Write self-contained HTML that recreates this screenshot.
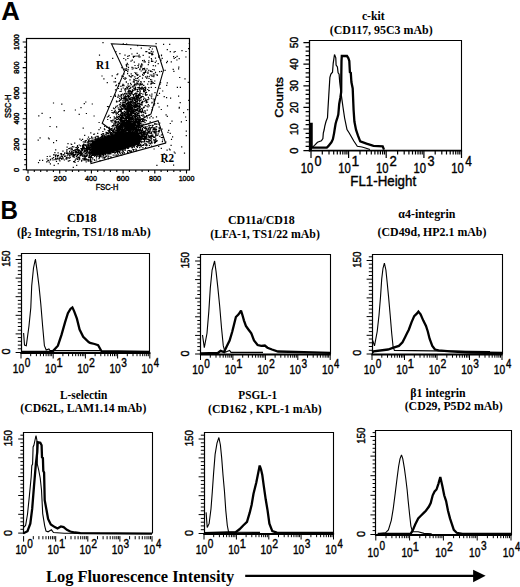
<!DOCTYPE html>
<html><head><meta charset="utf-8"><style>
html,body{margin:0;padding:0;background:#fff;}
body{width:520px;height:587px;overflow:hidden;}
svg{display:block;}
text{fill:#000;}
</style></head><body>
<svg width="520" height="587" viewBox="0 0 520 587">
<rect width="520" height="587" fill="#fff"/>
<text x="1.33" y="19.50" font-size="25.44" font-family="Liberation Sans" font-weight="bold" textLength="18.59" lengthAdjust="spacingAndGlyphs">A</text>
<text x="0.40" y="219.00" font-size="26.16" font-family="Liberation Sans" font-weight="bold" textLength="17.46" lengthAdjust="spacingAndGlyphs">B</text>
<rect x="26.5" y="38.5" width="163" height="131.5" fill="none" stroke="#000" stroke-width="1.2"/>
<path d="M28 170L28 173.5M26.2 169.8L22.7 169.8M34.3 170L34.3 172M26.2 164.7L24.2 164.7M40.7 170L40.7 172M26.2 159.6L24.2 159.6M47 170L47 172M26.2 154.5L24.2 154.5M53.4 170L53.4 172M26.2 149.4L24.2 149.4M59.7 170L59.7 173.5M26.2 144.2L22.7 144.2M66 170L66 172M26.2 139.1L24.2 139.1M72.4 170L72.4 172M26.2 134L24.2 134M78.7 170L78.7 172M26.2 128.9L24.2 128.9M85.1 170L85.1 172M26.2 123.8L24.2 123.8M91.4 170L91.4 173.5M26.2 118.7L22.7 118.7M97.7 170L97.7 172M26.2 113.6L24.2 113.6M104.1 170L104.1 172M26.2 108.5L24.2 108.5M110.4 170L110.4 172M26.2 103.3L24.2 103.3M116.8 170L116.8 172M26.2 98.2L24.2 98.2M123.1 170L123.1 173.5M26.2 93.1L22.7 93.1M129.4 170L129.4 172M26.2 88L24.2 88M135.8 170L135.8 172M26.2 82.9L24.2 82.9M142.1 170L142.1 172M26.2 77.8L24.2 77.8M148.5 170L148.5 172M26.2 72.7L24.2 72.7M154.8 170L154.8 173.5M26.2 67.6L22.7 67.6M161.1 170L161.1 172M26.2 62.4L24.2 62.4M167.5 170L167.5 172M26.2 57.3L24.2 57.3M173.8 170L173.8 172M26.2 52.2L24.2 52.2M180.2 170L180.2 172M26.2 47.1L24.2 47.1M186.5 170L186.5 173.5M26.2 42L22.7 42" stroke="#000" stroke-width="1.1" fill="none"/>
<text x="25.50" y="180.72" font-size="8.05" font-family="Liberation Sans" stroke="#000" stroke-width="0.4" textLength="4.19" lengthAdjust="spacingAndGlyphs">0</text>
<text transform="translate(18.53 171.90) rotate(-90)" x="0" y="0" font-size="6.92" font-family="Liberation Sans" stroke="#000" stroke-width="0.4" textLength="4.19" lengthAdjust="spacingAndGlyphs">0</text>
<text x="53.61" y="180.72" font-size="8.05" font-family="Liberation Sans" stroke="#000" stroke-width="0.4" textLength="12.88" lengthAdjust="spacingAndGlyphs">200</text>
<text transform="translate(18.53 150.73) rotate(-90)" x="0" y="0" font-size="6.92" font-family="Liberation Sans" stroke="#000" stroke-width="0.4" textLength="12.88" lengthAdjust="spacingAndGlyphs">200</text>
<text x="85.09" y="180.72" font-size="8.05" font-family="Liberation Sans" stroke="#000" stroke-width="0.4" textLength="11.93" lengthAdjust="spacingAndGlyphs">400</text>
<text transform="translate(18.53 124.59) rotate(-90)" x="0" y="0" font-size="6.92" font-family="Liberation Sans" stroke="#000" stroke-width="0.4" textLength="11.93" lengthAdjust="spacingAndGlyphs">400</text>
<text x="116.52" y="180.72" font-size="8.05" font-family="Liberation Sans" stroke="#000" stroke-width="0.4" textLength="12.67" lengthAdjust="spacingAndGlyphs">600</text>
<text transform="translate(18.53 99.50) rotate(-90)" x="0" y="0" font-size="6.92" font-family="Liberation Sans" stroke="#000" stroke-width="0.4" textLength="12.67" lengthAdjust="spacingAndGlyphs">600</text>
<text x="148.88" y="180.72" font-size="8.05" font-family="Liberation Sans" stroke="#000" stroke-width="0.4" textLength="12.20" lengthAdjust="spacingAndGlyphs">800</text>
<text transform="translate(18.53 73.68) rotate(-90)" x="0" y="0" font-size="6.92" font-family="Liberation Sans" stroke="#000" stroke-width="0.4" textLength="12.20" lengthAdjust="spacingAndGlyphs">800</text>
<text x="178.66" y="180.72" font-size="8.05" font-family="Liberation Sans" stroke="#000" stroke-width="0.4" textLength="15.81" lengthAdjust="spacingAndGlyphs">1000</text>
<text transform="translate(18.53 50.04) rotate(-90)" x="0" y="0" font-size="6.92" font-family="Liberation Sans" stroke="#000" stroke-width="0.4" textLength="15.81" lengthAdjust="spacingAndGlyphs">1000</text>
<text x="95.69" y="190.02" font-size="8.19" font-family="Liberation Sans" stroke="#000" stroke-width="0.4" textLength="22.71" lengthAdjust="spacingAndGlyphs">FSC-H</text>
<text transform="translate(10.72 117.95) rotate(-90)" x="0" y="0" font-size="8.19" font-family="Liberation Sans" stroke="#000" stroke-width="0.4" textLength="23.36" lengthAdjust="spacingAndGlyphs">SSC-H</text>
<polygon points="92.5,141 100,138.5 108,136.2 119.6,132.7 131,131.5 138,133 141,137 140.4,143.5 131,147.1 119.6,150.6 108,153.5 96.5,155.8 92,156 91,148" fill="#000"/>
<path d="M112.4 146h1.2v1.2h-1.2zM111.6 141.5h1.2v1.2h-1.2zM99.6 145.6h1.2v1.2h-1.2zM135.8 138.5h1.2v1.2h-1.2zM134.3 138h1.2v1.2h-1.2zM123.1 141h1.2v1.2h-1.2zM88.6 155.1h1.2v1.2h-1.2zM125.5 142h1.2v1.2h-1.2zM84.1 141.5h1.2v1.2h-1.2zM99.9 144.1h1.2v1.2h-1.2zM121.2 140.2h1.2v1.2h-1.2zM124 135.9h1.2v1.2h-1.2zM121.9 142.5h1.2v1.2h-1.2zM107.3 154.4h1.2v1.2h-1.2zM127.5 145.5h1.2v1.2h-1.2zM104.1 141.3h1.2v1.2h-1.2zM109.9 143.2h1.2v1.2h-1.2zM127.3 140.1h1.2v1.2h-1.2zM106.8 139.2h1.2v1.2h-1.2zM108.9 151.1h1.2v1.2h-1.2zM102.4 147.4h1.2v1.2h-1.2zM121 132h1.2v1.2h-1.2zM118.9 148.6h1.2v1.2h-1.2zM80.7 150.6h1.2v1.2h-1.2zM112.9 138.2h1.2v1.2h-1.2zM124.5 139.1h1.2v1.2h-1.2zM92 153.9h1.2v1.2h-1.2zM129 143.6h1.2v1.2h-1.2zM141.4 136.5h1.2v1.2h-1.2zM116 134.5h1.2v1.2h-1.2zM125.7 135.6h1.2v1.2h-1.2zM106.2 137.7h1.2v1.2h-1.2zM98.5 144.2h1.2v1.2h-1.2zM135.1 124.7h1.2v1.2h-1.2zM91.2 150.7h1.2v1.2h-1.2zM141.8 137.6h1.2v1.2h-1.2zM79.3 138.5h1.2v1.2h-1.2zM121 136.3h1.2v1.2h-1.2zM98.2 152.9h1.2v1.2h-1.2zM135.3 137.2h1.2v1.2h-1.2zM120.9 143h1.2v1.2h-1.2zM144.5 137.1h1.2v1.2h-1.2zM125.8 142.2h1.2v1.2h-1.2zM90.9 156.8h1.2v1.2h-1.2zM133.3 139.9h1.2v1.2h-1.2zM81 148.8h1.2v1.2h-1.2zM127.7 128.1h1.2v1.2h-1.2zM114.4 148.3h1.2v1.2h-1.2zM95.9 157.2h1.2v1.2h-1.2zM125.3 138.4h1.2v1.2h-1.2zM122.6 143.8h1.2v1.2h-1.2zM119.9 147.4h1.2v1.2h-1.2zM103.9 143.2h1.2v1.2h-1.2zM134 136.8h1.2v1.2h-1.2zM102.3 151.5h1.2v1.2h-1.2zM140.6 132.1h1.2v1.2h-1.2zM92 148.4h1.2v1.2h-1.2zM113 141.2h1.2v1.2h-1.2zM138.6 129.4h1.2v1.2h-1.2zM135.8 128.8h1.2v1.2h-1.2zM103.4 149.4h1.2v1.2h-1.2zM136.8 140.7h1.2v1.2h-1.2zM122.2 141h1.2v1.2h-1.2zM119.5 144.3h1.2v1.2h-1.2zM113.4 144.4h1.2v1.2h-1.2zM125.9 139.1h1.2v1.2h-1.2zM130.1 141.1h1.2v1.2h-1.2zM151.2 133.4h1.2v1.2h-1.2zM108 142.2h1.2v1.2h-1.2zM117.2 146.9h1.2v1.2h-1.2zM110.8 145.8h1.2v1.2h-1.2zM97 149.1h1.2v1.2h-1.2zM123.2 141.2h1.2v1.2h-1.2zM109.6 147.7h1.2v1.2h-1.2zM120 137.8h1.2v1.2h-1.2zM158.5 131.4h1.2v1.2h-1.2zM106.3 144.3h1.2v1.2h-1.2zM112 142.8h1.2v1.2h-1.2zM68.2 153.4h1.2v1.2h-1.2zM131.6 130.7h1.2v1.2h-1.2zM116.3 147.4h1.2v1.2h-1.2zM133.1 145.5h1.2v1.2h-1.2zM86.1 148.9h1.2v1.2h-1.2zM111.1 147h1.2v1.2h-1.2zM130.6 122.3h1.2v1.2h-1.2zM132.5 128.8h1.2v1.2h-1.2zM125.4 130.6h1.2v1.2h-1.2zM120.9 147.4h1.2v1.2h-1.2zM113.7 143.8h1.2v1.2h-1.2zM130 138.7h1.2v1.2h-1.2zM116.9 150.5h1.2v1.2h-1.2zM133.6 135.1h1.2v1.2h-1.2zM131.4 135.9h1.2v1.2h-1.2zM119.4 145h1.2v1.2h-1.2zM120.8 144.2h1.2v1.2h-1.2zM87.3 141.9h1.2v1.2h-1.2zM125.1 133.8h1.2v1.2h-1.2zM96 139.5h1.2v1.2h-1.2zM139 139.4h1.2v1.2h-1.2zM139.9 129.5h1.2v1.2h-1.2zM114.2 136h1.2v1.2h-1.2zM131.7 146.4h1.2v1.2h-1.2zM103.1 154.8h1.2v1.2h-1.2zM132.8 136h1.2v1.2h-1.2zM84.2 159.5h1.2v1.2h-1.2zM113.4 139.3h1.2v1.2h-1.2zM123.5 142.1h1.2v1.2h-1.2zM140.2 128.9h1.2v1.2h-1.2zM137.9 144h1.2v1.2h-1.2zM140.8 133.6h1.2v1.2h-1.2zM104.8 151.2h1.2v1.2h-1.2zM118.2 142.1h1.2v1.2h-1.2zM140.2 133.3h1.2v1.2h-1.2zM75.8 151.7h1.2v1.2h-1.2zM85.3 155.8h1.2v1.2h-1.2zM120.5 137.2h1.2v1.2h-1.2zM117.1 146.4h1.2v1.2h-1.2zM119.4 148.6h1.2v1.2h-1.2zM116.6 147.8h1.2v1.2h-1.2zM144.3 142.8h1.2v1.2h-1.2zM105.8 150.1h1.2v1.2h-1.2zM81.9 145.9h1.2v1.2h-1.2zM83.8 157.7h1.2v1.2h-1.2zM94.7 148.3h1.2v1.2h-1.2zM112.6 142.8h1.2v1.2h-1.2zM106.2 146.3h1.2v1.2h-1.2zM147 133h1.2v1.2h-1.2zM126.7 144.6h1.2v1.2h-1.2zM110.6 136.4h1.2v1.2h-1.2zM108.1 150.5h1.2v1.2h-1.2zM86.7 147.3h1.2v1.2h-1.2zM134.6 141h1.2v1.2h-1.2zM117.4 146.2h1.2v1.2h-1.2zM117 134.9h1.2v1.2h-1.2zM88 146.7h1.2v1.2h-1.2zM131 134.3h1.2v1.2h-1.2zM99.2 142.6h1.2v1.2h-1.2zM89.4 149.2h1.2v1.2h-1.2zM96.2 150h1.2v1.2h-1.2zM75.8 155.8h1.2v1.2h-1.2zM101.9 135.1h1.2v1.2h-1.2zM128.1 136.8h1.2v1.2h-1.2zM76.2 148.8h1.2v1.2h-1.2zM120.3 138.1h1.2v1.2h-1.2zM130.6 141.9h1.2v1.2h-1.2zM128 140.3h1.2v1.2h-1.2zM140 138.6h1.2v1.2h-1.2zM120.5 128.7h1.2v1.2h-1.2zM133.5 144.3h1.2v1.2h-1.2zM110.1 141h1.2v1.2h-1.2zM127.9 152.4h1.2v1.2h-1.2zM101.1 150.4h1.2v1.2h-1.2zM148.4 131.7h1.2v1.2h-1.2zM127.1 143.9h1.2v1.2h-1.2zM100.2 146.2h1.2v1.2h-1.2zM122.3 144.8h1.2v1.2h-1.2zM115.1 141.1h1.2v1.2h-1.2zM97.9 145.3h1.2v1.2h-1.2zM131.5 138h1.2v1.2h-1.2zM100 141.9h1.2v1.2h-1.2zM122.9 125.1h1.2v1.2h-1.2zM127.5 141.3h1.2v1.2h-1.2zM145.7 135.6h1.2v1.2h-1.2zM115.7 145.1h1.2v1.2h-1.2zM84.1 157.4h1.2v1.2h-1.2zM120.5 136.6h1.2v1.2h-1.2zM141.7 144.7h1.2v1.2h-1.2zM90.8 145.7h1.2v1.2h-1.2zM121.3 141.5h1.2v1.2h-1.2zM107.6 138.9h1.2v1.2h-1.2zM154.2 136.6h1.2v1.2h-1.2zM93.3 141h1.2v1.2h-1.2zM146.9 138.5h1.2v1.2h-1.2zM148.7 136.9h1.2v1.2h-1.2zM101.4 147.8h1.2v1.2h-1.2zM77.6 149.1h1.2v1.2h-1.2zM115.8 145.1h1.2v1.2h-1.2zM103.3 145.1h1.2v1.2h-1.2zM124.5 141.6h1.2v1.2h-1.2zM127.3 139.8h1.2v1.2h-1.2zM111.6 147.8h1.2v1.2h-1.2zM115.6 137.4h1.2v1.2h-1.2zM105.2 145.2h1.2v1.2h-1.2zM114.4 143.4h1.2v1.2h-1.2zM116.3 142.9h1.2v1.2h-1.2zM111.7 136.1h1.2v1.2h-1.2zM124.9 145.4h1.2v1.2h-1.2zM123.2 138.8h1.2v1.2h-1.2zM122.2 134.6h1.2v1.2h-1.2zM83.4 152h1.2v1.2h-1.2zM101.1 150.7h1.2v1.2h-1.2zM93.2 133.7h1.2v1.2h-1.2zM100.5 155.7h1.2v1.2h-1.2zM107.3 136.7h1.2v1.2h-1.2zM103.6 148.7h1.2v1.2h-1.2zM124.8 140.4h1.2v1.2h-1.2zM142.7 138.1h1.2v1.2h-1.2zM116.6 145.3h1.2v1.2h-1.2zM146.1 138.6h1.2v1.2h-1.2zM132 131h1.2v1.2h-1.2zM114.6 146.6h1.2v1.2h-1.2zM112.6 149.2h1.2v1.2h-1.2zM127.7 143.7h1.2v1.2h-1.2zM137.1 134.5h1.2v1.2h-1.2zM111.4 148.4h1.2v1.2h-1.2zM132.9 137h1.2v1.2h-1.2zM96.2 149h1.2v1.2h-1.2zM124 146.1h1.2v1.2h-1.2zM129.5 138.1h1.2v1.2h-1.2zM131.6 140.5h1.2v1.2h-1.2zM119.6 141.2h1.2v1.2h-1.2zM112.9 146.9h1.2v1.2h-1.2zM96.8 144.1h1.2v1.2h-1.2zM113.8 134.3h1.2v1.2h-1.2zM105.3 133.6h1.2v1.2h-1.2zM105.1 148.5h1.2v1.2h-1.2zM125.7 138.8h1.2v1.2h-1.2zM109.8 135.7h1.2v1.2h-1.2zM148.3 135.3h1.2v1.2h-1.2zM133.5 131.7h1.2v1.2h-1.2zM110 133.4h1.2v1.2h-1.2zM130.9 142.9h1.2v1.2h-1.2zM83.2 151.5h1.2v1.2h-1.2zM124.1 129.5h1.2v1.2h-1.2zM82.8 145.7h1.2v1.2h-1.2zM102.9 137.8h1.2v1.2h-1.2zM116.9 143.2h1.2v1.2h-1.2zM128 142.4h1.2v1.2h-1.2zM143.8 140.4h1.2v1.2h-1.2zM92.6 146.1h1.2v1.2h-1.2zM96 141.8h1.2v1.2h-1.2zM114.6 142.4h1.2v1.2h-1.2zM122 131.1h1.2v1.2h-1.2zM94.6 148.2h1.2v1.2h-1.2zM112.1 141.4h1.2v1.2h-1.2zM113.7 138.3h1.2v1.2h-1.2zM128.7 140.3h1.2v1.2h-1.2zM113.4 138.9h1.2v1.2h-1.2zM108.7 128.5h1.2v1.2h-1.2zM99.1 147.2h1.2v1.2h-1.2zM90.4 150.8h1.2v1.2h-1.2zM116.4 134h1.2v1.2h-1.2zM111.2 141.6h1.2v1.2h-1.2zM124.9 142.9h1.2v1.2h-1.2zM114 137.7h1.2v1.2h-1.2zM113.4 142.4h1.2v1.2h-1.2zM129.1 139.8h1.2v1.2h-1.2zM101.4 138.6h1.2v1.2h-1.2zM108.4 140h1.2v1.2h-1.2zM96.6 147.1h1.2v1.2h-1.2zM107.7 145.1h1.2v1.2h-1.2zM124.4 137.1h1.2v1.2h-1.2zM155.6 128.4h1.2v1.2h-1.2zM135.2 137h1.2v1.2h-1.2zM131.5 123.7h1.2v1.2h-1.2zM103.4 147.2h1.2v1.2h-1.2zM130.1 151.2h1.2v1.2h-1.2zM123.6 147.1h1.2v1.2h-1.2zM130.7 143.1h1.2v1.2h-1.2zM124.6 138.6h1.2v1.2h-1.2zM123.1 133.7h1.2v1.2h-1.2zM134.8 130.6h1.2v1.2h-1.2zM123.6 151.9h1.2v1.2h-1.2zM112.2 143.2h1.2v1.2h-1.2zM136.1 136.2h1.2v1.2h-1.2zM102.5 147.5h1.2v1.2h-1.2zM127.2 142.8h1.2v1.2h-1.2zM105.4 155.2h1.2v1.2h-1.2zM144.8 133.5h1.2v1.2h-1.2zM120 138.4h1.2v1.2h-1.2zM139.3 131h1.2v1.2h-1.2zM126.9 136h1.2v1.2h-1.2zM105.2 149.3h1.2v1.2h-1.2zM139 135.1h1.2v1.2h-1.2zM105.6 149.8h1.2v1.2h-1.2zM115.6 143.9h1.2v1.2h-1.2zM144 140.2h1.2v1.2h-1.2zM110.6 156.7h1.2v1.2h-1.2zM117.3 146.1h1.2v1.2h-1.2zM104.8 145.1h1.2v1.2h-1.2zM88.6 160.4h1.2v1.2h-1.2zM137.7 128.6h1.2v1.2h-1.2zM87.5 141.2h1.2v1.2h-1.2zM135.6 133.5h1.2v1.2h-1.2zM114.5 140.7h1.2v1.2h-1.2zM112.2 136.9h1.2v1.2h-1.2zM114.2 134.3h1.2v1.2h-1.2zM115.3 144h1.2v1.2h-1.2zM123.7 138.4h1.2v1.2h-1.2zM100.7 147.5h1.2v1.2h-1.2zM110.1 152.7h1.2v1.2h-1.2zM129.1 137.5h1.2v1.2h-1.2zM106.8 140.7h1.2v1.2h-1.2zM99.3 144.9h1.2v1.2h-1.2zM121.9 143.2h1.2v1.2h-1.2zM129.1 150.1h1.2v1.2h-1.2zM103.9 145.7h1.2v1.2h-1.2zM107.3 145.6h1.2v1.2h-1.2zM119.3 143.4h1.2v1.2h-1.2zM112.5 145.2h1.2v1.2h-1.2zM118.1 145.8h1.2v1.2h-1.2zM82 147h1.2v1.2h-1.2zM114.3 136.6h1.2v1.2h-1.2zM99 150.7h1.2v1.2h-1.2zM105.8 148.7h1.2v1.2h-1.2zM129.3 139.8h1.2v1.2h-1.2zM124.6 138.8h1.2v1.2h-1.2zM91.6 149.1h1.2v1.2h-1.2zM123 136.9h1.2v1.2h-1.2zM115.5 146.5h1.2v1.2h-1.2zM101.9 149.9h1.2v1.2h-1.2zM147.3 129.5h1.2v1.2h-1.2zM118.3 140.5h1.2v1.2h-1.2zM143.1 135.8h1.2v1.2h-1.2zM130.4 133.8h1.2v1.2h-1.2zM115.7 142h1.2v1.2h-1.2zM87.6 158.7h1.2v1.2h-1.2zM128.8 128.2h1.2v1.2h-1.2zM128.6 137.5h1.2v1.2h-1.2zM124.3 141.6h1.2v1.2h-1.2zM89.8 148.6h1.2v1.2h-1.2zM140.9 131.3h1.2v1.2h-1.2zM96.2 140.1h1.2v1.2h-1.2zM95.5 150h1.2v1.2h-1.2zM145.9 135.6h1.2v1.2h-1.2zM123.7 152.5h1.2v1.2h-1.2zM106 141.1h1.2v1.2h-1.2zM126 142.2h1.2v1.2h-1.2zM96.7 141h1.2v1.2h-1.2zM121.4 141.8h1.2v1.2h-1.2zM93.1 147.6h1.2v1.2h-1.2zM107.4 147.2h1.2v1.2h-1.2zM113.9 142.1h1.2v1.2h-1.2zM111.6 149.4h1.2v1.2h-1.2zM139.4 132.9h1.2v1.2h-1.2zM129.4 133.7h1.2v1.2h-1.2zM118.4 145.6h1.2v1.2h-1.2zM141.5 132.2h1.2v1.2h-1.2zM115 143.4h1.2v1.2h-1.2zM90.2 149.8h1.2v1.2h-1.2zM104.9 147.4h1.2v1.2h-1.2zM93.4 137.4h1.2v1.2h-1.2zM117.1 143.2h1.2v1.2h-1.2zM107.9 149.5h1.2v1.2h-1.2zM110.3 140.2h1.2v1.2h-1.2zM121.8 131.3h1.2v1.2h-1.2zM104.3 145.4h1.2v1.2h-1.2zM130.4 136.8h1.2v1.2h-1.2zM120.3 137h1.2v1.2h-1.2zM123.8 149.2h1.2v1.2h-1.2zM107.9 158h1.2v1.2h-1.2zM104.9 145.4h1.2v1.2h-1.2zM120.6 146.5h1.2v1.2h-1.2zM91.4 137.3h1.2v1.2h-1.2zM127.7 143.1h1.2v1.2h-1.2zM119.9 142.3h1.2v1.2h-1.2zM132.6 139.2h1.2v1.2h-1.2zM142.8 126.9h1.2v1.2h-1.2zM104.1 125.8h1.2v1.2h-1.2zM129.4 135.9h1.2v1.2h-1.2zM135.3 148.6h1.2v1.2h-1.2zM115.5 140.7h1.2v1.2h-1.2zM106.1 140.1h1.2v1.2h-1.2zM106.1 148.6h1.2v1.2h-1.2zM116.7 142.2h1.2v1.2h-1.2zM114.4 147.7h1.2v1.2h-1.2zM124.3 138.7h1.2v1.2h-1.2zM127.2 137.8h1.2v1.2h-1.2zM98.4 155.6h1.2v1.2h-1.2zM122.5 134.6h1.2v1.2h-1.2zM135.2 138.3h1.2v1.2h-1.2zM91.5 158.5h1.2v1.2h-1.2zM123.2 145h1.2v1.2h-1.2zM119.2 140.2h1.2v1.2h-1.2zM90.8 155.1h1.2v1.2h-1.2zM116.1 140.3h1.2v1.2h-1.2zM122.2 140.6h1.2v1.2h-1.2zM127.1 136.6h1.2v1.2h-1.2zM112 130.9h1.2v1.2h-1.2zM109.8 147.7h1.2v1.2h-1.2zM138.5 133.2h1.2v1.2h-1.2zM116.4 151h1.2v1.2h-1.2zM111.5 147.5h1.2v1.2h-1.2zM145 133.6h1.2v1.2h-1.2zM136.1 132h1.2v1.2h-1.2zM119.5 140.5h1.2v1.2h-1.2zM119.8 147.4h1.2v1.2h-1.2zM156.2 126.2h1.2v1.2h-1.2zM106.9 147.6h1.2v1.2h-1.2zM98.6 150h1.2v1.2h-1.2zM125.4 137.6h1.2v1.2h-1.2zM122.7 131.1h1.2v1.2h-1.2zM126.7 130h1.2v1.2h-1.2zM103.1 142.6h1.2v1.2h-1.2zM110.4 148.6h1.2v1.2h-1.2zM116.8 139.5h1.2v1.2h-1.2zM127.9 147.5h1.2v1.2h-1.2zM116.7 143.9h1.2v1.2h-1.2zM137.8 137.1h1.2v1.2h-1.2zM116 144.4h1.2v1.2h-1.2zM133.7 140.6h1.2v1.2h-1.2zM109.7 137.8h1.2v1.2h-1.2zM119.4 146.9h1.2v1.2h-1.2zM95.6 142.2h1.2v1.2h-1.2zM112.5 131.9h1.2v1.2h-1.2zM110.8 141h1.2v1.2h-1.2zM122.7 136h1.2v1.2h-1.2zM100.2 144.4h1.2v1.2h-1.2zM114.1 138.8h1.2v1.2h-1.2zM117.4 145.9h1.2v1.2h-1.2zM139.1 144.9h1.2v1.2h-1.2zM101.8 143.8h1.2v1.2h-1.2zM76.1 164.7h1.2v1.2h-1.2zM103.4 145.5h1.2v1.2h-1.2zM122.9 132.2h1.2v1.2h-1.2zM124 139.5h1.2v1.2h-1.2zM85 152.9h1.2v1.2h-1.2zM133.7 126h1.2v1.2h-1.2zM130.3 139h1.2v1.2h-1.2zM124.9 141.9h1.2v1.2h-1.2zM138.1 134.1h1.2v1.2h-1.2zM130.4 135.4h1.2v1.2h-1.2zM127.3 134h1.2v1.2h-1.2zM116.8 151.7h1.2v1.2h-1.2zM123.4 138.9h1.2v1.2h-1.2zM95 143.7h1.2v1.2h-1.2zM120.8 146h1.2v1.2h-1.2zM124.2 142.6h1.2v1.2h-1.2zM117.4 149.3h1.2v1.2h-1.2zM108.4 141.1h1.2v1.2h-1.2zM131.4 137.8h1.2v1.2h-1.2zM110.3 140.4h1.2v1.2h-1.2zM112.5 146.6h1.2v1.2h-1.2zM120.2 133.8h1.2v1.2h-1.2zM123.6 140.8h1.2v1.2h-1.2zM100 151.2h1.2v1.2h-1.2zM110.6 141.7h1.2v1.2h-1.2zM131.8 144.9h1.2v1.2h-1.2zM104.8 147.8h1.2v1.2h-1.2zM104.5 158.7h1.2v1.2h-1.2zM109.4 150.8h1.2v1.2h-1.2zM106.1 149.6h1.2v1.2h-1.2zM109.3 146.9h1.2v1.2h-1.2zM113.4 139h1.2v1.2h-1.2zM153.3 131.4h1.2v1.2h-1.2zM89 154.9h1.2v1.2h-1.2zM88.1 156.9h1.2v1.2h-1.2zM106.3 145.7h1.2v1.2h-1.2zM137.9 136.2h1.2v1.2h-1.2zM89.3 140.2h1.2v1.2h-1.2zM137.6 139.8h1.2v1.2h-1.2zM103.3 150.7h1.2v1.2h-1.2zM125.6 142.9h1.2v1.2h-1.2zM76.6 152h1.2v1.2h-1.2zM132.7 141.2h1.2v1.2h-1.2zM127.4 124.5h1.2v1.2h-1.2zM119.7 143.7h1.2v1.2h-1.2zM158.5 123.9h1.2v1.2h-1.2zM110.4 143.9h1.2v1.2h-1.2zM130.6 135.1h1.2v1.2h-1.2zM134.6 132h1.2v1.2h-1.2zM119.8 137.9h1.2v1.2h-1.2zM117.6 137.5h1.2v1.2h-1.2zM90.2 156h1.2v1.2h-1.2zM120.4 137.5h1.2v1.2h-1.2zM121 146.2h1.2v1.2h-1.2zM99 146.4h1.2v1.2h-1.2zM126.1 142h1.2v1.2h-1.2zM106.9 132.6h1.2v1.2h-1.2zM138 137.4h1.2v1.2h-1.2zM115.8 140.5h1.2v1.2h-1.2zM119.9 138.4h1.2v1.2h-1.2zM97.2 143.4h1.2v1.2h-1.2zM104.7 141.8h1.2v1.2h-1.2zM97 151.3h1.2v1.2h-1.2zM94.4 152.2h1.2v1.2h-1.2zM99 149.1h1.2v1.2h-1.2zM140 136h1.2v1.2h-1.2zM103.5 146h1.2v1.2h-1.2zM115.8 132.1h1.2v1.2h-1.2zM105.8 146h1.2v1.2h-1.2zM108 144.8h1.2v1.2h-1.2zM129.9 142.3h1.2v1.2h-1.2zM132.5 140.5h1.2v1.2h-1.2zM111 143.4h1.2v1.2h-1.2zM110.8 141.7h1.2v1.2h-1.2zM110.2 133.8h1.2v1.2h-1.2zM110.2 143.6h1.2v1.2h-1.2zM99.2 146.9h1.2v1.2h-1.2zM124.6 138.5h1.2v1.2h-1.2zM109.6 133.4h1.2v1.2h-1.2zM73 155.5h1.2v1.2h-1.2zM124.5 137.7h1.2v1.2h-1.2zM122 127.3h1.2v1.2h-1.2zM131.3 139.6h1.2v1.2h-1.2zM115.5 138.8h1.2v1.2h-1.2zM126.3 136.2h1.2v1.2h-1.2zM119.1 138.2h1.2v1.2h-1.2zM77.2 153.4h1.2v1.2h-1.2zM120.7 144.9h1.2v1.2h-1.2zM100.8 146.3h1.2v1.2h-1.2zM126.9 139.6h1.2v1.2h-1.2zM140.6 146.1h1.2v1.2h-1.2zM97.3 136.5h1.2v1.2h-1.2zM133.2 145.7h1.2v1.2h-1.2zM133.2 141.6h1.2v1.2h-1.2zM104.2 141.4h1.2v1.2h-1.2zM129.9 132.6h1.2v1.2h-1.2zM83.2 146h1.2v1.2h-1.2zM162 139.4h1.2v1.2h-1.2zM103 141.7h1.2v1.2h-1.2zM118.8 136.9h1.2v1.2h-1.2zM138.5 134.9h1.2v1.2h-1.2zM99.3 154.5h1.2v1.2h-1.2zM106.3 146.2h1.2v1.2h-1.2zM115.3 140.4h1.2v1.2h-1.2zM120.5 136.7h1.2v1.2h-1.2zM80.7 139.8h1.2v1.2h-1.2zM93 144.5h1.2v1.2h-1.2zM115.7 142.4h1.2v1.2h-1.2zM125.8 139.8h1.2v1.2h-1.2zM101.2 142.3h1.2v1.2h-1.2zM79.2 152h1.2v1.2h-1.2zM125.2 142.3h1.2v1.2h-1.2zM113.6 141.7h1.2v1.2h-1.2zM132.2 137.3h1.2v1.2h-1.2zM129.6 141.3h1.2v1.2h-1.2zM121.7 147.8h1.2v1.2h-1.2zM105.6 143h1.2v1.2h-1.2zM100.8 141.9h1.2v1.2h-1.2zM145.6 143.3h1.2v1.2h-1.2zM117.3 144.9h1.2v1.2h-1.2zM137.5 140.2h1.2v1.2h-1.2zM134.8 129.2h1.2v1.2h-1.2zM105.7 147.7h1.2v1.2h-1.2zM140.9 135.2h1.2v1.2h-1.2zM100.6 144.5h1.2v1.2h-1.2zM103.3 140.9h1.2v1.2h-1.2zM140.9 131h1.2v1.2h-1.2zM119.7 153.3h1.2v1.2h-1.2zM137 137.7h1.2v1.2h-1.2zM106.1 147.3h1.2v1.2h-1.2zM145 137h1.2v1.2h-1.2zM137.9 136h1.2v1.2h-1.2zM124.6 138.3h1.2v1.2h-1.2zM125.4 146.7h1.2v1.2h-1.2zM91.2 149h1.2v1.2h-1.2zM119.3 137.8h1.2v1.2h-1.2zM111.9 147.7h1.2v1.2h-1.2zM151.5 135.1h1.2v1.2h-1.2zM119.2 132.1h1.2v1.2h-1.2zM149.4 132.5h1.2v1.2h-1.2zM113.7 136.3h1.2v1.2h-1.2zM113.3 136.5h1.2v1.2h-1.2zM118 144.1h1.2v1.2h-1.2zM117 143.3h1.2v1.2h-1.2zM103.5 153.9h1.2v1.2h-1.2zM101.9 135.8h1.2v1.2h-1.2zM111.6 138.9h1.2v1.2h-1.2zM98 145.3h1.2v1.2h-1.2zM119.2 134.3h1.2v1.2h-1.2zM115.9 150.2h1.2v1.2h-1.2zM127.5 137.7h1.2v1.2h-1.2zM118 140.7h1.2v1.2h-1.2zM116.3 146.1h1.2v1.2h-1.2zM110.6 129.8h1.2v1.2h-1.2zM114.2 137.4h1.2v1.2h-1.2zM126.3 135.4h1.2v1.2h-1.2zM122 152.7h1.2v1.2h-1.2zM96.2 141.4h1.2v1.2h-1.2zM87.9 136.6h1.2v1.2h-1.2zM84.2 153.6h1.2v1.2h-1.2zM102.1 135.4h1.2v1.2h-1.2zM91.4 152.9h1.2v1.2h-1.2zM102 144h1.2v1.2h-1.2zM123.8 147.5h1.2v1.2h-1.2zM151.1 137.5h1.2v1.2h-1.2zM118.8 142.2h1.2v1.2h-1.2zM149.3 140.3h1.2v1.2h-1.2zM111.4 146h1.2v1.2h-1.2zM121 140.8h1.2v1.2h-1.2zM105.3 137.6h1.2v1.2h-1.2zM104.4 136.6h1.2v1.2h-1.2zM138 138.6h1.2v1.2h-1.2zM97.4 155.5h1.2v1.2h-1.2zM128.4 127.4h1.2v1.2h-1.2zM149 136.8h1.2v1.2h-1.2zM149.7 124.9h1.2v1.2h-1.2zM125.8 141.5h1.2v1.2h-1.2zM119.8 141.9h1.2v1.2h-1.2zM131.8 128.7h1.2v1.2h-1.2zM92.4 141h1.2v1.2h-1.2zM105.4 141.7h1.2v1.2h-1.2zM122.8 141.5h1.2v1.2h-1.2zM115.5 138.3h1.2v1.2h-1.2zM109.9 149.3h1.2v1.2h-1.2zM129.3 138.6h1.2v1.2h-1.2zM112.9 151.8h1.2v1.2h-1.2zM106.8 148.5h1.2v1.2h-1.2zM135.5 134.7h1.2v1.2h-1.2zM128.5 131.9h1.2v1.2h-1.2zM133.8 137.9h1.2v1.2h-1.2zM89.7 153.7h1.2v1.2h-1.2zM102.6 153.3h1.2v1.2h-1.2zM104 144.6h1.2v1.2h-1.2zM120.4 138.8h1.2v1.2h-1.2zM119.6 137.8h1.2v1.2h-1.2zM127.6 138.6h1.2v1.2h-1.2zM115.3 126.4h1.2v1.2h-1.2zM136.1 136.2h1.2v1.2h-1.2zM85.4 151.6h1.2v1.2h-1.2zM125.7 145.2h1.2v1.2h-1.2zM99.7 155.7h1.2v1.2h-1.2zM117 155.4h1.2v1.2h-1.2zM114.5 146.3h1.2v1.2h-1.2zM107.9 138h1.2v1.2h-1.2zM136.3 141.2h1.2v1.2h-1.2zM143.9 138.6h1.2v1.2h-1.2zM103.5 136.2h1.2v1.2h-1.2zM103.7 141.8h1.2v1.2h-1.2zM102.8 149.3h1.2v1.2h-1.2zM121.2 138.9h1.2v1.2h-1.2zM118.7 140.3h1.2v1.2h-1.2zM120.8 144.9h1.2v1.2h-1.2zM131.5 133.5h1.2v1.2h-1.2zM92.2 157.3h1.2v1.2h-1.2zM119.7 147.2h1.2v1.2h-1.2zM87.1 148.7h1.2v1.2h-1.2zM114.2 134.3h1.2v1.2h-1.2zM108.2 148.5h1.2v1.2h-1.2zM137.1 144.9h1.2v1.2h-1.2zM98.9 139h1.2v1.2h-1.2zM126.5 144.3h1.2v1.2h-1.2zM117.3 134.1h1.2v1.2h-1.2zM130.7 142.2h1.2v1.2h-1.2zM124.8 136.6h1.2v1.2h-1.2zM122.5 144.6h1.2v1.2h-1.2zM103.5 135.1h1.2v1.2h-1.2zM122.4 142.8h1.2v1.2h-1.2zM117.6 146.6h1.2v1.2h-1.2zM105.7 144.6h1.2v1.2h-1.2zM111.6 146.6h1.2v1.2h-1.2zM143.1 132.5h1.2v1.2h-1.2zM153.9 139.5h1.2v1.2h-1.2zM130.6 141h1.2v1.2h-1.2zM146.3 132h1.2v1.2h-1.2zM112.4 137h1.2v1.2h-1.2zM126.3 146.7h1.2v1.2h-1.2zM125.8 141.5h1.2v1.2h-1.2zM112.8 143.9h1.2v1.2h-1.2zM93.1 154.8h1.2v1.2h-1.2zM107.2 138.3h1.2v1.2h-1.2zM101.7 141.5h1.2v1.2h-1.2zM132.4 143.2h1.2v1.2h-1.2zM94 153.8h1.2v1.2h-1.2zM130.4 134.4h1.2v1.2h-1.2zM89.2 145.7h1.2v1.2h-1.2zM105.6 147.1h1.2v1.2h-1.2zM106.6 133.1h1.2v1.2h-1.2zM117.6 132.7h1.2v1.2h-1.2zM129.7 131h1.2v1.2h-1.2zM102.7 141.1h1.2v1.2h-1.2zM108.7 151.6h1.2v1.2h-1.2zM131.6 140.8h1.2v1.2h-1.2zM119.1 132.2h1.2v1.2h-1.2zM106.2 141.8h1.2v1.2h-1.2zM99.9 149.7h1.2v1.2h-1.2zM102.1 142.1h1.2v1.2h-1.2zM94.8 136.5h1.2v1.2h-1.2zM128.4 146h1.2v1.2h-1.2zM117.5 136h1.2v1.2h-1.2zM69.6 156.8h1.2v1.2h-1.2zM137.5 137.3h1.2v1.2h-1.2zM134.3 145h1.2v1.2h-1.2zM134.8 133.9h1.2v1.2h-1.2zM135.4 140.7h1.2v1.2h-1.2zM88.8 147.7h1.2v1.2h-1.2zM91.3 148.7h1.2v1.2h-1.2zM124.3 133.4h1.2v1.2h-1.2zM82.6 159.4h1.2v1.2h-1.2zM124.8 147.8h1.2v1.2h-1.2zM94.8 154.4h1.2v1.2h-1.2zM154.9 141.9h1.2v1.2h-1.2zM112.8 144.5h1.2v1.2h-1.2zM114.9 148.1h1.2v1.2h-1.2zM134 137.1h1.2v1.2h-1.2zM93.7 152.9h1.2v1.2h-1.2zM108.9 147.7h1.2v1.2h-1.2zM123.1 149.2h1.2v1.2h-1.2zM134.9 133.8h1.2v1.2h-1.2zM124.8 149.5h1.2v1.2h-1.2zM107.4 147h1.2v1.2h-1.2zM138.5 142.5h1.2v1.2h-1.2zM122.9 132.4h1.2v1.2h-1.2zM94.6 149.8h1.2v1.2h-1.2zM102.9 152.4h1.2v1.2h-1.2zM126.7 129.2h1.2v1.2h-1.2zM102.1 147.1h1.2v1.2h-1.2zM107.2 143.7h1.2v1.2h-1.2zM122.8 135.3h1.2v1.2h-1.2zM123 136.3h1.2v1.2h-1.2zM107.4 147.6h1.2v1.2h-1.2zM106.6 146.5h1.2v1.2h-1.2zM143.6 133.9h1.2v1.2h-1.2zM114.6 146.6h1.2v1.2h-1.2zM111.4 149.6h1.2v1.2h-1.2zM94.8 151.8h1.2v1.2h-1.2zM105.9 140.4h1.2v1.2h-1.2zM145.2 128.4h1.2v1.2h-1.2zM147.3 136.5h1.2v1.2h-1.2zM139.5 129.4h1.2v1.2h-1.2zM139 143.5h1.2v1.2h-1.2zM113.8 141.9h1.2v1.2h-1.2zM158.7 130.3h1.2v1.2h-1.2zM107.7 140.8h1.2v1.2h-1.2zM124.2 141.5h1.2v1.2h-1.2zM121.8 150.2h1.2v1.2h-1.2zM111.1 146.2h1.2v1.2h-1.2zM139.6 129.2h1.2v1.2h-1.2zM136.8 146.3h1.2v1.2h-1.2zM90.9 143.2h1.2v1.2h-1.2zM95.2 137.6h1.2v1.2h-1.2zM120.9 129.9h1.2v1.2h-1.2zM126.9 147.1h1.2v1.2h-1.2zM87.6 148.6h1.2v1.2h-1.2zM84.1 155.9h1.2v1.2h-1.2zM102.9 144.4h1.2v1.2h-1.2zM117.8 144.6h1.2v1.2h-1.2zM110 143.9h1.2v1.2h-1.2zM106.7 145.4h1.2v1.2h-1.2zM95.9 148.4h1.2v1.2h-1.2zM81.9 149.3h1.2v1.2h-1.2zM149.2 132.6h1.2v1.2h-1.2zM94.7 149.8h1.2v1.2h-1.2zM96.6 138.3h1.2v1.2h-1.2zM104.4 149.7h1.2v1.2h-1.2zM122.5 139.5h1.2v1.2h-1.2zM98.3 141.1h1.2v1.2h-1.2zM139.7 136.4h1.2v1.2h-1.2zM96.3 135.8h1.2v1.2h-1.2zM96.1 147.5h1.2v1.2h-1.2zM119.4 140.1h1.2v1.2h-1.2zM109 136.2h1.2v1.2h-1.2zM100.5 156.3h1.2v1.2h-1.2zM104.3 150.3h1.2v1.2h-1.2zM86.3 149.2h1.2v1.2h-1.2zM122.1 146.1h1.2v1.2h-1.2zM97.6 150.9h1.2v1.2h-1.2zM121.5 136.1h1.2v1.2h-1.2zM122.8 134.8h1.2v1.2h-1.2zM102.2 146h1.2v1.2h-1.2zM69 155.3h1.2v1.2h-1.2zM96.5 139.4h1.2v1.2h-1.2zM109.9 148.2h1.2v1.2h-1.2zM111 150.7h1.2v1.2h-1.2zM93.9 141h1.2v1.2h-1.2zM143.4 136.1h1.2v1.2h-1.2zM131 132.8h1.2v1.2h-1.2zM130.3 139.2h1.2v1.2h-1.2zM127.2 138.8h1.2v1.2h-1.2zM135.8 132.4h1.2v1.2h-1.2zM97.1 139.2h1.2v1.2h-1.2zM134.9 132.2h1.2v1.2h-1.2zM96.5 142.4h1.2v1.2h-1.2zM106.3 137.6h1.2v1.2h-1.2zM110 140.2h1.2v1.2h-1.2zM105 139.8h1.2v1.2h-1.2zM115.9 139.4h1.2v1.2h-1.2zM118.4 142.7h1.2v1.2h-1.2zM118.4 128.7h1.2v1.2h-1.2zM105.5 140.6h1.2v1.2h-1.2zM126.9 129.7h1.2v1.2h-1.2zM103.2 144.1h1.2v1.2h-1.2zM111.8 149h1.2v1.2h-1.2zM109.9 149.4h1.2v1.2h-1.2zM87.9 140h1.2v1.2h-1.2zM137.7 138h1.2v1.2h-1.2zM124.6 140.1h1.2v1.2h-1.2zM122.5 133.1h1.2v1.2h-1.2zM131.5 134.3h1.2v1.2h-1.2zM133.1 137.4h1.2v1.2h-1.2zM79.9 145.3h1.2v1.2h-1.2zM135.2 135.5h1.2v1.2h-1.2zM109.6 145.3h1.2v1.2h-1.2zM107.8 141.3h1.2v1.2h-1.2zM118 142.2h1.2v1.2h-1.2zM142.2 134.5h1.2v1.2h-1.2zM151.3 141.9h1.2v1.2h-1.2zM147.3 138.8h1.2v1.2h-1.2zM118.5 142.1h1.2v1.2h-1.2zM112.4 138.9h1.2v1.2h-1.2zM113.8 139h1.2v1.2h-1.2zM145.1 136.4h1.2v1.2h-1.2zM105.3 134.2h1.2v1.2h-1.2zM114.4 140.1h1.2v1.2h-1.2zM95.5 141.6h1.2v1.2h-1.2zM78.1 156.5h1.2v1.2h-1.2zM115.2 141.4h1.2v1.2h-1.2zM141.1 135.3h1.2v1.2h-1.2zM118.3 139.2h1.2v1.2h-1.2zM107.9 153h1.2v1.2h-1.2zM136 145.9h1.2v1.2h-1.2zM110 144h1.2v1.2h-1.2zM102.3 151.6h1.2v1.2h-1.2zM92.8 152.1h1.2v1.2h-1.2zM137.1 143.8h1.2v1.2h-1.2zM101.5 152.6h1.2v1.2h-1.2zM102.5 141.7h1.2v1.2h-1.2zM95 154.9h1.2v1.2h-1.2zM143.5 130.4h1.2v1.2h-1.2zM102.4 144.1h1.2v1.2h-1.2zM160.8 134.4h1.2v1.2h-1.2zM103.8 135.3h1.2v1.2h-1.2zM106.3 151.7h1.2v1.2h-1.2zM147.8 131h1.2v1.2h-1.2zM103.3 142.9h1.2v1.2h-1.2zM84.9 156.5h1.2v1.2h-1.2zM98.9 153.2h1.2v1.2h-1.2zM84.5 144.1h1.2v1.2h-1.2zM119.8 136.5h1.2v1.2h-1.2zM129.5 138h1.2v1.2h-1.2zM96.7 151.3h1.2v1.2h-1.2zM127.5 127.6h1.2v1.2h-1.2zM148.3 135.3h1.2v1.2h-1.2zM126.2 128.3h1.2v1.2h-1.2zM103 143.9h1.2v1.2h-1.2zM132.3 128.8h1.2v1.2h-1.2zM97.6 135.8h1.2v1.2h-1.2zM112.4 145.1h1.2v1.2h-1.2zM86 147.5h1.2v1.2h-1.2zM127.3 147.7h1.2v1.2h-1.2zM127 137h1.2v1.2h-1.2zM94.2 143.1h1.2v1.2h-1.2zM104.8 146.2h1.2v1.2h-1.2zM117.8 151h1.2v1.2h-1.2zM119.3 134.9h1.2v1.2h-1.2zM144.1 139.1h1.2v1.2h-1.2zM116.6 137.7h1.2v1.2h-1.2zM82.1 146.2h1.2v1.2h-1.2zM130.5 133.1h1.2v1.2h-1.2zM93.5 149.8h1.2v1.2h-1.2zM121.2 143.9h1.2v1.2h-1.2zM129.5 146.1h1.2v1.2h-1.2zM103.1 151.5h1.2v1.2h-1.2zM100.1 150.7h1.2v1.2h-1.2zM119.5 142.4h1.2v1.2h-1.2zM132.7 136.9h1.2v1.2h-1.2zM136.6 140.9h1.2v1.2h-1.2zM117.4 138.3h1.2v1.2h-1.2zM102.2 143.1h1.2v1.2h-1.2zM112.5 142.9h1.2v1.2h-1.2zM127.9 133.5h1.2v1.2h-1.2zM103.2 144h1.2v1.2h-1.2zM117.7 135.6h1.2v1.2h-1.2zM142.9 130.8h1.2v1.2h-1.2zM130.9 124.2h1.2v1.2h-1.2zM116.3 143.5h1.2v1.2h-1.2zM120.2 144.2h1.2v1.2h-1.2zM121.1 141.4h1.2v1.2h-1.2zM82.2 147.9h1.2v1.2h-1.2zM76.6 157.3h1.2v1.2h-1.2zM121 139.4h1.2v1.2h-1.2zM100.9 143.1h1.2v1.2h-1.2zM150.6 141.7h1.2v1.2h-1.2zM117 149.1h1.2v1.2h-1.2zM85.6 139.9h1.2v1.2h-1.2zM106.3 139.9h1.2v1.2h-1.2zM106.6 145.9h1.2v1.2h-1.2zM117.3 143.2h1.2v1.2h-1.2zM116.9 147.1h1.2v1.2h-1.2zM144.7 126.3h1.2v1.2h-1.2zM118.4 139.8h1.2v1.2h-1.2zM119.7 132.1h1.2v1.2h-1.2zM82 138.8h1.2v1.2h-1.2zM125.4 140.3h1.2v1.2h-1.2zM113.6 129.1h1.2v1.2h-1.2zM108.4 139.9h1.2v1.2h-1.2zM90.2 144.4h1.2v1.2h-1.2zM128.9 141.3h1.2v1.2h-1.2zM116.4 144.8h1.2v1.2h-1.2zM105.7 145.5h1.2v1.2h-1.2zM117.6 144.7h1.2v1.2h-1.2zM114.6 141.6h1.2v1.2h-1.2zM112.7 139.3h1.2v1.2h-1.2zM155.3 133.3h1.2v1.2h-1.2zM127 151.9h1.2v1.2h-1.2zM137.8 126.6h1.2v1.2h-1.2zM129.3 142.9h1.2v1.2h-1.2zM150.6 139.3h1.2v1.2h-1.2zM127.5 131.8h1.2v1.2h-1.2zM101.4 147.9h1.2v1.2h-1.2zM123.1 134h1.2v1.2h-1.2zM108.7 141.9h1.2v1.2h-1.2zM117.6 143.5h1.2v1.2h-1.2zM109.1 137h1.2v1.2h-1.2zM139.9 144h1.2v1.2h-1.2zM115.8 147.9h1.2v1.2h-1.2zM124.7 143.2h1.2v1.2h-1.2zM123.1 135.5h1.2v1.2h-1.2zM127.5 144.4h1.2v1.2h-1.2zM103.6 157h1.2v1.2h-1.2zM154.9 140.9h1.2v1.2h-1.2zM151.5 135.7h1.2v1.2h-1.2zM109.2 140.6h1.2v1.2h-1.2zM102.2 146.8h1.2v1.2h-1.2zM116.5 145.7h1.2v1.2h-1.2zM155.2 130.2h1.2v1.2h-1.2zM128.4 141h1.2v1.2h-1.2zM120.4 139.5h1.2v1.2h-1.2zM112.6 138.3h1.2v1.2h-1.2zM119 141h1.2v1.2h-1.2zM120.2 135.8h1.2v1.2h-1.2zM116.8 142h1.2v1.2h-1.2zM124.8 133.3h1.2v1.2h-1.2zM124.8 145h1.2v1.2h-1.2zM125.7 137h1.2v1.2h-1.2zM107.2 143.3h1.2v1.2h-1.2zM131 146.4h1.2v1.2h-1.2zM112.3 139.4h1.2v1.2h-1.2zM122.8 141.1h1.2v1.2h-1.2zM99.2 142.8h1.2v1.2h-1.2zM115.3 146.1h1.2v1.2h-1.2zM93.8 142.8h1.2v1.2h-1.2zM122.7 133h1.2v1.2h-1.2zM118.4 143.3h1.2v1.2h-1.2zM112.5 137.2h1.2v1.2h-1.2zM114.4 140.6h1.2v1.2h-1.2zM120.5 135.9h1.2v1.2h-1.2zM132.2 127.6h1.2v1.2h-1.2zM113 142.9h1.2v1.2h-1.2zM131.6 133.9h1.2v1.2h-1.2zM124.5 136.2h1.2v1.2h-1.2zM131.5 147.4h1.2v1.2h-1.2zM109.8 146.4h1.2v1.2h-1.2zM101.5 151.9h1.2v1.2h-1.2zM136.9 136h1.2v1.2h-1.2zM97.1 149.9h1.2v1.2h-1.2zM137.5 141.9h1.2v1.2h-1.2zM127.2 128.2h1.2v1.2h-1.2zM106.5 153h1.2v1.2h-1.2zM96.6 154.3h1.2v1.2h-1.2zM149.7 136.4h1.2v1.2h-1.2zM134.8 134.5h1.2v1.2h-1.2zM94.7 147.7h1.2v1.2h-1.2zM112.5 142.8h1.2v1.2h-1.2zM127.8 137.7h1.2v1.2h-1.2zM120 143.3h1.2v1.2h-1.2zM118.8 151.7h1.2v1.2h-1.2zM123.8 140.2h1.2v1.2h-1.2zM111.4 139.8h1.2v1.2h-1.2zM139.4 135.9h1.2v1.2h-1.2zM96.5 144.6h1.2v1.2h-1.2zM112.9 140.4h1.2v1.2h-1.2zM132.9 130.3h1.2v1.2h-1.2zM124.7 140.2h1.2v1.2h-1.2zM95.8 148.3h1.2v1.2h-1.2zM115.2 145.1h1.2v1.2h-1.2zM108.7 145.9h1.2v1.2h-1.2zM85.6 144.8h1.2v1.2h-1.2zM131.2 143.5h1.2v1.2h-1.2zM114.8 138.9h1.2v1.2h-1.2zM131.4 125.4h1.2v1.2h-1.2zM103.3 149.6h1.2v1.2h-1.2zM125.6 133.2h1.2v1.2h-1.2zM85.7 159.3h1.2v1.2h-1.2zM117.2 136.5h1.2v1.2h-1.2zM118.4 146.5h1.2v1.2h-1.2zM73 161.1h1.2v1.2h-1.2zM125.5 127.2h1.2v1.2h-1.2zM126.5 128.7h1.2v1.2h-1.2zM136.3 138.3h1.2v1.2h-1.2zM153.9 127.2h1.2v1.2h-1.2zM117.7 147.5h1.2v1.2h-1.2zM103.9 141.6h1.2v1.2h-1.2zM109.5 143.5h1.2v1.2h-1.2zM98.1 150.1h1.2v1.2h-1.2zM125.5 139.6h1.2v1.2h-1.2zM144.8 131.6h1.2v1.2h-1.2zM137.7 132.4h1.2v1.2h-1.2zM126 127.9h1.2v1.2h-1.2zM119.1 140.1h1.2v1.2h-1.2zM106.5 141.3h1.2v1.2h-1.2zM108.9 140h1.2v1.2h-1.2zM77.2 150.1h1.2v1.2h-1.2zM105.7 142.1h1.2v1.2h-1.2zM97.5 146.7h1.2v1.2h-1.2zM129.1 136.7h1.2v1.2h-1.2zM109.6 151.7h1.2v1.2h-1.2zM134.3 141.8h1.2v1.2h-1.2zM135.4 134.3h1.2v1.2h-1.2zM115.5 148.5h1.2v1.2h-1.2zM106.3 144.2h1.2v1.2h-1.2zM123.1 142h1.2v1.2h-1.2zM112.8 148.6h1.2v1.2h-1.2zM114.1 146.7h1.2v1.2h-1.2zM135.5 140h1.2v1.2h-1.2zM126.8 132.1h1.2v1.2h-1.2zM92.4 145.5h1.2v1.2h-1.2zM126.6 147.5h1.2v1.2h-1.2zM95.4 149.9h1.2v1.2h-1.2zM100.1 142.5h1.2v1.2h-1.2zM112.3 147.1h1.2v1.2h-1.2zM121.5 147.1h1.2v1.2h-1.2zM100.4 151.7h1.2v1.2h-1.2zM132.2 137.6h1.2v1.2h-1.2zM123.4 136.6h1.2v1.2h-1.2zM96.6 145.5h1.2v1.2h-1.2zM110.2 153.2h1.2v1.2h-1.2zM120 142.6h1.2v1.2h-1.2zM127.6 134.1h1.2v1.2h-1.2zM132.4 139.3h1.2v1.2h-1.2zM90.8 152.9h1.2v1.2h-1.2zM126.2 141.6h1.2v1.2h-1.2zM142.7 131.7h1.2v1.2h-1.2zM126 143.3h1.2v1.2h-1.2zM102.3 152.9h1.2v1.2h-1.2zM88.9 142.6h1.2v1.2h-1.2zM123.3 133.6h1.2v1.2h-1.2zM111.4 133.9h1.2v1.2h-1.2zM115.4 135.7h1.2v1.2h-1.2zM119.5 132.2h1.2v1.2h-1.2zM123.3 138.3h1.2v1.2h-1.2zM117 141.3h1.2v1.2h-1.2zM116.2 134.4h1.2v1.2h-1.2zM71.8 155.3h1.2v1.2h-1.2zM99.1 144.4h1.2v1.2h-1.2zM120.2 129.3h1.2v1.2h-1.2zM101.9 142.7h1.2v1.2h-1.2zM98.3 149.1h1.2v1.2h-1.2zM112.3 138.4h1.2v1.2h-1.2zM100.3 151.3h1.2v1.2h-1.2zM105.5 148.5h1.2v1.2h-1.2zM120.8 129.7h1.2v1.2h-1.2zM97.3 147.6h1.2v1.2h-1.2zM123.1 144.4h1.2v1.2h-1.2zM131.5 143.3h1.2v1.2h-1.2zM109.2 142.8h1.2v1.2h-1.2zM128.7 135.8h1.2v1.2h-1.2zM131.7 128.2h1.2v1.2h-1.2zM127 137.7h1.2v1.2h-1.2zM83.6 157.3h1.2v1.2h-1.2zM121.4 140.5h1.2v1.2h-1.2zM96.7 145.1h1.2v1.2h-1.2zM140.8 129.9h1.2v1.2h-1.2zM54.8 155.3h1.2v1.2h-1.2zM95.1 147.5h1.2v1.2h-1.2zM107.8 139.2h1.2v1.2h-1.2zM103.1 151.8h1.2v1.2h-1.2zM94.2 159.7h1.2v1.2h-1.2zM104.9 139h1.2v1.2h-1.2zM130.5 140.9h1.2v1.2h-1.2zM99.2 151.3h1.2v1.2h-1.2zM82.8 146.6h1.2v1.2h-1.2zM135 134.9h1.2v1.2h-1.2zM94.3 151.4h1.2v1.2h-1.2zM131.8 137.2h1.2v1.2h-1.2zM84.3 149.4h1.2v1.2h-1.2zM124.4 143.9h1.2v1.2h-1.2zM147.6 131.2h1.2v1.2h-1.2zM107.6 144.3h1.2v1.2h-1.2zM135.3 130.8h1.2v1.2h-1.2zM134.2 120.8h1.2v1.2h-1.2zM128.7 134.3h1.2v1.2h-1.2zM125 143.3h1.2v1.2h-1.2zM95.5 147.6h1.2v1.2h-1.2zM121.1 143.9h1.2v1.2h-1.2zM98.4 141.5h1.2v1.2h-1.2zM112.3 141.8h1.2v1.2h-1.2zM91.7 154.6h1.2v1.2h-1.2zM109 152.3h1.2v1.2h-1.2zM130.7 137.7h1.2v1.2h-1.2zM126.8 132.4h1.2v1.2h-1.2zM109.5 140.6h1.2v1.2h-1.2zM94.1 148.6h1.2v1.2h-1.2zM115.7 150.3h1.2v1.2h-1.2zM57.1 155.7h1.2v1.2h-1.2zM99.4 144.3h1.2v1.2h-1.2zM123.9 142h1.2v1.2h-1.2zM115.7 139.4h1.2v1.2h-1.2zM125.1 141.4h1.2v1.2h-1.2zM83.8 150.1h1.2v1.2h-1.2zM90.4 142.8h1.2v1.2h-1.2zM118.6 141.6h1.2v1.2h-1.2zM116.6 136.8h1.2v1.2h-1.2zM111.1 138.2h1.2v1.2h-1.2zM123.7 143.7h1.2v1.2h-1.2zM148.3 139.7h1.2v1.2h-1.2zM101.4 143.7h1.2v1.2h-1.2zM100.3 148.4h1.2v1.2h-1.2zM151.3 135.6h1.2v1.2h-1.2zM76.1 146.7h1.2v1.2h-1.2zM94.5 151.3h1.2v1.2h-1.2zM116.5 143.6h1.2v1.2h-1.2zM145.4 128.5h1.2v1.2h-1.2zM104.5 156.7h1.2v1.2h-1.2zM120.7 136.1h1.2v1.2h-1.2zM78.6 144.4h1.2v1.2h-1.2zM73.9 154.9h1.2v1.2h-1.2zM118.3 147h1.2v1.2h-1.2zM112.5 139.1h1.2v1.2h-1.2zM106.2 155.8h1.2v1.2h-1.2zM85.8 152h1.2v1.2h-1.2zM117.4 145.1h1.2v1.2h-1.2zM109.8 146.7h1.2v1.2h-1.2zM129.8 137h1.2v1.2h-1.2zM107.8 143.4h1.2v1.2h-1.2zM99 145.9h1.2v1.2h-1.2zM111.1 144.7h1.2v1.2h-1.2zM141.1 142h1.2v1.2h-1.2zM109.3 147.5h1.2v1.2h-1.2zM122.3 144.5h1.2v1.2h-1.2zM116.8 143.3h1.2v1.2h-1.2zM106.7 140.3h1.2v1.2h-1.2zM133.1 144.4h1.2v1.2h-1.2zM128.1 140.9h1.2v1.2h-1.2zM119.9 138.3h1.2v1.2h-1.2zM86.3 154.6h1.2v1.2h-1.2zM118.6 138.1h1.2v1.2h-1.2zM101.4 153.7h1.2v1.2h-1.2zM87.6 160.5h1.2v1.2h-1.2zM130.8 151.2h1.2v1.2h-1.2zM103.6 145.6h1.2v1.2h-1.2zM107.5 145.4h1.2v1.2h-1.2zM111.2 139.1h1.2v1.2h-1.2zM133.3 132.3h1.2v1.2h-1.2zM108.1 147.5h1.2v1.2h-1.2zM106 142.5h1.2v1.2h-1.2zM121.6 138.2h1.2v1.2h-1.2zM94.3 147.9h1.2v1.2h-1.2zM114.9 152.1h1.2v1.2h-1.2zM98.6 152.7h1.2v1.2h-1.2zM101.9 144.2h1.2v1.2h-1.2zM110.8 145.1h1.2v1.2h-1.2zM133.6 146.8h1.2v1.2h-1.2zM107.1 152.3h1.2v1.2h-1.2zM134.4 141.2h1.2v1.2h-1.2zM104.3 150.6h1.2v1.2h-1.2zM114.7 144.4h1.2v1.2h-1.2zM112.4 146.9h1.2v1.2h-1.2zM137 142.2h1.2v1.2h-1.2zM114 148.3h1.2v1.2h-1.2zM139.6 129.6h1.2v1.2h-1.2zM139.3 127.4h1.2v1.2h-1.2zM126.3 142.3h1.2v1.2h-1.2zM142 135.9h1.2v1.2h-1.2zM106.5 140.3h1.2v1.2h-1.2zM95.6 152.5h1.2v1.2h-1.2zM110.8 139.4h1.2v1.2h-1.2zM124 135.2h1.2v1.2h-1.2zM107.7 141.8h1.2v1.2h-1.2zM146.8 141.2h1.2v1.2h-1.2zM110.8 134.5h1.2v1.2h-1.2zM120.9 141h1.2v1.2h-1.2zM122.9 143.2h1.2v1.2h-1.2zM111.9 148.5h1.2v1.2h-1.2zM130.8 138.8h1.2v1.2h-1.2zM108.2 141.6h1.2v1.2h-1.2zM126.2 132.7h1.2v1.2h-1.2zM112.1 138.9h1.2v1.2h-1.2zM92.9 152.3h1.2v1.2h-1.2zM115.6 142.3h1.2v1.2h-1.2zM128.7 129.6h1.2v1.2h-1.2zM115.3 143.9h1.2v1.2h-1.2zM128.7 132h1.2v1.2h-1.2zM128.7 139.5h1.2v1.2h-1.2zM141.2 141h1.2v1.2h-1.2zM128.9 150.5h1.2v1.2h-1.2zM115.3 139.8h1.2v1.2h-1.2zM108.6 138.8h1.2v1.2h-1.2zM112.6 132.2h1.2v1.2h-1.2zM115.2 144.7h1.2v1.2h-1.2zM132.6 135.1h1.2v1.2h-1.2zM138.9 131.4h1.2v1.2h-1.2zM110.7 132.8h1.2v1.2h-1.2zM101.6 141.7h1.2v1.2h-1.2zM142 137.2h1.2v1.2h-1.2zM98.2 150.3h1.2v1.2h-1.2zM123.8 138.4h1.2v1.2h-1.2zM115.9 140.3h1.2v1.2h-1.2zM104.1 135.6h1.2v1.2h-1.2zM116.4 149.1h1.2v1.2h-1.2zM139.7 133.4h1.2v1.2h-1.2zM103.1 144.7h1.2v1.2h-1.2zM131.7 139.3h1.2v1.2h-1.2zM106.7 146.8h1.2v1.2h-1.2zM113.3 145.7h1.2v1.2h-1.2zM106.9 136.5h1.2v1.2h-1.2zM118.1 145.6h1.2v1.2h-1.2zM97.2 147h1.2v1.2h-1.2zM130.2 135.7h1.2v1.2h-1.2zM108.2 155.7h1.2v1.2h-1.2zM131.5 143.1h1.2v1.2h-1.2zM102.6 155.1h1.2v1.2h-1.2zM87.4 147.6h1.2v1.2h-1.2zM130.5 145.1h1.2v1.2h-1.2zM99.4 143.2h1.2v1.2h-1.2zM116.4 131.1h1.2v1.2h-1.2zM127.6 141.7h1.2v1.2h-1.2zM109.3 147h1.2v1.2h-1.2zM129.5 139.7h1.2v1.2h-1.2zM127.1 147.1h1.2v1.2h-1.2zM108.2 145.2h1.2v1.2h-1.2zM108.8 149.9h1.2v1.2h-1.2zM109.9 146.5h1.2v1.2h-1.2zM118.4 141.7h1.2v1.2h-1.2zM144.6 133h1.2v1.2h-1.2zM140.9 139.2h1.2v1.2h-1.2zM137.8 134.6h1.2v1.2h-1.2zM132.6 141.3h1.2v1.2h-1.2zM106.2 146.4h1.2v1.2h-1.2zM113.8 142.5h1.2v1.2h-1.2zM136.6 131.9h1.2v1.2h-1.2zM85.3 141.5h1.2v1.2h-1.2zM107.5 141h1.2v1.2h-1.2zM117.1 144.8h1.2v1.2h-1.2zM145.8 134.9h1.2v1.2h-1.2zM122.6 136h1.2v1.2h-1.2zM127.7 146h1.2v1.2h-1.2zM135.4 125.4h1.2v1.2h-1.2zM133.2 145.6h1.2v1.2h-1.2zM127.5 130.3h1.2v1.2h-1.2zM111.8 146.5h1.2v1.2h-1.2zM121.7 135.8h1.2v1.2h-1.2zM102.7 151.3h1.2v1.2h-1.2zM96 155.9h1.2v1.2h-1.2zM116.8 143.4h1.2v1.2h-1.2zM92.9 145.6h1.2v1.2h-1.2zM125.2 131.1h1.2v1.2h-1.2zM148.3 124.7h1.2v1.2h-1.2zM95.8 148.3h1.2v1.2h-1.2zM125.1 143.3h1.2v1.2h-1.2zM109.5 142.8h1.2v1.2h-1.2zM111.2 140.2h1.2v1.2h-1.2zM74.7 159.6h1.2v1.2h-1.2zM120.4 141.6h1.2v1.2h-1.2zM106 146.4h1.2v1.2h-1.2zM115.7 141.7h1.2v1.2h-1.2zM131.7 127.8h1.2v1.2h-1.2zM118.6 135.4h1.2v1.2h-1.2zM113 151.2h1.2v1.2h-1.2zM97.9 146.8h1.2v1.2h-1.2zM107.6 149.7h1.2v1.2h-1.2zM97.2 138.3h1.2v1.2h-1.2zM124 137.7h1.2v1.2h-1.2zM112.3 149h1.2v1.2h-1.2zM100.7 144.5h1.2v1.2h-1.2zM119.1 143.4h1.2v1.2h-1.2zM109 149.8h1.2v1.2h-1.2zM152.5 128.9h1.2v1.2h-1.2zM138.8 133.3h1.2v1.2h-1.2zM117.8 139.6h1.2v1.2h-1.2zM103.5 138.7h1.2v1.2h-1.2zM111.4 150.5h1.2v1.2h-1.2zM134.4 134.6h1.2v1.2h-1.2zM106.2 141h1.2v1.2h-1.2zM98.8 157h1.2v1.2h-1.2zM127.2 139.3h1.2v1.2h-1.2zM106.3 139.2h1.2v1.2h-1.2zM139 139.5h1.2v1.2h-1.2zM101.7 151.7h1.2v1.2h-1.2zM98.6 150.7h1.2v1.2h-1.2zM99.5 144.6h1.2v1.2h-1.2zM124.9 141.8h1.2v1.2h-1.2zM131.5 132.8h1.2v1.2h-1.2zM144.2 141h1.2v1.2h-1.2zM116.5 144.4h1.2v1.2h-1.2zM102.9 145.1h1.2v1.2h-1.2zM94.3 149h1.2v1.2h-1.2zM121.3 147.8h1.2v1.2h-1.2zM132.9 141.5h1.2v1.2h-1.2zM109.7 142.6h1.2v1.2h-1.2zM110.7 144.8h1.2v1.2h-1.2zM85.2 155.4h1.2v1.2h-1.2zM89.3 147.1h1.2v1.2h-1.2zM115.6 139.3h1.2v1.2h-1.2zM143.4 133.3h1.2v1.2h-1.2zM143.8 140.2h1.2v1.2h-1.2zM108.4 146.5h1.2v1.2h-1.2zM137 133.9h1.2v1.2h-1.2zM116.6 138.7h1.2v1.2h-1.2zM116.4 139.9h1.2v1.2h-1.2zM118.9 146.7h1.2v1.2h-1.2zM139.3 135.8h1.2v1.2h-1.2zM120.6 145.3h1.2v1.2h-1.2zM109.6 138.1h1.2v1.2h-1.2zM133 131.8h1.2v1.2h-1.2zM130 132.5h1.2v1.2h-1.2zM144.7 127.7h1.2v1.2h-1.2zM132.3 145.4h1.2v1.2h-1.2zM102.3 154.3h1.2v1.2h-1.2zM99.7 137.1h1.2v1.2h-1.2zM129 142h1.2v1.2h-1.2zM108.8 130.2h1.2v1.2h-1.2zM114.6 140.7h1.2v1.2h-1.2zM109.3 142.4h1.2v1.2h-1.2zM85.5 147.9h1.2v1.2h-1.2zM148.1 141h1.2v1.2h-1.2zM108.9 140.2h1.2v1.2h-1.2zM124.2 145.4h1.2v1.2h-1.2zM126.2 132.5h1.2v1.2h-1.2zM118.9 141.9h1.2v1.2h-1.2zM141.6 141h1.2v1.2h-1.2zM126.5 145.6h1.2v1.2h-1.2zM111.8 151.7h1.2v1.2h-1.2zM109.5 146.1h1.2v1.2h-1.2zM129.8 132.9h1.2v1.2h-1.2zM101.7 136.6h1.2v1.2h-1.2zM118.6 140.9h1.2v1.2h-1.2zM111.3 146.1h1.2v1.2h-1.2zM80.9 152.3h1.2v1.2h-1.2zM117 140.2h1.2v1.2h-1.2zM131.8 147h1.2v1.2h-1.2zM107.2 139.4h1.2v1.2h-1.2zM106.1 145.4h1.2v1.2h-1.2zM124.4 134.8h1.2v1.2h-1.2zM131 131.9h1.2v1.2h-1.2zM130.3 140.1h1.2v1.2h-1.2zM126.9 150.6h1.2v1.2h-1.2zM111.4 142.5h1.2v1.2h-1.2zM125.2 144h1.2v1.2h-1.2zM94.2 150h1.2v1.2h-1.2zM104.7 148.8h1.2v1.2h-1.2zM138.8 135.5h1.2v1.2h-1.2zM114.5 143.5h1.2v1.2h-1.2zM68.2 160.5h1.2v1.2h-1.2zM125.5 140.1h1.2v1.2h-1.2zM108.3 140.3h1.2v1.2h-1.2zM114.9 149h1.2v1.2h-1.2zM116.3 149.3h1.2v1.2h-1.2zM72.7 152.3h1.2v1.2h-1.2zM120.5 140.6h1.2v1.2h-1.2zM87.5 146.8h1.2v1.2h-1.2zM134.8 129.3h1.2v1.2h-1.2zM97.9 141.3h1.2v1.2h-1.2zM107.8 148h1.2v1.2h-1.2zM122.8 128.8h1.2v1.2h-1.2zM139.3 131.8h1.2v1.2h-1.2zM108.8 153.3h1.2v1.2h-1.2zM112.8 136.1h1.2v1.2h-1.2zM104.3 141.5h1.2v1.2h-1.2zM98.8 145.3h1.2v1.2h-1.2zM131.1 139.5h1.2v1.2h-1.2zM99.8 147.5h1.2v1.2h-1.2zM117.7 145.7h1.2v1.2h-1.2zM111.2 145.9h1.2v1.2h-1.2zM151 132.1h1.2v1.2h-1.2zM98.6 149h1.2v1.2h-1.2zM102.1 144.1h1.2v1.2h-1.2zM119.6 142.8h1.2v1.2h-1.2zM112.6 147.7h1.2v1.2h-1.2zM110.8 136.3h1.2v1.2h-1.2zM130 135.8h1.2v1.2h-1.2zM135.1 132.7h1.2v1.2h-1.2zM126 140.8h1.2v1.2h-1.2zM69.1 147.7h1.2v1.2h-1.2zM99.6 154.6h1.2v1.2h-1.2zM86.1 155.9h1.2v1.2h-1.2zM134.8 139.1h1.2v1.2h-1.2zM126.4 136.2h1.2v1.2h-1.2zM116.2 143.2h1.2v1.2h-1.2zM124 143.5h1.2v1.2h-1.2zM111.5 139.5h1.2v1.2h-1.2zM107.3 146.8h1.2v1.2h-1.2zM86.6 143.8h1.2v1.2h-1.2zM108.3 141.2h1.2v1.2h-1.2zM107.5 129.9h1.2v1.2h-1.2zM110 142.4h1.2v1.2h-1.2zM125.9 128.2h1.2v1.2h-1.2zM111.6 145.9h1.2v1.2h-1.2zM125.9 145.6h1.2v1.2h-1.2zM131.9 131.5h1.2v1.2h-1.2zM126 137.2h1.2v1.2h-1.2zM105 153.7h1.2v1.2h-1.2zM104.3 140.8h1.2v1.2h-1.2zM108 139.7h1.2v1.2h-1.2zM133.3 139h1.2v1.2h-1.2zM139.8 137.2h1.2v1.2h-1.2zM107.4 150.3h1.2v1.2h-1.2zM104.4 142.9h1.2v1.2h-1.2zM113.3 143h1.2v1.2h-1.2zM134.9 133h1.2v1.2h-1.2zM121.8 140.1h1.2v1.2h-1.2zM93.5 142.7h1.2v1.2h-1.2zM113 145.1h1.2v1.2h-1.2zM122 142.8h1.2v1.2h-1.2zM116.1 139.5h1.2v1.2h-1.2zM121.6 134.8h1.2v1.2h-1.2zM93.2 146.9h1.2v1.2h-1.2zM91.5 146.5h1.2v1.2h-1.2zM102.7 142.9h1.2v1.2h-1.2zM114 138.2h1.2v1.2h-1.2zM106.4 135.4h1.2v1.2h-1.2zM117.1 136.8h1.2v1.2h-1.2zM118.5 125.6h1.2v1.2h-1.2zM103 147.2h1.2v1.2h-1.2zM74.9 152.2h1.2v1.2h-1.2zM117.7 142.1h1.2v1.2h-1.2zM91.5 150.6h1.2v1.2h-1.2zM117 136.3h1.2v1.2h-1.2zM128.3 138.1h1.2v1.2h-1.2zM115.6 139.6h1.2v1.2h-1.2zM125.3 139.8h1.2v1.2h-1.2zM135.6 138.7h1.2v1.2h-1.2zM105.4 143.9h1.2v1.2h-1.2zM130.7 135.6h1.2v1.2h-1.2zM123.2 142.8h1.2v1.2h-1.2zM109.5 131h1.2v1.2h-1.2zM118.5 142.4h1.2v1.2h-1.2zM117.1 137.5h1.2v1.2h-1.2zM136 135.3h1.2v1.2h-1.2zM104.5 141.4h1.2v1.2h-1.2zM120.3 134.7h1.2v1.2h-1.2zM102.3 157.2h1.2v1.2h-1.2zM139.5 140.9h1.2v1.2h-1.2zM139.7 138.3h1.2v1.2h-1.2zM89.7 156.5h1.2v1.2h-1.2zM137.4 138.4h1.2v1.2h-1.2zM85.2 158.1h1.2v1.2h-1.2zM138.1 132.7h1.2v1.2h-1.2zM119.3 145.3h1.2v1.2h-1.2zM116.2 148h1.2v1.2h-1.2zM118.4 145.1h1.2v1.2h-1.2zM115.2 134h1.2v1.2h-1.2zM122.7 147.3h1.2v1.2h-1.2zM137.6 145.1h1.2v1.2h-1.2zM124.4 136.2h1.2v1.2h-1.2zM113.4 132.1h1.2v1.2h-1.2zM114.2 147.6h1.2v1.2h-1.2zM80.1 153.8h1.2v1.2h-1.2zM131.8 144.7h1.2v1.2h-1.2zM99.5 143.3h1.2v1.2h-1.2zM83.1 146.1h1.2v1.2h-1.2zM128.1 149.9h1.2v1.2h-1.2zM98.9 154.8h1.2v1.2h-1.2zM122.4 137.3h1.2v1.2h-1.2zM115.2 143.5h1.2v1.2h-1.2zM154.4 140.6h1.2v1.2h-1.2zM154.1 131.4h1.2v1.2h-1.2zM134.5 144.1h1.2v1.2h-1.2zM125.1 141.3h1.2v1.2h-1.2zM112.3 140.8h1.2v1.2h-1.2zM98.4 158.1h1.2v1.2h-1.2zM105.3 133.6h1.2v1.2h-1.2zM120.4 140.5h1.2v1.2h-1.2zM121.7 150.4h1.2v1.2h-1.2zM113.8 141.2h1.2v1.2h-1.2zM103.4 145.6h1.2v1.2h-1.2zM109 145.2h1.2v1.2h-1.2zM104.6 156.2h1.2v1.2h-1.2zM131.7 141.9h1.2v1.2h-1.2zM129.2 142.6h1.2v1.2h-1.2zM129.5 145.9h1.2v1.2h-1.2zM135 143.9h1.2v1.2h-1.2zM107.6 144.5h1.2v1.2h-1.2zM105.2 150.6h1.2v1.2h-1.2zM129.2 135.5h1.2v1.2h-1.2zM135.1 130.1h1.2v1.2h-1.2zM115.4 145.7h1.2v1.2h-1.2zM116 144.2h1.2v1.2h-1.2zM136.3 137.8h1.2v1.2h-1.2zM98.7 151.2h1.2v1.2h-1.2zM114.5 143.1h1.2v1.2h-1.2zM104.4 137.7h1.2v1.2h-1.2zM94.5 146.4h1.2v1.2h-1.2zM93.9 133.4h1.2v1.2h-1.2zM133.5 130.3h1.2v1.2h-1.2zM104.6 148.3h1.2v1.2h-1.2zM77.5 160.9h1.2v1.2h-1.2zM104.1 149.2h1.2v1.2h-1.2zM108.4 146h1.2v1.2h-1.2zM117.8 141.5h1.2v1.2h-1.2zM83.1 143.6h1.2v1.2h-1.2zM117.5 149.4h1.2v1.2h-1.2zM107.6 147.5h1.2v1.2h-1.2zM119.5 143.7h1.2v1.2h-1.2zM130.4 129.3h1.2v1.2h-1.2zM120.3 139.7h1.2v1.2h-1.2zM109.4 139.2h1.2v1.2h-1.2zM101.2 140.6h1.2v1.2h-1.2zM144.6 133.6h1.2v1.2h-1.2zM127 133.3h1.2v1.2h-1.2zM66.5 146.5h1.2v1.2h-1.2zM120.6 148.7h1.2v1.2h-1.2zM113.8 137.1h1.2v1.2h-1.2zM110.4 138.1h1.2v1.2h-1.2zM92.2 147.8h1.2v1.2h-1.2zM108 139.8h1.2v1.2h-1.2zM99.7 141.6h1.2v1.2h-1.2zM122.1 148h1.2v1.2h-1.2zM115.9 154.5h1.2v1.2h-1.2zM89.2 151.5h1.2v1.2h-1.2zM96.3 147h1.2v1.2h-1.2zM118.6 144.4h1.2v1.2h-1.2zM134.1 133.5h1.2v1.2h-1.2zM94.8 147.2h1.2v1.2h-1.2zM119.9 136.9h1.2v1.2h-1.2zM133.6 146.2h1.2v1.2h-1.2zM92.6 151h1.2v1.2h-1.2zM130.2 127h1.2v1.2h-1.2zM119.1 139.8h1.2v1.2h-1.2zM94.1 155.9h1.2v1.2h-1.2zM118.9 138.5h1.2v1.2h-1.2zM124.4 143.1h1.2v1.2h-1.2zM129.8 141.1h1.2v1.2h-1.2zM121.1 133.9h1.2v1.2h-1.2zM109.1 144.8h1.2v1.2h-1.2zM72.7 166.8h1.2v1.2h-1.2zM108 138.5h1.2v1.2h-1.2zM85.8 152.4h1.2v1.2h-1.2zM115.7 138.8h1.2v1.2h-1.2zM107.6 139.5h1.2v1.2h-1.2zM103.2 145.2h1.2v1.2h-1.2zM106.2 148.7h1.2v1.2h-1.2zM113.8 143.4h1.2v1.2h-1.2zM124.8 146.5h1.2v1.2h-1.2zM126.5 140.2h1.2v1.2h-1.2zM112 138.7h1.2v1.2h-1.2zM111.3 147.2h1.2v1.2h-1.2zM119.2 138.9h1.2v1.2h-1.2zM91.3 140.8h1.2v1.2h-1.2zM123 145.7h1.2v1.2h-1.2zM120.2 133.1h1.2v1.2h-1.2zM112.8 144.2h1.2v1.2h-1.2zM101.1 148.4h1.2v1.2h-1.2zM111.4 138.7h1.2v1.2h-1.2zM96.4 152.4h1.2v1.2h-1.2zM120.6 135.7h1.2v1.2h-1.2zM100.3 151.6h1.2v1.2h-1.2zM125.6 137.5h1.2v1.2h-1.2zM142.3 132.6h1.2v1.2h-1.2zM99.9 152.9h1.2v1.2h-1.2zM113.4 144.7h1.2v1.2h-1.2zM115.1 136.7h1.2v1.2h-1.2zM95.8 146.9h1.2v1.2h-1.2zM138.1 129.8h1.2v1.2h-1.2zM139.2 136.3h1.2v1.2h-1.2zM97.7 148.9h1.2v1.2h-1.2zM124.2 134.5h1.2v1.2h-1.2zM80.8 154.5h1.2v1.2h-1.2zM98 149.8h1.2v1.2h-1.2zM83.7 150.8h1.2v1.2h-1.2zM100.1 138.4h1.2v1.2h-1.2zM112.2 144.1h1.2v1.2h-1.2zM104.8 138.7h1.2v1.2h-1.2zM116.9 132h1.2v1.2h-1.2zM125.7 141.8h1.2v1.2h-1.2zM145.5 138.2h1.2v1.2h-1.2zM122.4 141.6h1.2v1.2h-1.2zM114.4 135.1h1.2v1.2h-1.2zM141.3 137.4h1.2v1.2h-1.2zM109.5 137.6h1.2v1.2h-1.2zM141.7 137.3h1.2v1.2h-1.2zM97.1 151.4h1.2v1.2h-1.2zM147.8 132.4h1.2v1.2h-1.2zM122.1 137.9h1.2v1.2h-1.2zM107.1 150.6h1.2v1.2h-1.2zM115.1 146.7h1.2v1.2h-1.2zM112 147.3h1.2v1.2h-1.2zM128.3 132.7h1.2v1.2h-1.2zM97.9 147h1.2v1.2h-1.2zM130.4 139.3h1.2v1.2h-1.2zM134.7 128.8h1.2v1.2h-1.2zM123.3 136.4h1.2v1.2h-1.2zM118.2 143.1h1.2v1.2h-1.2zM99.4 145.7h1.2v1.2h-1.2zM96.9 149.2h1.2v1.2h-1.2zM101 143.7h1.2v1.2h-1.2zM118.7 137.6h1.2v1.2h-1.2zM134.3 133h1.2v1.2h-1.2zM130.6 139.2h1.2v1.2h-1.2zM98.4 146h1.2v1.2h-1.2zM101.4 144.3h1.2v1.2h-1.2zM114.2 152.6h1.2v1.2h-1.2zM111.4 152.1h1.2v1.2h-1.2zM121.5 133.1h1.2v1.2h-1.2zM78.3 157h1.2v1.2h-1.2zM83.8 155.6h1.2v1.2h-1.2zM133.8 138.9h1.2v1.2h-1.2zM112.1 141.8h1.2v1.2h-1.2zM119.9 139.2h1.2v1.2h-1.2zM106.5 142.8h1.2v1.2h-1.2zM134.6 133h1.2v1.2h-1.2zM120.6 134.2h1.2v1.2h-1.2zM102 138.5h1.2v1.2h-1.2zM113.7 146.5h1.2v1.2h-1.2zM120.4 138h1.2v1.2h-1.2zM125.7 137.2h1.2v1.2h-1.2zM122.6 141.5h1.2v1.2h-1.2zM121.3 126.7h1.2v1.2h-1.2zM95.4 152.4h1.2v1.2h-1.2zM117.6 154h1.2v1.2h-1.2zM111.2 140.4h1.2v1.2h-1.2zM141.8 137.4h1.2v1.2h-1.2zM148.5 135.2h1.2v1.2h-1.2zM113.7 146.7h1.2v1.2h-1.2zM102.2 143.6h1.2v1.2h-1.2zM106.4 143.6h1.2v1.2h-1.2zM128.3 135.7h1.2v1.2h-1.2zM120.6 137.9h1.2v1.2h-1.2zM126.6 123.6h1.2v1.2h-1.2zM112.8 143.9h1.2v1.2h-1.2zM99.5 152.5h1.2v1.2h-1.2zM121.6 147.5h1.2v1.2h-1.2zM133 140.5h1.2v1.2h-1.2zM111.9 137.2h1.2v1.2h-1.2zM111.6 140.7h1.2v1.2h-1.2zM119.5 138.4h1.2v1.2h-1.2zM134.9 133.8h1.2v1.2h-1.2zM113.4 147.9h1.2v1.2h-1.2zM114.2 135.8h1.2v1.2h-1.2zM122.6 139h1.2v1.2h-1.2zM82 153.2h1.2v1.2h-1.2zM97.3 143.4h1.2v1.2h-1.2zM124.5 141.1h1.2v1.2h-1.2zM114.4 154.5h1.2v1.2h-1.2zM122.1 136.8h1.2v1.2h-1.2zM119.8 140.2h1.2v1.2h-1.2zM76.9 144.9h1.2v1.2h-1.2zM96 159.4h1.2v1.2h-1.2zM112.5 141.5h1.2v1.2h-1.2zM108.1 149.8h1.2v1.2h-1.2zM119 150.5h1.2v1.2h-1.2zM131.6 146.5h1.2v1.2h-1.2zM114.6 144.5h1.2v1.2h-1.2zM108.5 143.3h1.2v1.2h-1.2zM86.3 147.6h1.2v1.2h-1.2zM99.2 143.4h1.2v1.2h-1.2zM136.6 137.3h1.2v1.2h-1.2zM137.7 140.3h1.2v1.2h-1.2zM132.8 142.6h1.2v1.2h-1.2zM107.1 149.1h1.2v1.2h-1.2zM109.8 140.9h1.2v1.2h-1.2zM139.1 147.1h1.2v1.2h-1.2zM102.4 155.7h1.2v1.2h-1.2zM128.5 133.6h1.2v1.2h-1.2zM121.1 142.5h1.2v1.2h-1.2zM121.7 138.3h1.2v1.2h-1.2zM94.7 148.5h1.2v1.2h-1.2zM131.5 141.7h1.2v1.2h-1.2zM128.7 144.3h1.2v1.2h-1.2zM99.5 146.7h1.2v1.2h-1.2zM123.2 145.4h1.2v1.2h-1.2zM119.4 143.9h1.2v1.2h-1.2zM121.4 152h1.2v1.2h-1.2zM79.7 152.7h1.2v1.2h-1.2zM157.5 131h1.2v1.2h-1.2zM85.8 151.7h1.2v1.2h-1.2zM91.1 145.6h1.2v1.2h-1.2zM122.3 149.6h1.2v1.2h-1.2zM124.7 143.1h1.2v1.2h-1.2zM133.2 138h1.2v1.2h-1.2zM101.6 145.7h1.2v1.2h-1.2zM121.2 138.9h1.2v1.2h-1.2zM104.4 143.5h1.2v1.2h-1.2zM89.5 144.2h1.2v1.2h-1.2zM113.9 140.6h1.2v1.2h-1.2zM118.7 148.9h1.2v1.2h-1.2zM120.9 140.4h1.2v1.2h-1.2zM94.9 142.3h1.2v1.2h-1.2zM120.9 135.7h1.2v1.2h-1.2zM121.5 134.4h1.2v1.2h-1.2zM118.1 141h1.2v1.2h-1.2zM132 135.1h1.2v1.2h-1.2zM110.2 145.1h1.2v1.2h-1.2zM119.5 150.3h1.2v1.2h-1.2zM110.9 140.5h1.2v1.2h-1.2zM111.4 146h1.2v1.2h-1.2zM120.9 144.4h1.2v1.2h-1.2zM146.5 132.8h1.2v1.2h-1.2zM110 145.1h1.2v1.2h-1.2zM135.4 120.8h1.2v1.2h-1.2zM129.4 127.9h1.2v1.2h-1.2zM143.1 143.9h1.2v1.2h-1.2zM159.2 135.8h1.2v1.2h-1.2zM126.3 142.7h1.2v1.2h-1.2zM159.4 127h1.2v1.2h-1.2zM130.6 134h1.2v1.2h-1.2zM149.2 117.3h1.2v1.2h-1.2zM156.3 123.5h1.2v1.2h-1.2zM113.6 138.8h1.2v1.2h-1.2zM141.9 130.1h1.2v1.2h-1.2zM154.3 128.7h1.2v1.2h-1.2zM140.6 133.7h1.2v1.2h-1.2zM135.3 150.4h1.2v1.2h-1.2zM134.7 141.5h1.2v1.2h-1.2zM118.8 142.8h1.2v1.2h-1.2zM90.4 150.6h1.2v1.2h-1.2zM117.2 131.3h1.2v1.2h-1.2zM108.1 152.6h1.2v1.2h-1.2zM137 125.4h1.2v1.2h-1.2zM125.7 141.1h1.2v1.2h-1.2zM107.9 133.3h1.2v1.2h-1.2zM120.5 149.2h1.2v1.2h-1.2zM154.3 131.1h1.2v1.2h-1.2zM141.3 135.1h1.2v1.2h-1.2zM137.7 128.8h1.2v1.2h-1.2zM113.9 137.9h1.2v1.2h-1.2zM126.4 143.5h1.2v1.2h-1.2zM112.6 154.5h1.2v1.2h-1.2zM119.2 137.2h1.2v1.2h-1.2zM145.8 136.4h1.2v1.2h-1.2zM123.7 132.4h1.2v1.2h-1.2zM110.5 132.7h1.2v1.2h-1.2zM155.2 138.2h1.2v1.2h-1.2zM139.6 140.6h1.2v1.2h-1.2zM149.1 130.6h1.2v1.2h-1.2zM98.1 137.7h1.2v1.2h-1.2zM115.7 147.6h1.2v1.2h-1.2zM153.3 128.8h1.2v1.2h-1.2zM144.3 133.5h1.2v1.2h-1.2zM136.5 132.4h1.2v1.2h-1.2zM131.5 137.6h1.2v1.2h-1.2zM99.5 150.9h1.2v1.2h-1.2zM133.8 143.8h1.2v1.2h-1.2zM153.1 136.7h1.2v1.2h-1.2zM145.1 126.9h1.2v1.2h-1.2zM103.7 157.6h1.2v1.2h-1.2zM152.5 124.7h1.2v1.2h-1.2zM157.1 134.7h1.2v1.2h-1.2zM88.4 156.8h1.2v1.2h-1.2zM116 150.5h1.2v1.2h-1.2zM118 136.4h1.2v1.2h-1.2zM103.1 144.6h1.2v1.2h-1.2zM149.5 127.6h1.2v1.2h-1.2zM167.4 131.8h1.2v1.2h-1.2zM119.7 132.6h1.2v1.2h-1.2zM102.8 150.1h1.2v1.2h-1.2zM154 123.5h1.2v1.2h-1.2zM131.5 135.7h1.2v1.2h-1.2zM128.2 142.2h1.2v1.2h-1.2zM149.8 139.9h1.2v1.2h-1.2zM126.5 138.1h1.2v1.2h-1.2zM109.3 151.8h1.2v1.2h-1.2zM120.9 136.2h1.2v1.2h-1.2zM131.6 131.6h1.2v1.2h-1.2zM112.2 141.3h1.2v1.2h-1.2zM159.1 128h1.2v1.2h-1.2zM138.9 125.1h1.2v1.2h-1.2zM99.5 160h1.2v1.2h-1.2zM121.7 129.7h1.2v1.2h-1.2zM131.2 142h1.2v1.2h-1.2zM98.4 141.3h1.2v1.2h-1.2zM135 130.1h1.2v1.2h-1.2zM148.6 139.3h1.2v1.2h-1.2zM139.4 132.3h1.2v1.2h-1.2zM129.9 133.7h1.2v1.2h-1.2zM130.2 140.3h1.2v1.2h-1.2zM128.3 145.5h1.2v1.2h-1.2zM139.9 140.9h1.2v1.2h-1.2zM143.5 132.4h1.2v1.2h-1.2zM125.1 146.6h1.2v1.2h-1.2zM144.5 137.3h1.2v1.2h-1.2zM118.3 146h1.2v1.2h-1.2zM146.4 131.9h1.2v1.2h-1.2zM98.4 151.8h1.2v1.2h-1.2zM107.7 135.1h1.2v1.2h-1.2zM128.7 142.3h1.2v1.2h-1.2zM130.7 129.7h1.2v1.2h-1.2zM104.3 141.8h1.2v1.2h-1.2zM130.7 132h1.2v1.2h-1.2zM107.5 157.2h1.2v1.2h-1.2zM116.2 141.1h1.2v1.2h-1.2zM120.7 136.7h1.2v1.2h-1.2zM132.2 135.3h1.2v1.2h-1.2zM141.2 126.4h1.2v1.2h-1.2zM132.1 142.9h1.2v1.2h-1.2zM155 134.6h1.2v1.2h-1.2zM129.7 127.2h1.2v1.2h-1.2zM104.2 152.7h1.2v1.2h-1.2zM145.7 137.5h1.2v1.2h-1.2zM97.1 132.8h1.2v1.2h-1.2zM110.1 135.7h1.2v1.2h-1.2zM133 130h1.2v1.2h-1.2zM123.2 146.2h1.2v1.2h-1.2zM136.4 129.8h1.2v1.2h-1.2zM151 145.5h1.2v1.2h-1.2zM108.7 142.7h1.2v1.2h-1.2zM108.2 130.8h1.2v1.2h-1.2zM145 138.6h1.2v1.2h-1.2zM150.9 134.9h1.2v1.2h-1.2zM94.5 148.5h1.2v1.2h-1.2zM117.3 133.5h1.2v1.2h-1.2zM112.9 148.6h1.2v1.2h-1.2zM130.3 151.9h1.2v1.2h-1.2zM137.1 122.5h1.2v1.2h-1.2zM151.1 140.7h1.2v1.2h-1.2zM130.2 129.4h1.2v1.2h-1.2zM126.7 125.5h1.2v1.2h-1.2zM105.3 133.4h1.2v1.2h-1.2zM154.6 139.2h1.2v1.2h-1.2zM121.8 130.9h1.2v1.2h-1.2zM131.6 140.3h1.2v1.2h-1.2zM101.3 138.4h1.2v1.2h-1.2zM131.5 142.7h1.2v1.2h-1.2zM134.3 140h1.2v1.2h-1.2zM103.8 128.2h1.2v1.2h-1.2zM136 129.8h1.2v1.2h-1.2zM128.9 135.7h1.2v1.2h-1.2zM139.5 129.8h1.2v1.2h-1.2zM159.1 129.7h1.2v1.2h-1.2zM143.1 138.7h1.2v1.2h-1.2zM152.2 134.4h1.2v1.2h-1.2zM98 143.1h1.2v1.2h-1.2zM143.4 137.4h1.2v1.2h-1.2zM118.7 136.6h1.2v1.2h-1.2zM122.1 148.7h1.2v1.2h-1.2zM142.3 147.1h1.2v1.2h-1.2zM145 147.1h1.2v1.2h-1.2zM138.3 127.2h1.2v1.2h-1.2zM154.8 132.3h1.2v1.2h-1.2zM126.2 140.4h1.2v1.2h-1.2zM108.6 135.9h1.2v1.2h-1.2zM114.3 139h1.2v1.2h-1.2zM106.3 144.4h1.2v1.2h-1.2zM148.2 131.1h1.2v1.2h-1.2zM139.3 135.1h1.2v1.2h-1.2zM122 141h1.2v1.2h-1.2zM105 148.7h1.2v1.2h-1.2zM124.4 132h1.2v1.2h-1.2zM126.3 143.2h1.2v1.2h-1.2zM120.1 144.4h1.2v1.2h-1.2zM145.8 144.6h1.2v1.2h-1.2zM111.3 142.9h1.2v1.2h-1.2zM144.6 144.5h1.2v1.2h-1.2zM138.4 141h1.2v1.2h-1.2zM103.2 141.9h1.2v1.2h-1.2zM171.4 120.5h1.2v1.2h-1.2zM123.6 128.5h1.2v1.2h-1.2zM144.5 135.7h1.2v1.2h-1.2zM124.5 129.6h1.2v1.2h-1.2zM132.3 144.2h1.2v1.2h-1.2zM148.4 141.5h1.2v1.2h-1.2zM148.3 132.3h1.2v1.2h-1.2zM143.8 135.2h1.2v1.2h-1.2zM110.2 156.3h1.2v1.2h-1.2zM137 128.4h1.2v1.2h-1.2zM139.9 137.2h1.2v1.2h-1.2zM153.7 141.5h1.2v1.2h-1.2zM75.5 158.3h1.2v1.2h-1.2zM159.1 122.6h1.2v1.2h-1.2zM97.3 149.8h1.2v1.2h-1.2zM139.1 137.9h1.2v1.2h-1.2zM110 140.7h1.2v1.2h-1.2zM137.2 141.3h1.2v1.2h-1.2zM115.9 125.2h1.2v1.2h-1.2zM152.1 130.6h1.2v1.2h-1.2zM128 131.6h1.2v1.2h-1.2zM134.3 137.7h1.2v1.2h-1.2zM140.3 144.5h1.2v1.2h-1.2zM130.3 138.7h1.2v1.2h-1.2zM126.6 139.6h1.2v1.2h-1.2zM148.6 126.8h1.2v1.2h-1.2zM148 135.5h1.2v1.2h-1.2zM100.8 136.1h1.2v1.2h-1.2zM105 146.5h1.2v1.2h-1.2zM137.4 141.1h1.2v1.2h-1.2zM146.5 129.2h1.2v1.2h-1.2zM154 136.9h1.2v1.2h-1.2zM141.9 138h1.2v1.2h-1.2zM108.2 147.2h1.2v1.2h-1.2zM110 135.4h1.2v1.2h-1.2zM125.6 140.4h1.2v1.2h-1.2zM130.3 135.6h1.2v1.2h-1.2zM113.3 144.4h1.2v1.2h-1.2zM115.1 132.3h1.2v1.2h-1.2zM136.7 146.7h1.2v1.2h-1.2zM122.2 132.7h1.2v1.2h-1.2zM161.8 141.1h1.2v1.2h-1.2zM126 137.8h1.2v1.2h-1.2zM136.5 143.4h1.2v1.2h-1.2zM136.8 122.8h1.2v1.2h-1.2zM108.5 135.5h1.2v1.2h-1.2zM140.5 135.8h1.2v1.2h-1.2zM138 136.3h1.2v1.2h-1.2zM140.4 145.7h1.2v1.2h-1.2zM155.6 126.1h1.2v1.2h-1.2zM144.3 131.1h1.2v1.2h-1.2zM134.4 137.9h1.2v1.2h-1.2zM131.5 134.2h1.2v1.2h-1.2zM148.8 144.7h1.2v1.2h-1.2zM146 140.8h1.2v1.2h-1.2zM160.7 136.9h1.2v1.2h-1.2zM97.3 143.1h1.2v1.2h-1.2zM105.3 145.3h1.2v1.2h-1.2zM101.5 139.2h1.2v1.2h-1.2zM138 136.9h1.2v1.2h-1.2zM116.3 140.5h1.2v1.2h-1.2zM130.3 138.6h1.2v1.2h-1.2zM131.4 136.1h1.2v1.2h-1.2zM122.8 141.2h1.2v1.2h-1.2zM123.2 136.1h1.2v1.2h-1.2zM124 141.4h1.2v1.2h-1.2zM155.5 129.2h1.2v1.2h-1.2zM127.6 141.4h1.2v1.2h-1.2zM123.5 125.9h1.2v1.2h-1.2zM136.4 133.4h1.2v1.2h-1.2zM122.3 145h1.2v1.2h-1.2zM131.7 133.5h1.2v1.2h-1.2zM86.9 138.4h1.2v1.2h-1.2zM132 136.6h1.2v1.2h-1.2zM140.8 136.5h1.2v1.2h-1.2zM120.3 131.7h1.2v1.2h-1.2zM110.7 142.8h1.2v1.2h-1.2zM111.5 149.1h1.2v1.2h-1.2zM103 133h1.2v1.2h-1.2zM124.7 126.7h1.2v1.2h-1.2zM130.5 136.2h1.2v1.2h-1.2zM112.8 130.3h1.2v1.2h-1.2zM98.1 153.9h1.2v1.2h-1.2zM105.1 149.6h1.2v1.2h-1.2zM133.4 143.3h1.2v1.2h-1.2zM123.6 145.3h1.2v1.2h-1.2zM150.4 136.5h1.2v1.2h-1.2zM159.4 128.1h1.2v1.2h-1.2zM130.7 132.1h1.2v1.2h-1.2zM134.1 144.4h1.2v1.2h-1.2zM146 134h1.2v1.2h-1.2zM119.4 152.3h1.2v1.2h-1.2zM134.2 121.7h1.2v1.2h-1.2zM136.2 127.6h1.2v1.2h-1.2zM162.6 136.8h1.2v1.2h-1.2zM124.1 149.3h1.2v1.2h-1.2zM117.9 148.4h1.2v1.2h-1.2zM142.8 133.3h1.2v1.2h-1.2zM104.2 143.7h1.2v1.2h-1.2zM87 146.8h1.2v1.2h-1.2zM98.9 156.2h1.2v1.2h-1.2zM108.6 126.7h1.2v1.2h-1.2zM143.9 136.6h1.2v1.2h-1.2zM147 133.5h1.2v1.2h-1.2zM113.7 121.3h1.2v1.2h-1.2zM143.1 141.2h1.2v1.2h-1.2zM117.8 131.4h1.2v1.2h-1.2zM127.9 126.5h1.2v1.2h-1.2zM133.7 142.6h1.2v1.2h-1.2zM137.3 141.4h1.2v1.2h-1.2zM158.2 127.4h1.2v1.2h-1.2zM106.9 139.2h1.2v1.2h-1.2zM106.1 138.7h1.2v1.2h-1.2zM130.4 140.5h1.2v1.2h-1.2zM135.1 137.1h1.2v1.2h-1.2zM126 142.4h1.2v1.2h-1.2zM150.5 137.6h1.2v1.2h-1.2zM130.6 150.3h1.2v1.2h-1.2zM136.7 139.1h1.2v1.2h-1.2zM127.5 145.9h1.2v1.2h-1.2zM122.3 133h1.2v1.2h-1.2zM130 134.9h1.2v1.2h-1.2zM147.2 130.2h1.2v1.2h-1.2zM133.9 135.3h1.2v1.2h-1.2zM137.3 131.3h1.2v1.2h-1.2zM123.2 134.9h1.2v1.2h-1.2zM144.5 134.1h1.2v1.2h-1.2zM140.6 132.5h1.2v1.2h-1.2zM116 134.1h1.2v1.2h-1.2zM124.5 135.8h1.2v1.2h-1.2zM138.1 138.3h1.2v1.2h-1.2zM150.5 131.2h1.2v1.2h-1.2zM115.5 134.6h1.2v1.2h-1.2zM133.9 139.6h1.2v1.2h-1.2zM114.3 151.6h1.2v1.2h-1.2zM156.5 140h1.2v1.2h-1.2zM133.7 144h1.2v1.2h-1.2zM122.6 139.8h1.2v1.2h-1.2zM135.9 149.4h1.2v1.2h-1.2zM129.8 145.1h1.2v1.2h-1.2zM131.9 132.4h1.2v1.2h-1.2zM138 140.5h1.2v1.2h-1.2zM119.6 145.8h1.2v1.2h-1.2zM116.6 135.7h1.2v1.2h-1.2zM135.7 134.7h1.2v1.2h-1.2zM109.9 132.2h1.2v1.2h-1.2zM132.9 139h1.2v1.2h-1.2zM123.6 141.4h1.2v1.2h-1.2zM103.5 148.8h1.2v1.2h-1.2zM140.5 137h1.2v1.2h-1.2zM120.4 141.5h1.2v1.2h-1.2zM136.6 143.9h1.2v1.2h-1.2zM137.8 137.6h1.2v1.2h-1.2zM119.8 147.4h1.2v1.2h-1.2zM153.5 127.5h1.2v1.2h-1.2zM144.9 135.9h1.2v1.2h-1.2zM128.5 129.1h1.2v1.2h-1.2zM137.1 133.3h1.2v1.2h-1.2zM153.1 128.1h1.2v1.2h-1.2zM134 141.4h1.2v1.2h-1.2zM139.7 131.4h1.2v1.2h-1.2zM145.8 136.2h1.2v1.2h-1.2zM149.9 128.4h1.2v1.2h-1.2zM130.3 135.1h1.2v1.2h-1.2zM116.5 144h1.2v1.2h-1.2zM142.7 144.7h1.2v1.2h-1.2zM126.5 141.9h1.2v1.2h-1.2zM153.6 130.2h1.2v1.2h-1.2zM133.5 138h1.2v1.2h-1.2zM116.8 134.8h1.2v1.2h-1.2zM153.7 132.3h1.2v1.2h-1.2zM128.1 129.6h1.2v1.2h-1.2zM136.6 144.7h1.2v1.2h-1.2zM108.2 138.1h1.2v1.2h-1.2zM156 140.8h1.2v1.2h-1.2zM142 129.1h1.2v1.2h-1.2zM141.2 132.1h1.2v1.2h-1.2zM138.4 145.3h1.2v1.2h-1.2zM138 134h1.2v1.2h-1.2zM133.6 139h1.2v1.2h-1.2zM122.6 141.8h1.2v1.2h-1.2zM146.5 144.5h1.2v1.2h-1.2zM90.3 141.2h1.2v1.2h-1.2zM110.1 150.4h1.2v1.2h-1.2zM136.6 144.4h1.2v1.2h-1.2zM85.1 150.1h1.2v1.2h-1.2zM72.9 156.2h1.2v1.2h-1.2zM121.4 137.1h1.2v1.2h-1.2zM137.3 131.7h1.2v1.2h-1.2zM153.2 131.2h1.2v1.2h-1.2zM125.3 146.2h1.2v1.2h-1.2zM118.7 150.5h1.2v1.2h-1.2zM150.6 133h1.2v1.2h-1.2zM154.1 142.6h1.2v1.2h-1.2zM158.2 129.7h1.2v1.2h-1.2zM133.2 145.2h1.2v1.2h-1.2zM102.8 141.8h1.2v1.2h-1.2zM142.3 138.5h1.2v1.2h-1.2zM170.9 138.7h1.2v1.2h-1.2zM139 138.6h1.2v1.2h-1.2zM106.6 143.7h1.2v1.2h-1.2zM136.5 134.5h1.2v1.2h-1.2zM134.3 141.2h1.2v1.2h-1.2zM112.8 139.1h1.2v1.2h-1.2zM100.5 155.1h1.2v1.2h-1.2zM108.6 132.1h1.2v1.2h-1.2zM146.2 131.7h1.2v1.2h-1.2zM149.6 129.6h1.2v1.2h-1.2zM135.1 137.4h1.2v1.2h-1.2zM129.7 144h1.2v1.2h-1.2zM112.5 147.6h1.2v1.2h-1.2zM116.9 134.8h1.2v1.2h-1.2zM143.7 137.7h1.2v1.2h-1.2zM115.9 134.2h1.2v1.2h-1.2zM143.9 132.8h1.2v1.2h-1.2zM120.5 138.9h1.2v1.2h-1.2zM125.3 134.2h1.2v1.2h-1.2zM135.4 143.4h1.2v1.2h-1.2zM103 144.5h1.2v1.2h-1.2zM161.7 134h1.2v1.2h-1.2zM115 136.7h1.2v1.2h-1.2zM112.7 131.7h1.2v1.2h-1.2zM153.9 131.5h1.2v1.2h-1.2zM116 131.9h1.2v1.2h-1.2zM123.7 136.3h1.2v1.2h-1.2zM136.3 143.9h1.2v1.2h-1.2zM144.3 132.6h1.2v1.2h-1.2zM93.6 159h1.2v1.2h-1.2zM142.4 131.3h1.2v1.2h-1.2zM128.5 131.7h1.2v1.2h-1.2zM112.1 132.7h1.2v1.2h-1.2zM142.5 138.1h1.2v1.2h-1.2zM136.8 141.7h1.2v1.2h-1.2zM142.3 135.3h1.2v1.2h-1.2zM116.5 146.3h1.2v1.2h-1.2zM155.6 135h1.2v1.2h-1.2zM154.6 127.4h1.2v1.2h-1.2zM116 151.2h1.2v1.2h-1.2zM121.5 142.4h1.2v1.2h-1.2zM128.5 138.7h1.2v1.2h-1.2zM125.8 135.5h1.2v1.2h-1.2zM132.1 123.7h1.2v1.2h-1.2zM112.7 135.2h1.2v1.2h-1.2zM113.1 124.9h1.2v1.2h-1.2zM146 145.1h1.2v1.2h-1.2zM128.8 143.8h1.2v1.2h-1.2zM140.9 125.9h1.2v1.2h-1.2zM120.5 138.4h1.2v1.2h-1.2zM155.8 131.3h1.2v1.2h-1.2zM128.1 132.9h1.2v1.2h-1.2zM133.8 137.3h1.2v1.2h-1.2zM148.4 142.6h1.2v1.2h-1.2zM145.9 133.5h1.2v1.2h-1.2zM132.3 148.9h1.2v1.2h-1.2zM135.7 136.3h1.2v1.2h-1.2zM142.5 133.6h1.2v1.2h-1.2zM122.2 148.1h1.2v1.2h-1.2zM125.4 146.3h1.2v1.2h-1.2zM117.5 142.6h1.2v1.2h-1.2zM139.8 136.2h1.2v1.2h-1.2zM137.1 138.7h1.2v1.2h-1.2zM108.8 136.5h1.2v1.2h-1.2zM132.8 150.2h1.2v1.2h-1.2zM127.9 132.1h1.2v1.2h-1.2zM119.7 141.4h1.2v1.2h-1.2zM153.1 127.2h1.2v1.2h-1.2zM142.9 135.6h1.2v1.2h-1.2zM123.5 133.3h1.2v1.2h-1.2zM127.7 133.6h1.2v1.2h-1.2zM138.6 123h1.2v1.2h-1.2zM154.6 136.2h1.2v1.2h-1.2zM145.8 144.1h1.2v1.2h-1.2zM140 122.9h1.2v1.2h-1.2zM133.9 140.2h1.2v1.2h-1.2zM117 133.9h1.2v1.2h-1.2zM141.1 138.4h1.2v1.2h-1.2zM123.6 138.3h1.2v1.2h-1.2zM121.4 136.6h1.2v1.2h-1.2zM133 144.9h1.2v1.2h-1.2zM101.2 144.2h1.2v1.2h-1.2zM136.5 142.1h1.2v1.2h-1.2zM110.9 135.2h1.2v1.2h-1.2zM98.1 137.2h1.2v1.2h-1.2zM138.3 141.7h1.2v1.2h-1.2zM122.9 135.4h1.2v1.2h-1.2zM140.7 139.3h1.2v1.2h-1.2zM133.1 123.6h1.2v1.2h-1.2zM116.9 124h1.2v1.2h-1.2zM134.9 130.6h1.2v1.2h-1.2zM122.7 151h1.2v1.2h-1.2zM157.6 133.3h1.2v1.2h-1.2zM137.5 137.1h1.2v1.2h-1.2zM121 140.4h1.2v1.2h-1.2zM120 142.2h1.2v1.2h-1.2zM150.3 138h1.2v1.2h-1.2zM113.7 142h1.2v1.2h-1.2zM124.7 130.9h1.2v1.2h-1.2zM132.5 133.9h1.2v1.2h-1.2zM150 135.2h1.2v1.2h-1.2zM117.6 142.4h1.2v1.2h-1.2zM124.1 135.3h1.2v1.2h-1.2zM125 147.1h1.2v1.2h-1.2zM121 128.6h1.2v1.2h-1.2zM119.1 147.1h1.2v1.2h-1.2zM124.7 137.3h1.2v1.2h-1.2zM106.5 147.9h1.2v1.2h-1.2zM131.6 139.6h1.2v1.2h-1.2zM148.4 138.5h1.2v1.2h-1.2zM119 137.2h1.2v1.2h-1.2zM132.6 129.6h1.2v1.2h-1.2zM149.5 136h1.2v1.2h-1.2zM147.5 134.8h1.2v1.2h-1.2zM132.1 133.6h1.2v1.2h-1.2zM138.2 137.4h1.2v1.2h-1.2zM146.3 141h1.2v1.2h-1.2zM136.8 132.2h1.2v1.2h-1.2zM150.1 143.2h1.2v1.2h-1.2zM117.3 144.9h1.2v1.2h-1.2zM143.3 138h1.2v1.2h-1.2zM141.2 134.1h1.2v1.2h-1.2zM133.4 149.1h1.2v1.2h-1.2zM85.6 154.4h1.2v1.2h-1.2zM118.4 137.9h1.2v1.2h-1.2zM103 148.6h1.2v1.2h-1.2zM129.9 134.3h1.2v1.2h-1.2zM153.5 148.4h1.2v1.2h-1.2zM161.8 137h1.2v1.2h-1.2zM125.6 144.1h1.2v1.2h-1.2zM133.5 145.3h1.2v1.2h-1.2zM142.8 134h1.2v1.2h-1.2zM140.9 129.8h1.2v1.2h-1.2zM149.7 142.9h1.2v1.2h-1.2zM126.4 143.1h1.2v1.2h-1.2zM102.8 152.8h1.2v1.2h-1.2zM146.4 126h1.2v1.2h-1.2zM97.1 138.2h1.2v1.2h-1.2zM147.8 130.9h1.2v1.2h-1.2zM149.6 121.3h1.2v1.2h-1.2zM132.1 144.4h1.2v1.2h-1.2zM120.7 145.7h1.2v1.2h-1.2zM126 141.7h1.2v1.2h-1.2zM110.5 149.4h1.2v1.2h-1.2zM154.3 122.9h1.2v1.2h-1.2zM124.3 127.7h1.2v1.2h-1.2zM136.2 131.1h1.2v1.2h-1.2zM119.9 135.2h1.2v1.2h-1.2zM136.6 132.8h1.2v1.2h-1.2zM114.7 141h1.2v1.2h-1.2zM137.9 129.7h1.2v1.2h-1.2zM138.8 132.7h1.2v1.2h-1.2zM117 132.4h1.2v1.2h-1.2zM111.2 141.3h1.2v1.2h-1.2zM117.1 152.7h1.2v1.2h-1.2zM135.8 121.9h1.2v1.2h-1.2zM137.7 142.3h1.2v1.2h-1.2zM133 140.6h1.2v1.2h-1.2zM130.4 139.5h1.2v1.2h-1.2zM134.6 131.7h1.2v1.2h-1.2zM138.8 136.7h1.2v1.2h-1.2zM130 133.3h1.2v1.2h-1.2zM113.6 144.7h1.2v1.2h-1.2zM124.7 149.3h1.2v1.2h-1.2zM147.7 127.8h1.2v1.2h-1.2zM155.3 123.6h1.2v1.2h-1.2zM121.1 154.5h1.2v1.2h-1.2zM123.5 138.5h1.2v1.2h-1.2zM99.3 140h1.2v1.2h-1.2zM109.8 143.1h1.2v1.2h-1.2zM99.9 154.6h1.2v1.2h-1.2zM124.2 135.5h1.2v1.2h-1.2zM121.6 145.9h1.2v1.2h-1.2zM148.3 129.1h1.2v1.2h-1.2zM112.3 135.1h1.2v1.2h-1.2zM123.7 129.3h1.2v1.2h-1.2zM106.5 132h1.2v1.2h-1.2zM129.3 121.9h1.2v1.2h-1.2zM133.6 133.8h1.2v1.2h-1.2zM129.6 123h1.2v1.2h-1.2zM151.7 109h1.2v1.2h-1.2zM118.3 132h1.2v1.2h-1.2zM118.2 118.3h1.2v1.2h-1.2zM132.1 130h1.2v1.2h-1.2zM121.1 136.5h1.2v1.2h-1.2zM135.2 130.9h1.2v1.2h-1.2zM110.9 132.1h1.2v1.2h-1.2zM148.7 131.1h1.2v1.2h-1.2zM129.2 123.5h1.2v1.2h-1.2zM139.3 120.1h1.2v1.2h-1.2zM126.5 117h1.2v1.2h-1.2zM113.6 140.3h1.2v1.2h-1.2zM129 127.8h1.2v1.2h-1.2zM103.3 134.2h1.2v1.2h-1.2zM101.1 134.2h1.2v1.2h-1.2zM121.8 127.8h1.2v1.2h-1.2zM112 124.9h1.2v1.2h-1.2zM115 134.1h1.2v1.2h-1.2zM128.6 131h1.2v1.2h-1.2zM116.7 133.4h1.2v1.2h-1.2zM123.2 128.9h1.2v1.2h-1.2zM138.5 124h1.2v1.2h-1.2zM121.7 120.4h1.2v1.2h-1.2zM129.8 130.5h1.2v1.2h-1.2zM120.8 128.8h1.2v1.2h-1.2zM106.3 126.7h1.2v1.2h-1.2zM134.3 131.7h1.2v1.2h-1.2zM122.2 120.2h1.2v1.2h-1.2zM121.5 120.9h1.2v1.2h-1.2zM127.6 137h1.2v1.2h-1.2zM131.2 125.3h1.2v1.2h-1.2zM139.1 121.7h1.2v1.2h-1.2zM132 126.8h1.2v1.2h-1.2zM131 118.6h1.2v1.2h-1.2zM137.2 128.8h1.2v1.2h-1.2zM98.5 121.9h1.2v1.2h-1.2zM120 137h1.2v1.2h-1.2zM129.2 130.1h1.2v1.2h-1.2zM135.5 129.3h1.2v1.2h-1.2zM120 126.4h1.2v1.2h-1.2zM133.1 128.6h1.2v1.2h-1.2zM135 126.7h1.2v1.2h-1.2zM124.1 133.8h1.2v1.2h-1.2zM134.8 130.4h1.2v1.2h-1.2zM100.7 140.3h1.2v1.2h-1.2zM100.7 136.2h1.2v1.2h-1.2zM120.7 129.8h1.2v1.2h-1.2zM122.2 127.1h1.2v1.2h-1.2zM130.7 128h1.2v1.2h-1.2zM115.4 117.8h1.2v1.2h-1.2zM119.9 132.2h1.2v1.2h-1.2zM119 131.9h1.2v1.2h-1.2zM122.5 123.8h1.2v1.2h-1.2zM143.6 130.9h1.2v1.2h-1.2zM126.8 127.1h1.2v1.2h-1.2zM137 117.5h1.2v1.2h-1.2zM119.7 135.3h1.2v1.2h-1.2zM137.5 121.6h1.2v1.2h-1.2zM119.7 131.3h1.2v1.2h-1.2zM111.3 129.4h1.2v1.2h-1.2zM121.9 116.1h1.2v1.2h-1.2zM135.8 128.6h1.2v1.2h-1.2zM138.1 116.6h1.2v1.2h-1.2zM112.2 127.5h1.2v1.2h-1.2zM116.1 141.2h1.2v1.2h-1.2zM116.4 128.8h1.2v1.2h-1.2zM131 128.5h1.2v1.2h-1.2zM138.2 124.7h1.2v1.2h-1.2zM114.9 131.7h1.2v1.2h-1.2zM114.3 139.4h1.2v1.2h-1.2zM121.1 134.3h1.2v1.2h-1.2zM142 119.7h1.2v1.2h-1.2zM117.9 130.7h1.2v1.2h-1.2zM117.3 134.8h1.2v1.2h-1.2zM128.9 122.8h1.2v1.2h-1.2zM121.2 132.8h1.2v1.2h-1.2zM113.8 140h1.2v1.2h-1.2zM118.8 128.7h1.2v1.2h-1.2zM119.7 137.9h1.2v1.2h-1.2zM139.3 130.4h1.2v1.2h-1.2zM135.6 125.2h1.2v1.2h-1.2zM148.3 124.4h1.2v1.2h-1.2zM133.8 128.3h1.2v1.2h-1.2zM136.8 125.8h1.2v1.2h-1.2zM123.8 120h1.2v1.2h-1.2zM102.3 130.9h1.2v1.2h-1.2zM151.9 126.2h1.2v1.2h-1.2zM121.5 130.3h1.2v1.2h-1.2zM124.9 117.6h1.2v1.2h-1.2zM124.6 129.5h1.2v1.2h-1.2zM139.7 117.3h1.2v1.2h-1.2zM99.9 127.2h1.2v1.2h-1.2zM131.9 126.3h1.2v1.2h-1.2zM129.9 127.2h1.2v1.2h-1.2zM121.9 121.7h1.2v1.2h-1.2zM133.8 127.3h1.2v1.2h-1.2zM136.4 131h1.2v1.2h-1.2zM110.4 120h1.2v1.2h-1.2zM110.6 143.3h1.2v1.2h-1.2zM118.1 132h1.2v1.2h-1.2zM128.9 130.5h1.2v1.2h-1.2zM125.2 124.7h1.2v1.2h-1.2zM131.6 128.7h1.2v1.2h-1.2zM118.7 136.6h1.2v1.2h-1.2zM141.8 125.2h1.2v1.2h-1.2zM126.4 126.2h1.2v1.2h-1.2zM110 135.8h1.2v1.2h-1.2zM116.1 127.9h1.2v1.2h-1.2zM138.1 119.2h1.2v1.2h-1.2zM123.2 132.9h1.2v1.2h-1.2zM139.8 120.1h1.2v1.2h-1.2zM133.2 128h1.2v1.2h-1.2zM116.4 135.8h1.2v1.2h-1.2zM129.4 120.5h1.2v1.2h-1.2zM114.4 135h1.2v1.2h-1.2zM110.2 128.7h1.2v1.2h-1.2zM105.4 140.9h1.2v1.2h-1.2zM119.7 126.5h1.2v1.2h-1.2zM122.3 131.6h1.2v1.2h-1.2zM130.5 116.9h1.2v1.2h-1.2zM122.1 136.7h1.2v1.2h-1.2zM128.7 133.9h1.2v1.2h-1.2zM142.7 131.3h1.2v1.2h-1.2zM118.9 130h1.2v1.2h-1.2zM132 124.8h1.2v1.2h-1.2zM141.5 130.1h1.2v1.2h-1.2zM104.2 129h1.2v1.2h-1.2zM116.8 127.5h1.2v1.2h-1.2zM132.2 124.8h1.2v1.2h-1.2zM128.3 124.5h1.2v1.2h-1.2zM127.7 129.6h1.2v1.2h-1.2zM135.5 120.7h1.2v1.2h-1.2zM125.6 123.7h1.2v1.2h-1.2zM123.9 120.7h1.2v1.2h-1.2zM139.9 127h1.2v1.2h-1.2zM125.6 124.1h1.2v1.2h-1.2zM121.8 125.4h1.2v1.2h-1.2zM112.6 140.1h1.2v1.2h-1.2zM115.4 133.8h1.2v1.2h-1.2zM132.7 117.4h1.2v1.2h-1.2zM106.7 136.2h1.2v1.2h-1.2zM107.1 140.6h1.2v1.2h-1.2zM122.4 129.1h1.2v1.2h-1.2zM127.2 124.3h1.2v1.2h-1.2zM125.9 126h1.2v1.2h-1.2zM126.9 124.6h1.2v1.2h-1.2zM119.7 125.6h1.2v1.2h-1.2zM130.7 135.8h1.2v1.2h-1.2zM148.6 126.2h1.2v1.2h-1.2zM130.1 125.5h1.2v1.2h-1.2zM115.7 131.9h1.2v1.2h-1.2zM122.1 120.5h1.2v1.2h-1.2zM116 140.7h1.2v1.2h-1.2zM131.2 128.7h1.2v1.2h-1.2zM129.6 124.1h1.2v1.2h-1.2zM134.9 130.6h1.2v1.2h-1.2zM125.2 130.5h1.2v1.2h-1.2zM139.1 121.2h1.2v1.2h-1.2zM128.9 122.9h1.2v1.2h-1.2zM134.4 123.2h1.2v1.2h-1.2zM117 125.5h1.2v1.2h-1.2zM134.4 120.6h1.2v1.2h-1.2zM150.6 127h1.2v1.2h-1.2zM131.9 118.4h1.2v1.2h-1.2zM126.7 123.6h1.2v1.2h-1.2zM107.8 135.2h1.2v1.2h-1.2zM139.1 130.4h1.2v1.2h-1.2zM116.5 128.7h1.2v1.2h-1.2zM131.8 128.3h1.2v1.2h-1.2zM115.1 132h1.2v1.2h-1.2zM128.1 131.9h1.2v1.2h-1.2zM108.8 129.8h1.2v1.2h-1.2zM121.8 127.2h1.2v1.2h-1.2zM135.4 121.5h1.2v1.2h-1.2zM139.1 129h1.2v1.2h-1.2zM138.8 122.7h1.2v1.2h-1.2zM118.1 128.6h1.2v1.2h-1.2zM135.8 125.3h1.2v1.2h-1.2zM135.5 127.8h1.2v1.2h-1.2zM116.5 125.5h1.2v1.2h-1.2zM112.4 141.3h1.2v1.2h-1.2zM117.1 125.4h1.2v1.2h-1.2zM137.5 118.3h1.2v1.2h-1.2zM119.5 135h1.2v1.2h-1.2zM122.1 141.8h1.2v1.2h-1.2zM132.9 139.5h1.2v1.2h-1.2zM129.6 126.8h1.2v1.2h-1.2zM120.3 128.1h1.2v1.2h-1.2zM122.2 128.6h1.2v1.2h-1.2zM135.1 118.3h1.2v1.2h-1.2zM114.5 120.1h1.2v1.2h-1.2zM127.8 126.8h1.2v1.2h-1.2zM137.5 123.3h1.2v1.2h-1.2zM126.5 127.1h1.2v1.2h-1.2zM108.1 138.6h1.2v1.2h-1.2zM108.4 127.6h1.2v1.2h-1.2zM135.8 125h1.2v1.2h-1.2zM139.8 132.4h1.2v1.2h-1.2zM151.4 127.3h1.2v1.2h-1.2zM128.3 137.6h1.2v1.2h-1.2zM117.8 129.6h1.2v1.2h-1.2zM139.2 122.6h1.2v1.2h-1.2zM126.1 125.7h1.2v1.2h-1.2zM144.1 127.7h1.2v1.2h-1.2zM128 129.9h1.2v1.2h-1.2zM118.4 135.6h1.2v1.2h-1.2zM123.4 125.8h1.2v1.2h-1.2zM124 121.6h1.2v1.2h-1.2zM114.8 139.6h1.2v1.2h-1.2zM128.6 129.7h1.2v1.2h-1.2zM132.2 128.2h1.2v1.2h-1.2zM109.1 127.7h1.2v1.2h-1.2zM136.7 129.6h1.2v1.2h-1.2zM114 128.1h1.2v1.2h-1.2zM116.6 133.8h1.2v1.2h-1.2zM132 126h1.2v1.2h-1.2zM121 130.9h1.2v1.2h-1.2zM127.3 123.3h1.2v1.2h-1.2zM130.9 122.7h1.2v1.2h-1.2zM139.8 126.7h1.2v1.2h-1.2zM120.9 132.2h1.2v1.2h-1.2zM127.8 123.4h1.2v1.2h-1.2zM115.1 122.2h1.2v1.2h-1.2zM115.5 132.5h1.2v1.2h-1.2zM130.3 128.1h1.2v1.2h-1.2zM137.6 126.5h1.2v1.2h-1.2zM143.2 126.5h1.2v1.2h-1.2zM119.8 131.5h1.2v1.2h-1.2zM100.8 134.1h1.2v1.2h-1.2zM129.1 129.7h1.2v1.2h-1.2zM125.7 132h1.2v1.2h-1.2zM122.1 130.1h1.2v1.2h-1.2zM133.8 126h1.2v1.2h-1.2zM135.9 118.5h1.2v1.2h-1.2zM138.6 129.9h1.2v1.2h-1.2zM141.4 125.2h1.2v1.2h-1.2zM125.8 129.7h1.2v1.2h-1.2zM124.9 119.7h1.2v1.2h-1.2zM121 128.9h1.2v1.2h-1.2zM120.7 124.3h1.2v1.2h-1.2zM124.8 126h1.2v1.2h-1.2zM128.7 126.5h1.2v1.2h-1.2zM131.4 131.2h1.2v1.2h-1.2zM130.2 128.5h1.2v1.2h-1.2zM109.7 117.1h1.2v1.2h-1.2zM124.4 131.6h1.2v1.2h-1.2zM123.2 125.2h1.2v1.2h-1.2zM115 135.5h1.2v1.2h-1.2zM122.3 130h1.2v1.2h-1.2zM141.8 125.7h1.2v1.2h-1.2zM140 127.1h1.2v1.2h-1.2zM120.5 129.5h1.2v1.2h-1.2zM120 124h1.2v1.2h-1.2zM130.3 122.3h1.2v1.2h-1.2zM121.9 129.3h1.2v1.2h-1.2zM122.1 129h1.2v1.2h-1.2zM119 122.3h1.2v1.2h-1.2zM98.4 129.1h1.2v1.2h-1.2zM146.1 123.9h1.2v1.2h-1.2zM129.1 124.2h1.2v1.2h-1.2zM126.8 128.9h1.2v1.2h-1.2zM110.9 127.9h1.2v1.2h-1.2zM119.6 136.1h1.2v1.2h-1.2zM117.5 136.2h1.2v1.2h-1.2zM126.5 141.7h1.2v1.2h-1.2zM127.1 127.4h1.2v1.2h-1.2zM144.8 126.6h1.2v1.2h-1.2zM137.3 118.7h1.2v1.2h-1.2zM143.5 131.2h1.2v1.2h-1.2zM126.1 125h1.2v1.2h-1.2zM116.9 135.6h1.2v1.2h-1.2zM131.4 126h1.2v1.2h-1.2zM116.1 139h1.2v1.2h-1.2zM138 123.9h1.2v1.2h-1.2zM136.7 119.2h1.2v1.2h-1.2zM134.2 131.1h1.2v1.2h-1.2zM117.8 130.5h1.2v1.2h-1.2zM119.6 134h1.2v1.2h-1.2zM120.5 127.3h1.2v1.2h-1.2zM127.3 133.3h1.2v1.2h-1.2zM116 130.4h1.2v1.2h-1.2zM123.4 125.5h1.2v1.2h-1.2zM118.7 128.9h1.2v1.2h-1.2zM128 118.9h1.2v1.2h-1.2zM129 120.5h1.2v1.2h-1.2zM131.4 137.9h1.2v1.2h-1.2zM116.8 130h1.2v1.2h-1.2zM126.5 132.6h1.2v1.2h-1.2zM120 120.1h1.2v1.2h-1.2zM109.7 133.4h1.2v1.2h-1.2zM132.4 131.2h1.2v1.2h-1.2zM122.8 132h1.2v1.2h-1.2zM117.6 136.8h1.2v1.2h-1.2zM126.2 124h1.2v1.2h-1.2zM132.5 134.7h1.2v1.2h-1.2zM116.5 124h1.2v1.2h-1.2zM114.7 124.9h1.2v1.2h-1.2zM127.9 128.9h1.2v1.2h-1.2zM126.4 128.5h1.2v1.2h-1.2zM110.3 120.3h1.2v1.2h-1.2zM129.8 122.9h1.2v1.2h-1.2zM125.7 129.8h1.2v1.2h-1.2zM131.1 117.9h1.2v1.2h-1.2zM117.1 130.6h1.2v1.2h-1.2zM128 133h1.2v1.2h-1.2zM119.3 118.8h1.2v1.2h-1.2zM139.1 115.2h1.2v1.2h-1.2zM117.4 132.2h1.2v1.2h-1.2zM119.4 142.5h1.2v1.2h-1.2zM131.5 128.8h1.2v1.2h-1.2zM126.1 139.1h1.2v1.2h-1.2zM133.2 121.7h1.2v1.2h-1.2zM121.7 130.4h1.2v1.2h-1.2zM128.2 121.9h1.2v1.2h-1.2zM148.3 128.6h1.2v1.2h-1.2zM117.8 132h1.2v1.2h-1.2zM120.1 127.1h1.2v1.2h-1.2zM139.5 124.2h1.2v1.2h-1.2zM126.9 127.9h1.2v1.2h-1.2zM116.3 136.9h1.2v1.2h-1.2zM121.2 135.8h1.2v1.2h-1.2zM122.1 126.4h1.2v1.2h-1.2zM119.9 126.6h1.2v1.2h-1.2zM137.6 133.9h1.2v1.2h-1.2zM134.5 123h1.2v1.2h-1.2zM114.1 127.6h1.2v1.2h-1.2zM127 128.6h1.2v1.2h-1.2zM122.3 135.4h1.2v1.2h-1.2zM116 126.9h1.2v1.2h-1.2zM134.4 127.6h1.2v1.2h-1.2zM124.9 132.9h1.2v1.2h-1.2zM114.1 139.6h1.2v1.2h-1.2zM155.9 128.9h1.2v1.2h-1.2zM132.2 136h1.2v1.2h-1.2zM130.5 133.2h1.2v1.2h-1.2zM126 128.6h1.2v1.2h-1.2zM131.5 116.8h1.2v1.2h-1.2zM128.1 135.9h1.2v1.2h-1.2zM94.9 138.8h1.2v1.2h-1.2zM139.1 125.4h1.2v1.2h-1.2zM132.2 133h1.2v1.2h-1.2zM129.2 116.8h1.2v1.2h-1.2zM116.7 128.8h1.2v1.2h-1.2zM129 124.4h1.2v1.2h-1.2zM129.2 135.4h1.2v1.2h-1.2zM95.9 142.5h1.2v1.2h-1.2zM139.6 126.7h1.2v1.2h-1.2zM128.3 127.3h1.2v1.2h-1.2zM132.5 126.9h1.2v1.2h-1.2zM120.8 133.2h1.2v1.2h-1.2zM118.4 129.6h1.2v1.2h-1.2zM122.2 122.7h1.2v1.2h-1.2zM134.9 124.6h1.2v1.2h-1.2zM114.5 130.6h1.2v1.2h-1.2zM114.2 138.6h1.2v1.2h-1.2zM136.8 134.7h1.2v1.2h-1.2zM122.5 132.3h1.2v1.2h-1.2zM115.7 126.2h1.2v1.2h-1.2zM127.6 129.3h1.2v1.2h-1.2zM138.2 122.6h1.2v1.2h-1.2zM142 127.9h1.2v1.2h-1.2zM117.7 129.1h1.2v1.2h-1.2zM119.9 138.3h1.2v1.2h-1.2zM122.9 133.1h1.2v1.2h-1.2zM138.1 122.7h1.2v1.2h-1.2zM122.9 130.3h1.2v1.2h-1.2zM117.3 123.6h1.2v1.2h-1.2zM117.4 131.9h1.2v1.2h-1.2zM132.7 134.8h1.2v1.2h-1.2zM107.8 135.6h1.2v1.2h-1.2zM116.4 136.4h1.2v1.2h-1.2zM136.2 125.2h1.2v1.2h-1.2zM120.4 123.8h1.2v1.2h-1.2zM120.6 129.8h1.2v1.2h-1.2zM137.5 130.8h1.2v1.2h-1.2zM123.9 124.4h1.2v1.2h-1.2zM123.6 126.1h1.2v1.2h-1.2zM122.1 126.7h1.2v1.2h-1.2zM118 129.7h1.2v1.2h-1.2zM121.9 127.9h1.2v1.2h-1.2zM112.4 132.4h1.2v1.2h-1.2zM135.5 128.1h1.2v1.2h-1.2zM120.1 123.4h1.2v1.2h-1.2zM111.5 125.8h1.2v1.2h-1.2zM120.2 127.7h1.2v1.2h-1.2zM108.7 136.2h1.2v1.2h-1.2zM109.5 129h1.2v1.2h-1.2zM120.9 133.4h1.2v1.2h-1.2zM124.3 126.1h1.2v1.2h-1.2zM125.5 126.9h1.2v1.2h-1.2zM125.6 123.6h1.2v1.2h-1.2zM131.3 123.3h1.2v1.2h-1.2zM133 119.9h1.2v1.2h-1.2zM108.8 136.3h1.2v1.2h-1.2zM121 123.1h1.2v1.2h-1.2zM132.3 123h1.2v1.2h-1.2zM135.6 121.9h1.2v1.2h-1.2zM138.5 124.7h1.2v1.2h-1.2zM132.3 126.5h1.2v1.2h-1.2zM123.3 126.5h1.2v1.2h-1.2zM134.1 128.8h1.2v1.2h-1.2zM126.5 139h1.2v1.2h-1.2zM145.6 115.9h1.2v1.2h-1.2zM129.5 122.5h1.2v1.2h-1.2zM126.1 123.9h1.2v1.2h-1.2zM151.7 126.4h1.2v1.2h-1.2zM112.4 129.3h1.2v1.2h-1.2zM131.5 123.7h1.2v1.2h-1.2zM122.5 123.1h1.2v1.2h-1.2zM129.3 121h1.2v1.2h-1.2zM140.8 135.5h1.2v1.2h-1.2zM126.6 135.9h1.2v1.2h-1.2zM131.3 122.6h1.2v1.2h-1.2zM122.7 123.6h1.2v1.2h-1.2zM130.3 129.9h1.2v1.2h-1.2zM138.2 122.6h1.2v1.2h-1.2zM114.4 130.7h1.2v1.2h-1.2zM124.4 117.4h1.2v1.2h-1.2zM123.9 131h1.2v1.2h-1.2zM119.2 136.6h1.2v1.2h-1.2zM120.4 124.8h1.2v1.2h-1.2zM121.3 128.5h1.2v1.2h-1.2zM138.5 121h1.2v1.2h-1.2zM107.7 132.6h1.2v1.2h-1.2zM136.1 132.5h1.2v1.2h-1.2zM117.4 137.8h1.2v1.2h-1.2zM136.3 126.9h1.2v1.2h-1.2zM118.1 125.4h1.2v1.2h-1.2zM118.5 134.6h1.2v1.2h-1.2zM132 131.3h1.2v1.2h-1.2zM130.2 136.2h1.2v1.2h-1.2zM112.6 129.3h1.2v1.2h-1.2zM123.3 126.5h1.2v1.2h-1.2zM128.5 122.6h1.2v1.2h-1.2zM139.3 116.7h1.2v1.2h-1.2zM116.4 121.8h1.2v1.2h-1.2zM113 134.5h1.2v1.2h-1.2zM134.9 124h1.2v1.2h-1.2zM138.4 127.1h1.2v1.2h-1.2zM121.4 128.8h1.2v1.2h-1.2zM135 135.2h1.2v1.2h-1.2zM123.5 130.2h1.2v1.2h-1.2zM135.9 130.9h1.2v1.2h-1.2zM134.3 130.6h1.2v1.2h-1.2zM115.6 129.4h1.2v1.2h-1.2zM106 133.3h1.2v1.2h-1.2zM129.4 128h1.2v1.2h-1.2zM127.8 120.3h1.2v1.2h-1.2zM126.3 114.3h1.2v1.2h-1.2zM124.6 105.1h1.2v1.2h-1.2zM124.6 107.9h1.2v1.2h-1.2zM121.9 119.5h1.2v1.2h-1.2zM131.7 116.9h1.2v1.2h-1.2zM135.7 96.2h1.2v1.2h-1.2zM125.3 109.2h1.2v1.2h-1.2zM122.1 122.1h1.2v1.2h-1.2zM139.6 94.9h1.2v1.2h-1.2zM128.2 105.5h1.2v1.2h-1.2zM131.4 108.6h1.2v1.2h-1.2zM131.4 108.7h1.2v1.2h-1.2zM127.3 115.4h1.2v1.2h-1.2zM134.2 113h1.2v1.2h-1.2zM133.2 121.8h1.2v1.2h-1.2zM126 108.1h1.2v1.2h-1.2zM129.8 108h1.2v1.2h-1.2zM130.8 110.9h1.2v1.2h-1.2zM118 110.9h1.2v1.2h-1.2zM130.7 101.4h1.2v1.2h-1.2zM135.5 92.8h1.2v1.2h-1.2zM131 128.9h1.2v1.2h-1.2zM130.4 115.4h1.2v1.2h-1.2zM140.9 88.6h1.2v1.2h-1.2zM125.7 118.3h1.2v1.2h-1.2zM128.7 124.3h1.2v1.2h-1.2zM124.7 101.1h1.2v1.2h-1.2zM135.5 105.1h1.2v1.2h-1.2zM127.3 99.3h1.2v1.2h-1.2zM120.9 112.9h1.2v1.2h-1.2zM127.5 120.8h1.2v1.2h-1.2zM136.5 109.6h1.2v1.2h-1.2zM127.9 104.9h1.2v1.2h-1.2zM134.1 123.9h1.2v1.2h-1.2zM129.3 106.4h1.2v1.2h-1.2zM120.6 116h1.2v1.2h-1.2zM125.2 100.5h1.2v1.2h-1.2zM134.1 103.4h1.2v1.2h-1.2zM118.9 109.2h1.2v1.2h-1.2zM138 106.2h1.2v1.2h-1.2zM119.8 113.9h1.2v1.2h-1.2zM132.6 97.9h1.2v1.2h-1.2zM134.4 115.8h1.2v1.2h-1.2zM130.9 111.3h1.2v1.2h-1.2zM123.8 110.7h1.2v1.2h-1.2zM124.8 104.6h1.2v1.2h-1.2zM121.5 124h1.2v1.2h-1.2zM138.4 98h1.2v1.2h-1.2zM134.6 93.1h1.2v1.2h-1.2zM130.6 112.8h1.2v1.2h-1.2zM130.8 118.1h1.2v1.2h-1.2zM129.4 112.7h1.2v1.2h-1.2zM126.1 115.9h1.2v1.2h-1.2zM130.3 98.4h1.2v1.2h-1.2zM128.9 114.8h1.2v1.2h-1.2zM130.2 99.4h1.2v1.2h-1.2zM117.3 116.7h1.2v1.2h-1.2zM131.6 122.3h1.2v1.2h-1.2zM131.5 109.6h1.2v1.2h-1.2zM133.4 98.3h1.2v1.2h-1.2zM127.4 102.7h1.2v1.2h-1.2zM128.5 124.2h1.2v1.2h-1.2zM132 109.8h1.2v1.2h-1.2zM125.6 117.9h1.2v1.2h-1.2zM129.5 87.7h1.2v1.2h-1.2zM136.7 109.1h1.2v1.2h-1.2zM129.2 110.4h1.2v1.2h-1.2zM128 129.4h1.2v1.2h-1.2zM135.2 114.1h1.2v1.2h-1.2zM126.7 108.3h1.2v1.2h-1.2zM128.8 103.5h1.2v1.2h-1.2zM136.4 115.2h1.2v1.2h-1.2zM132.2 98.9h1.2v1.2h-1.2zM135.7 101.6h1.2v1.2h-1.2zM130.8 102.6h1.2v1.2h-1.2zM131.5 107.9h1.2v1.2h-1.2zM132.5 103.2h1.2v1.2h-1.2zM127.3 113.1h1.2v1.2h-1.2zM124.7 102.2h1.2v1.2h-1.2zM133.3 109.2h1.2v1.2h-1.2zM127.9 106h1.2v1.2h-1.2zM126.3 107.5h1.2v1.2h-1.2zM129.5 98.2h1.2v1.2h-1.2zM118.1 122h1.2v1.2h-1.2zM131 105.5h1.2v1.2h-1.2zM120.6 110.5h1.2v1.2h-1.2zM124 108.2h1.2v1.2h-1.2zM127.4 114.2h1.2v1.2h-1.2zM128.9 115.7h1.2v1.2h-1.2zM124.6 114.3h1.2v1.2h-1.2zM136.6 112.4h1.2v1.2h-1.2zM138.3 94.5h1.2v1.2h-1.2zM127.2 115h1.2v1.2h-1.2zM135.9 100.6h1.2v1.2h-1.2zM124.6 123.3h1.2v1.2h-1.2zM131.4 116.1h1.2v1.2h-1.2zM127.7 101.2h1.2v1.2h-1.2zM133 87.4h1.2v1.2h-1.2zM134.3 84.7h1.2v1.2h-1.2zM139.4 111.6h1.2v1.2h-1.2zM125.1 112.3h1.2v1.2h-1.2zM132.6 94h1.2v1.2h-1.2zM123.3 101.6h1.2v1.2h-1.2zM139.1 92.6h1.2v1.2h-1.2zM133.9 105.7h1.2v1.2h-1.2zM125.2 112h1.2v1.2h-1.2zM127.2 123.4h1.2v1.2h-1.2zM137 97.6h1.2v1.2h-1.2zM135.3 100.4h1.2v1.2h-1.2zM119.5 114.8h1.2v1.2h-1.2zM131.6 102.2h1.2v1.2h-1.2zM130.1 98.3h1.2v1.2h-1.2zM129.3 117h1.2v1.2h-1.2zM118.6 110.9h1.2v1.2h-1.2zM122.7 112.5h1.2v1.2h-1.2zM123.2 117.7h1.2v1.2h-1.2zM131.2 91.1h1.2v1.2h-1.2zM131.6 97.1h1.2v1.2h-1.2zM126.4 103.2h1.2v1.2h-1.2zM119.6 106.2h1.2v1.2h-1.2zM129.4 90h1.2v1.2h-1.2zM127.3 101.6h1.2v1.2h-1.2zM123.3 103.7h1.2v1.2h-1.2zM133.2 112.9h1.2v1.2h-1.2zM119.9 99.5h1.2v1.2h-1.2zM124 98h1.2v1.2h-1.2zM132.7 106.1h1.2v1.2h-1.2zM125.7 113.6h1.2v1.2h-1.2zM130.7 110.9h1.2v1.2h-1.2zM138.9 101.4h1.2v1.2h-1.2zM140.9 107.9h1.2v1.2h-1.2zM136.5 119.6h1.2v1.2h-1.2zM132.7 111.6h1.2v1.2h-1.2zM129.2 109.3h1.2v1.2h-1.2zM128.9 117.3h1.2v1.2h-1.2zM135 89.1h1.2v1.2h-1.2zM129.1 108.2h1.2v1.2h-1.2zM129.8 101h1.2v1.2h-1.2zM130.3 108.4h1.2v1.2h-1.2zM137.6 97.1h1.2v1.2h-1.2zM123 117h1.2v1.2h-1.2zM133.8 109.1h1.2v1.2h-1.2zM130.4 98.6h1.2v1.2h-1.2zM133.6 87.7h1.2v1.2h-1.2zM134.2 93.2h1.2v1.2h-1.2zM122.1 100.3h1.2v1.2h-1.2zM121.2 124h1.2v1.2h-1.2zM136.8 102.8h1.2v1.2h-1.2zM134.6 110.5h1.2v1.2h-1.2zM139 104.8h1.2v1.2h-1.2zM120.5 121.9h1.2v1.2h-1.2zM120.9 115.5h1.2v1.2h-1.2zM128.2 91.1h1.2v1.2h-1.2zM124.8 115.3h1.2v1.2h-1.2zM128.8 99h1.2v1.2h-1.2zM134 101.9h1.2v1.2h-1.2zM114.5 110.6h1.2v1.2h-1.2zM119.9 114.9h1.2v1.2h-1.2zM129.3 91.5h1.2v1.2h-1.2zM128.5 118.7h1.2v1.2h-1.2zM124.1 106.1h1.2v1.2h-1.2zM136.9 99h1.2v1.2h-1.2zM125.6 104.3h1.2v1.2h-1.2zM115.6 113.3h1.2v1.2h-1.2zM132.2 105h1.2v1.2h-1.2zM126.9 116.8h1.2v1.2h-1.2zM131.2 75.3h1.2v1.2h-1.2zM128.1 125.1h1.2v1.2h-1.2zM125.3 111.3h1.2v1.2h-1.2zM129.9 101.9h1.2v1.2h-1.2zM134.4 99.4h1.2v1.2h-1.2zM132.7 97.2h1.2v1.2h-1.2zM131.1 130.5h1.2v1.2h-1.2zM130.5 125.7h1.2v1.2h-1.2zM122.1 103.6h1.2v1.2h-1.2zM134.1 108.7h1.2v1.2h-1.2zM126.7 117.8h1.2v1.2h-1.2zM121.7 113.5h1.2v1.2h-1.2zM134.5 115.7h1.2v1.2h-1.2zM130.7 101.5h1.2v1.2h-1.2zM129.6 109h1.2v1.2h-1.2zM130.8 105.6h1.2v1.2h-1.2zM129.8 125.6h1.2v1.2h-1.2zM112.6 112.3h1.2v1.2h-1.2zM124.2 99.6h1.2v1.2h-1.2zM128.2 109.2h1.2v1.2h-1.2zM130.5 114.4h1.2v1.2h-1.2zM126.8 110.2h1.2v1.2h-1.2zM125.1 116.6h1.2v1.2h-1.2zM126.7 117.9h1.2v1.2h-1.2zM138 97h1.2v1.2h-1.2zM122.6 101.9h1.2v1.2h-1.2zM136.8 99.6h1.2v1.2h-1.2zM121.9 85.1h1.2v1.2h-1.2zM127.3 107.4h1.2v1.2h-1.2zM125.8 96.1h1.2v1.2h-1.2zM120.6 95.6h1.2v1.2h-1.2zM136.7 109.8h1.2v1.2h-1.2zM130.8 114.8h1.2v1.2h-1.2zM121.2 104.9h1.2v1.2h-1.2zM133.7 115.6h1.2v1.2h-1.2zM128.8 95.9h1.2v1.2h-1.2zM128 96.3h1.2v1.2h-1.2zM129.6 105.6h1.2v1.2h-1.2zM127.7 120.3h1.2v1.2h-1.2zM112.9 107.6h1.2v1.2h-1.2zM122.3 114.6h1.2v1.2h-1.2zM121.5 114.5h1.2v1.2h-1.2zM113.8 110.9h1.2v1.2h-1.2zM131.7 99.7h1.2v1.2h-1.2zM128.2 105.2h1.2v1.2h-1.2zM127.8 107h1.2v1.2h-1.2zM117.9 116.1h1.2v1.2h-1.2zM134.9 108.8h1.2v1.2h-1.2zM138.6 108.2h1.2v1.2h-1.2zM124.1 120.6h1.2v1.2h-1.2zM134.3 115.7h1.2v1.2h-1.2zM130.5 91.1h1.2v1.2h-1.2zM129.6 100.7h1.2v1.2h-1.2zM125.9 117.3h1.2v1.2h-1.2zM135 120.2h1.2v1.2h-1.2zM137.1 104.2h1.2v1.2h-1.2zM116.5 101h1.2v1.2h-1.2zM131.6 100.5h1.2v1.2h-1.2zM123.5 130.8h1.2v1.2h-1.2zM130.8 118.9h1.2v1.2h-1.2zM128.9 104.6h1.2v1.2h-1.2zM131.2 111.5h1.2v1.2h-1.2zM134.1 103.5h1.2v1.2h-1.2zM120.7 109.9h1.2v1.2h-1.2zM139.6 97.4h1.2v1.2h-1.2zM127.4 113.3h1.2v1.2h-1.2zM121.3 97.7h1.2v1.2h-1.2zM125.8 104.4h1.2v1.2h-1.2zM134.3 88.6h1.2v1.2h-1.2zM127.2 105.4h1.2v1.2h-1.2zM119.5 103.6h1.2v1.2h-1.2zM117.6 118h1.2v1.2h-1.2zM130.8 99.3h1.2v1.2h-1.2zM120.7 94h1.2v1.2h-1.2zM135.6 115.9h1.2v1.2h-1.2zM116.7 112.8h1.2v1.2h-1.2zM125.2 114.6h1.2v1.2h-1.2zM136.2 110.1h1.2v1.2h-1.2zM127.7 101.7h1.2v1.2h-1.2zM119.5 110.5h1.2v1.2h-1.2zM139.2 97.8h1.2v1.2h-1.2zM124.3 105.8h1.2v1.2h-1.2zM133.4 102.3h1.2v1.2h-1.2zM123 104.8h1.2v1.2h-1.2zM126.5 104.9h1.2v1.2h-1.2zM134.2 101.9h1.2v1.2h-1.2zM127.8 103.2h1.2v1.2h-1.2zM137.2 94.7h1.2v1.2h-1.2zM136.9 97.2h1.2v1.2h-1.2zM132.9 102.3h1.2v1.2h-1.2zM116.2 115.4h1.2v1.2h-1.2zM130 117.8h1.2v1.2h-1.2zM132.3 99.6h1.2v1.2h-1.2zM139.4 109.9h1.2v1.2h-1.2zM118.1 109.1h1.2v1.2h-1.2zM123.3 122.2h1.2v1.2h-1.2zM134.9 102.5h1.2v1.2h-1.2zM133 111.3h1.2v1.2h-1.2zM124.9 107.4h1.2v1.2h-1.2zM132.2 112.7h1.2v1.2h-1.2zM125.2 97.3h1.2v1.2h-1.2zM127.2 117.6h1.2v1.2h-1.2zM127.9 86.1h1.2v1.2h-1.2zM128.2 120.5h1.2v1.2h-1.2zM126.9 102.3h1.2v1.2h-1.2zM131.6 109h1.2v1.2h-1.2zM124.4 124.5h1.2v1.2h-1.2zM135.7 103.7h1.2v1.2h-1.2zM131.6 96.8h1.2v1.2h-1.2zM132.8 123.7h1.2v1.2h-1.2zM127.4 99.7h1.2v1.2h-1.2zM137.4 99.7h1.2v1.2h-1.2zM115.5 105.8h1.2v1.2h-1.2zM123.6 111.3h1.2v1.2h-1.2zM126.4 115.8h1.2v1.2h-1.2zM128.4 118.8h1.2v1.2h-1.2zM127.2 88.3h1.2v1.2h-1.2zM128.7 97.4h1.2v1.2h-1.2zM129.7 102.7h1.2v1.2h-1.2zM128.3 94.8h1.2v1.2h-1.2zM126.6 99.9h1.2v1.2h-1.2zM129.5 105.8h1.2v1.2h-1.2zM123 95.3h1.2v1.2h-1.2zM133.3 122.8h1.2v1.2h-1.2zM139.4 106.9h1.2v1.2h-1.2zM127.6 118.1h1.2v1.2h-1.2zM138.2 122.5h1.2v1.2h-1.2zM139.9 111h1.2v1.2h-1.2zM125.9 86.6h1.2v1.2h-1.2zM125.1 59.3h1.2v1.2h-1.2zM134.6 109.8h1.2v1.2h-1.2zM135.1 67.5h1.2v1.2h-1.2zM138.4 56.4h1.2v1.2h-1.2zM145.2 94.8h1.2v1.2h-1.2zM146.5 77.2h1.2v1.2h-1.2zM145 98.5h1.2v1.2h-1.2zM129.7 113.6h1.2v1.2h-1.2zM135.6 94.8h1.2v1.2h-1.2zM135.3 125.6h1.2v1.2h-1.2zM125.3 122.9h1.2v1.2h-1.2zM128.8 101.5h1.2v1.2h-1.2zM120.3 121.4h1.2v1.2h-1.2zM151.6 52.8h1.2v1.2h-1.2zM126.1 119.4h1.2v1.2h-1.2zM123.6 118.4h1.2v1.2h-1.2zM117.9 126.1h1.2v1.2h-1.2zM131.8 89.2h1.2v1.2h-1.2zM116.7 125.5h1.2v1.2h-1.2zM122.1 116.8h1.2v1.2h-1.2zM140.6 92.9h1.2v1.2h-1.2zM121.4 115.1h1.2v1.2h-1.2zM148.2 81.1h1.2v1.2h-1.2zM127.8 126.7h1.2v1.2h-1.2zM127 73.1h1.2v1.2h-1.2zM140.7 47.5h1.2v1.2h-1.2zM120.8 94h1.2v1.2h-1.2zM124.1 129h1.2v1.2h-1.2zM125.5 103.5h1.2v1.2h-1.2zM125.1 128.2h1.2v1.2h-1.2zM145.1 130h1.2v1.2h-1.2zM139.5 91h1.2v1.2h-1.2zM125.7 63.9h1.2v1.2h-1.2zM137.3 121h1.2v1.2h-1.2zM128.7 127.5h1.2v1.2h-1.2zM124.1 127.7h1.2v1.2h-1.2zM138 93.8h1.2v1.2h-1.2zM131.2 108.4h1.2v1.2h-1.2zM126.8 108.4h1.2v1.2h-1.2zM142.2 69.2h1.2v1.2h-1.2zM131.6 118.3h1.2v1.2h-1.2zM125.1 106h1.2v1.2h-1.2zM130.7 109.2h1.2v1.2h-1.2zM133 126.9h1.2v1.2h-1.2zM129.1 124h1.2v1.2h-1.2zM142.6 54.8h1.2v1.2h-1.2zM117.8 94.6h1.2v1.2h-1.2zM124.1 117.9h1.2v1.2h-1.2zM123.1 103.5h1.2v1.2h-1.2zM139.8 121.4h1.2v1.2h-1.2zM135 83.6h1.2v1.2h-1.2zM136.1 123.4h1.2v1.2h-1.2zM120.8 88.6h1.2v1.2h-1.2zM123.9 104.8h1.2v1.2h-1.2zM122.7 98h1.2v1.2h-1.2zM120 109.2h1.2v1.2h-1.2zM131.6 122.8h1.2v1.2h-1.2zM127.4 111h1.2v1.2h-1.2zM133.4 113h1.2v1.2h-1.2zM129.2 127.8h1.2v1.2h-1.2zM133.4 112.2h1.2v1.2h-1.2zM131.2 115.4h1.2v1.2h-1.2zM134.4 71.9h1.2v1.2h-1.2zM133.2 110.5h1.2v1.2h-1.2zM131.4 66.8h1.2v1.2h-1.2zM116.1 119h1.2v1.2h-1.2zM134.6 109.6h1.2v1.2h-1.2zM120.3 85.7h1.2v1.2h-1.2zM116.4 121h1.2v1.2h-1.2zM135.1 92.4h1.2v1.2h-1.2zM125.1 126.2h1.2v1.2h-1.2zM125.7 81.3h1.2v1.2h-1.2zM132.1 68.4h1.2v1.2h-1.2zM124 123.8h1.2v1.2h-1.2zM123.6 122.2h1.2v1.2h-1.2zM134.7 124.6h1.2v1.2h-1.2zM140.1 103.7h1.2v1.2h-1.2zM150.9 82.6h1.2v1.2h-1.2zM122.9 120.4h1.2v1.2h-1.2zM127.1 116.5h1.2v1.2h-1.2zM122.1 111.9h1.2v1.2h-1.2zM130.5 117.2h1.2v1.2h-1.2zM138.1 105.9h1.2v1.2h-1.2zM126 102.8h1.2v1.2h-1.2zM125.8 118.8h1.2v1.2h-1.2zM141.6 86.5h1.2v1.2h-1.2zM127.7 112.8h1.2v1.2h-1.2zM132.4 122.8h1.2v1.2h-1.2zM137.6 114.8h1.2v1.2h-1.2zM131.3 112.2h1.2v1.2h-1.2zM128.9 88.1h1.2v1.2h-1.2zM173.6 57.7h1.2v1.2h-1.2zM123.7 106.8h1.2v1.2h-1.2zM141 121.3h1.2v1.2h-1.2zM121.4 115.1h1.2v1.2h-1.2zM136.4 107.6h1.2v1.2h-1.2zM120.7 115.9h1.2v1.2h-1.2zM120.3 127.5h1.2v1.2h-1.2zM132.8 126h1.2v1.2h-1.2zM133.3 78.8h1.2v1.2h-1.2zM134.9 119.8h1.2v1.2h-1.2zM116.2 116.9h1.2v1.2h-1.2zM124.4 96.5h1.2v1.2h-1.2zM129.3 125.5h1.2v1.2h-1.2zM126.5 117h1.2v1.2h-1.2zM134.7 102.6h1.2v1.2h-1.2zM137 89h1.2v1.2h-1.2zM125.9 120.2h1.2v1.2h-1.2zM147.8 96.8h1.2v1.2h-1.2zM132.3 119.1h1.2v1.2h-1.2zM133.7 84.8h1.2v1.2h-1.2zM140.5 96.1h1.2v1.2h-1.2zM127.7 125.9h1.2v1.2h-1.2zM136.9 101.2h1.2v1.2h-1.2zM127.8 113.2h1.2v1.2h-1.2zM120.6 121.5h1.2v1.2h-1.2zM146.6 109.5h1.2v1.2h-1.2zM132.9 125.3h1.2v1.2h-1.2zM132.7 106.2h1.2v1.2h-1.2zM127.3 93.4h1.2v1.2h-1.2zM126.5 127h1.2v1.2h-1.2zM137.7 118.7h1.2v1.2h-1.2zM141.2 86.7h1.2v1.2h-1.2zM132.2 75h1.2v1.2h-1.2zM124.1 96.3h1.2v1.2h-1.2zM122.9 122.6h1.2v1.2h-1.2zM134.6 124.8h1.2v1.2h-1.2zM134.3 122.8h1.2v1.2h-1.2zM140.3 103.6h1.2v1.2h-1.2zM142.6 123.8h1.2v1.2h-1.2zM128.6 75h1.2v1.2h-1.2zM120.5 107.2h1.2v1.2h-1.2zM131.4 124.5h1.2v1.2h-1.2zM148.2 69.8h1.2v1.2h-1.2zM139.3 108.5h1.2v1.2h-1.2zM115.3 85h1.2v1.2h-1.2zM139.8 119h1.2v1.2h-1.2zM139.6 94.4h1.2v1.2h-1.2zM121.2 124.2h1.2v1.2h-1.2zM143.6 81h1.2v1.2h-1.2zM113.6 108h1.2v1.2h-1.2zM122.2 115.4h1.2v1.2h-1.2zM123.5 73.4h1.2v1.2h-1.2zM146 115.1h1.2v1.2h-1.2zM139.6 83.1h1.2v1.2h-1.2zM128.1 122.4h1.2v1.2h-1.2zM133.4 80.2h1.2v1.2h-1.2zM137.2 104.9h1.2v1.2h-1.2zM126.4 126h1.2v1.2h-1.2zM119 122.9h1.2v1.2h-1.2zM113.5 81.3h1.2v1.2h-1.2zM128.1 127.6h1.2v1.2h-1.2zM145.1 87.3h1.2v1.2h-1.2zM145 88.3h1.2v1.2h-1.2zM127.3 64.1h1.2v1.2h-1.2zM151.6 109.3h1.2v1.2h-1.2zM127.4 85.2h1.2v1.2h-1.2zM135.5 88.9h1.2v1.2h-1.2zM121.6 117.2h1.2v1.2h-1.2zM124.8 108.9h1.2v1.2h-1.2zM131 107.3h1.2v1.2h-1.2zM125.8 64.7h1.2v1.2h-1.2zM144.9 76.3h1.2v1.2h-1.2zM125.5 94h1.2v1.2h-1.2zM134 99.8h1.2v1.2h-1.2zM125.2 124.6h1.2v1.2h-1.2zM130 119.1h1.2v1.2h-1.2zM126.7 62.7h1.2v1.2h-1.2zM140.8 111h1.2v1.2h-1.2zM126.6 119.9h1.2v1.2h-1.2zM130.6 92.4h1.2v1.2h-1.2zM131.3 123.9h1.2v1.2h-1.2zM128.9 115.6h1.2v1.2h-1.2zM130.4 121.1h1.2v1.2h-1.2zM132.4 120.9h1.2v1.2h-1.2zM120.5 117.2h1.2v1.2h-1.2zM145.7 102.1h1.2v1.2h-1.2zM123.1 95.3h1.2v1.2h-1.2zM132.9 110.7h1.2v1.2h-1.2zM127.1 109.9h1.2v1.2h-1.2zM122.6 75.7h1.2v1.2h-1.2zM136.4 80.2h1.2v1.2h-1.2zM107.1 118.9h1.2v1.2h-1.2zM128.4 126.1h1.2v1.2h-1.2zM127.4 115.5h1.2v1.2h-1.2zM156.7 74.9h1.2v1.2h-1.2zM134.1 116.6h1.2v1.2h-1.2zM129.1 103.6h1.2v1.2h-1.2zM106.9 105.9h1.2v1.2h-1.2zM148.6 52.8h1.2v1.2h-1.2zM129.6 107.9h1.2v1.2h-1.2zM125.8 128.4h1.2v1.2h-1.2zM140.3 104h1.2v1.2h-1.2zM132.7 55.8h1.2v1.2h-1.2zM127.7 119.9h1.2v1.2h-1.2zM128.1 114.2h1.2v1.2h-1.2zM126.9 114.4h1.2v1.2h-1.2zM130.2 93.5h1.2v1.2h-1.2zM148.2 60.2h1.2v1.2h-1.2zM132.1 116.5h1.2v1.2h-1.2zM140.2 80.9h1.2v1.2h-1.2zM138.6 54.6h1.2v1.2h-1.2zM129.6 110.2h1.2v1.2h-1.2zM125.2 98.2h1.2v1.2h-1.2zM126.9 105.9h1.2v1.2h-1.2zM139.4 75.7h1.2v1.2h-1.2zM147.4 106.4h1.2v1.2h-1.2zM138.1 112.6h1.2v1.2h-1.2zM132.3 103.1h1.2v1.2h-1.2zM124.3 125.1h1.2v1.2h-1.2zM114.9 120.9h1.2v1.2h-1.2zM139.2 69h1.2v1.2h-1.2zM129.1 88h1.2v1.2h-1.2zM129.8 126.5h1.2v1.2h-1.2zM131.2 104.5h1.2v1.2h-1.2zM124.7 125.6h1.2v1.2h-1.2zM136.9 117h1.2v1.2h-1.2zM137.6 116.5h1.2v1.2h-1.2zM135 121.2h1.2v1.2h-1.2zM124.7 117.4h1.2v1.2h-1.2zM122.4 123.9h1.2v1.2h-1.2zM152.2 60.7h1.2v1.2h-1.2zM136.6 96.8h1.2v1.2h-1.2zM122.2 101.9h1.2v1.2h-1.2zM120.3 109.5h1.2v1.2h-1.2zM138.6 113.4h1.2v1.2h-1.2zM114.6 109.8h1.2v1.2h-1.2zM137 105h1.2v1.2h-1.2zM125.7 100.4h1.2v1.2h-1.2zM133.3 97.1h1.2v1.2h-1.2zM148.6 48.7h1.2v1.2h-1.2zM147.3 72.7h1.2v1.2h-1.2zM135.5 125.5h1.2v1.2h-1.2zM117.9 87.9h1.2v1.2h-1.2zM133.1 97.9h1.2v1.2h-1.2zM128.4 126.6h1.2v1.2h-1.2zM127 106.7h1.2v1.2h-1.2zM151.4 71.1h1.2v1.2h-1.2zM123 114.4h1.2v1.2h-1.2zM128.4 119.6h1.2v1.2h-1.2zM143.1 118.7h1.2v1.2h-1.2zM132.6 110h1.2v1.2h-1.2zM128.2 102.2h1.2v1.2h-1.2zM142.8 84.8h1.2v1.2h-1.2zM139.6 108.6h1.2v1.2h-1.2zM130.4 60.6h1.2v1.2h-1.2zM135.5 94.9h1.2v1.2h-1.2zM123.2 77.8h1.2v1.2h-1.2zM146.7 117.3h1.2v1.2h-1.2zM132.3 108.3h1.2v1.2h-1.2zM138.6 119.9h1.2v1.2h-1.2zM138.2 63.5h1.2v1.2h-1.2zM138.6 114.9h1.2v1.2h-1.2zM118.1 82.8h1.2v1.2h-1.2zM128.4 125.1h1.2v1.2h-1.2zM125.4 77.7h1.2v1.2h-1.2zM125.9 121.1h1.2v1.2h-1.2zM129.7 121.4h1.2v1.2h-1.2zM115.8 113.5h1.2v1.2h-1.2zM130.6 106.5h1.2v1.2h-1.2zM139.4 56.2h1.2v1.2h-1.2zM143 89.8h1.2v1.2h-1.2zM129.4 117h1.2v1.2h-1.2zM150.6 115.8h1.2v1.2h-1.2zM121.2 108.5h1.2v1.2h-1.2zM143.6 86.9h1.2v1.2h-1.2zM114.9 89.3h1.2v1.2h-1.2zM119 119.2h1.2v1.2h-1.2zM137.9 102.8h1.2v1.2h-1.2zM131.4 126.9h1.2v1.2h-1.2zM131.6 126.6h1.2v1.2h-1.2zM129.7 90.9h1.2v1.2h-1.2zM122.1 93.5h1.2v1.2h-1.2zM125.8 119.5h1.2v1.2h-1.2zM141.3 121.1h1.2v1.2h-1.2zM130.2 101.2h1.2v1.2h-1.2zM128.9 119h1.2v1.2h-1.2zM127.1 116.4h1.2v1.2h-1.2zM131.7 59.6h1.2v1.2h-1.2zM123.7 104h1.2v1.2h-1.2zM126 130.6h1.2v1.2h-1.2zM131.5 125.1h1.2v1.2h-1.2zM134.2 98.5h1.2v1.2h-1.2zM131.2 110.3h1.2v1.2h-1.2zM130.4 114.7h1.2v1.2h-1.2zM135.7 119.7h1.2v1.2h-1.2zM135.7 112.3h1.2v1.2h-1.2zM117.8 128.7h1.2v1.2h-1.2zM131 110.3h1.2v1.2h-1.2zM141.1 63.2h1.2v1.2h-1.2zM132.7 81.2h1.2v1.2h-1.2zM129.4 108.1h1.2v1.2h-1.2zM121.6 115.7h1.2v1.2h-1.2zM126.4 99.5h1.2v1.2h-1.2zM129.2 128.9h1.2v1.2h-1.2zM135 73.1h1.2v1.2h-1.2zM142.9 88.1h1.2v1.2h-1.2zM118 123.6h1.2v1.2h-1.2zM153.2 76h1.2v1.2h-1.2zM123.9 117.7h1.2v1.2h-1.2zM131.2 120.1h1.2v1.2h-1.2zM140.5 84.3h1.2v1.2h-1.2zM120.7 117.6h1.2v1.2h-1.2zM119.9 108.9h1.2v1.2h-1.2zM127.7 120.6h1.2v1.2h-1.2zM131.3 120.7h1.2v1.2h-1.2zM122.1 117.7h1.2v1.2h-1.2zM137.4 125.8h1.2v1.2h-1.2zM131.9 107.8h1.2v1.2h-1.2zM129.6 104.4h1.2v1.2h-1.2zM148.2 87.1h1.2v1.2h-1.2zM148.6 105.2h1.2v1.2h-1.2zM134.7 112.4h1.2v1.2h-1.2zM135.2 79.9h1.2v1.2h-1.2zM119.4 106.2h1.2v1.2h-1.2zM147.1 88.9h1.2v1.2h-1.2zM144.5 112.3h1.2v1.2h-1.2zM120.3 120.6h1.2v1.2h-1.2zM117.7 112h1.2v1.2h-1.2zM150.7 83.3h1.2v1.2h-1.2zM127.6 110.6h1.2v1.2h-1.2zM131.2 117.4h1.2v1.2h-1.2zM135.1 106.7h1.2v1.2h-1.2zM133 110.5h1.2v1.2h-1.2zM138.3 110.7h1.2v1.2h-1.2zM134.2 106.5h1.2v1.2h-1.2zM120.8 123.8h1.2v1.2h-1.2zM134.5 118.1h1.2v1.2h-1.2zM135 87.8h1.2v1.2h-1.2zM131.1 128.5h1.2v1.2h-1.2zM134.4 114.1h1.2v1.2h-1.2zM120.8 108.6h1.2v1.2h-1.2zM123.1 97.3h1.2v1.2h-1.2zM133.9 120.4h1.2v1.2h-1.2zM129.8 106.4h1.2v1.2h-1.2zM144.3 88.7h1.2v1.2h-1.2zM125.6 120h1.2v1.2h-1.2zM125.8 119.9h1.2v1.2h-1.2zM130.8 115.1h1.2v1.2h-1.2zM140.6 125.3h1.2v1.2h-1.2zM134.3 123.6h1.2v1.2h-1.2zM129.2 93.7h1.2v1.2h-1.2zM154.9 65.3h1.2v1.2h-1.2zM124.7 111.7h1.2v1.2h-1.2zM136.2 120.8h1.2v1.2h-1.2zM140.2 128.2h1.2v1.2h-1.2zM128 105h1.2v1.2h-1.2zM131.6 109.2h1.2v1.2h-1.2zM123.3 121.7h1.2v1.2h-1.2zM120.4 106h1.2v1.2h-1.2zM137.6 105.9h1.2v1.2h-1.2zM132.4 123.1h1.2v1.2h-1.2zM126.4 106.7h1.2v1.2h-1.2zM140.9 111.9h1.2v1.2h-1.2zM146.4 105.6h1.2v1.2h-1.2zM124.4 54.5h1.2v1.2h-1.2zM132.9 124.8h1.2v1.2h-1.2zM112.5 119.7h1.2v1.2h-1.2zM127.5 119.9h1.2v1.2h-1.2zM140.1 66.6h1.2v1.2h-1.2zM129 108.5h1.2v1.2h-1.2zM149.6 121.5h1.2v1.2h-1.2zM125.5 127.2h1.2v1.2h-1.2zM144.7 86.6h1.2v1.2h-1.2zM125 121.8h1.2v1.2h-1.2zM129.2 127.2h1.2v1.2h-1.2zM128.7 115.8h1.2v1.2h-1.2zM136.3 94.9h1.2v1.2h-1.2zM137.9 108.2h1.2v1.2h-1.2zM144.1 110.3h1.2v1.2h-1.2zM136.4 96h1.2v1.2h-1.2zM137.8 126.3h1.2v1.2h-1.2zM151.2 74.6h1.2v1.2h-1.2zM140.2 83.4h1.2v1.2h-1.2zM136.2 103.5h1.2v1.2h-1.2zM121.7 122.5h1.2v1.2h-1.2zM137.4 74.2h1.2v1.2h-1.2zM144.2 119.3h1.2v1.2h-1.2zM113.2 125.6h1.2v1.2h-1.2zM131 105h1.2v1.2h-1.2zM122.2 100.2h1.2v1.2h-1.2zM135.1 108.7h1.2v1.2h-1.2zM134.9 99.3h1.2v1.2h-1.2zM119.8 120.6h1.2v1.2h-1.2zM127.4 117.7h1.2v1.2h-1.2zM122.9 117.8h1.2v1.2h-1.2zM134 113.5h1.2v1.2h-1.2zM143.4 100.7h1.2v1.2h-1.2zM131.5 114.9h1.2v1.2h-1.2zM127.3 126.1h1.2v1.2h-1.2zM123.1 103.4h1.2v1.2h-1.2zM139.2 100.2h1.2v1.2h-1.2zM129.9 107.2h1.2v1.2h-1.2zM134.8 86.5h1.2v1.2h-1.2zM115 121.6h1.2v1.2h-1.2zM146.2 51h1.2v1.2h-1.2zM135.2 103.3h1.2v1.2h-1.2zM141.7 95.7h1.2v1.2h-1.2zM140.7 97h1.2v1.2h-1.2zM123.1 84.4h1.2v1.2h-1.2zM133.5 125.2h1.2v1.2h-1.2zM120.6 125.9h1.2v1.2h-1.2zM131.3 53.4h1.2v1.2h-1.2zM129.9 109.3h1.2v1.2h-1.2zM126.9 112.3h1.2v1.2h-1.2zM131.2 127.3h1.2v1.2h-1.2zM131.8 99.3h1.2v1.2h-1.2zM135.4 55.6h1.2v1.2h-1.2zM118.6 126.5h1.2v1.2h-1.2zM132.8 98.4h1.2v1.2h-1.2zM120.9 112.4h1.2v1.2h-1.2zM138.6 129.1h1.2v1.2h-1.2zM143 107.4h1.2v1.2h-1.2zM127.3 57.9h1.2v1.2h-1.2zM141.7 83.9h1.2v1.2h-1.2zM140.6 81.6h1.2v1.2h-1.2zM136.2 72.4h1.2v1.2h-1.2zM121.6 122.7h1.2v1.2h-1.2zM129.4 101.9h1.2v1.2h-1.2zM138.9 104.8h1.2v1.2h-1.2zM128.8 123.1h1.2v1.2h-1.2zM117.1 96.5h1.2v1.2h-1.2zM143.9 90.3h1.2v1.2h-1.2zM127.5 107.9h1.2v1.2h-1.2zM123.7 125.4h1.2v1.2h-1.2zM125.6 108h1.2v1.2h-1.2zM119 115.8h1.2v1.2h-1.2zM139.1 110.7h1.2v1.2h-1.2zM139.3 93.4h1.2v1.2h-1.2zM128.2 109.4h1.2v1.2h-1.2zM128 120.4h1.2v1.2h-1.2zM138.9 86.9h1.2v1.2h-1.2zM120.3 111.3h1.2v1.2h-1.2zM118.3 126h1.2v1.2h-1.2zM122.1 108.9h1.2v1.2h-1.2zM124.8 122.1h1.2v1.2h-1.2zM121.3 118.9h1.2v1.2h-1.2zM121.6 107.8h1.2v1.2h-1.2zM129.4 114.3h1.2v1.2h-1.2zM136 120.8h1.2v1.2h-1.2zM133.7 61.5h1.2v1.2h-1.2zM156.4 74h1.2v1.2h-1.2zM123.6 96.9h1.2v1.2h-1.2zM120.8 120.3h1.2v1.2h-1.2zM128.2 89.5h1.2v1.2h-1.2zM132.6 113h1.2v1.2h-1.2zM126 69.7h1.2v1.2h-1.2zM129.2 106.6h1.2v1.2h-1.2zM120.7 115h1.2v1.2h-1.2zM136.9 108.9h1.2v1.2h-1.2zM151.3 95.4h1.2v1.2h-1.2zM137.4 64.9h1.2v1.2h-1.2zM136 109.1h1.2v1.2h-1.2zM127.7 122.1h1.2v1.2h-1.2zM140.7 87.4h1.2v1.2h-1.2zM148.7 56.6h1.2v1.2h-1.2zM148.4 77.7h1.2v1.2h-1.2zM138.8 98h1.2v1.2h-1.2zM129.2 99.1h1.2v1.2h-1.2zM140.1 65.5h1.2v1.2h-1.2zM123.3 85h1.2v1.2h-1.2zM134.9 128.7h1.2v1.2h-1.2zM133.4 111.5h1.2v1.2h-1.2zM126.6 121.6h1.2v1.2h-1.2zM126.6 105.2h1.2v1.2h-1.2zM131 91.3h1.2v1.2h-1.2zM130.1 87h1.2v1.2h-1.2zM117.6 107.3h1.2v1.2h-1.2zM127.5 100.1h1.2v1.2h-1.2zM143.3 115.2h1.2v1.2h-1.2zM166.1 84.7h1.2v1.2h-1.2zM130.2 127.6h1.2v1.2h-1.2zM125.8 127.1h1.2v1.2h-1.2zM122.2 115.5h1.2v1.2h-1.2zM136.2 98.9h1.2v1.2h-1.2zM127.7 117.3h1.2v1.2h-1.2zM135.2 124.9h1.2v1.2h-1.2zM137 83.2h1.2v1.2h-1.2zM160.9 54.4h1.2v1.2h-1.2zM124.5 126.2h1.2v1.2h-1.2zM135 117.4h1.2v1.2h-1.2zM134.4 110.9h1.2v1.2h-1.2zM151.7 106.9h1.2v1.2h-1.2zM135.5 123.4h1.2v1.2h-1.2zM127.5 115.9h1.2v1.2h-1.2zM149.1 94.5h1.2v1.2h-1.2zM132 116.9h1.2v1.2h-1.2zM143.8 106.5h1.2v1.2h-1.2zM123.7 113h1.2v1.2h-1.2zM126 108.9h1.2v1.2h-1.2zM134.4 98.2h1.2v1.2h-1.2zM131.8 125.3h1.2v1.2h-1.2zM122.8 121.7h1.2v1.2h-1.2zM148.2 62.1h1.2v1.2h-1.2zM137.3 123.8h1.2v1.2h-1.2zM147.7 104.1h1.2v1.2h-1.2zM138.6 95h1.2v1.2h-1.2zM134.3 97.8h1.2v1.2h-1.2zM127.2 116.8h1.2v1.2h-1.2zM140.8 102h1.2v1.2h-1.2zM145.1 71.7h1.2v1.2h-1.2zM136.9 108.1h1.2v1.2h-1.2zM120.2 123.5h1.2v1.2h-1.2zM130.6 73.3h1.2v1.2h-1.2zM141.6 130.1h1.2v1.2h-1.2zM127.5 69.2h1.2v1.2h-1.2zM132.4 111.4h1.2v1.2h-1.2zM135.8 105.9h1.2v1.2h-1.2zM127.5 68.7h1.2v1.2h-1.2zM126.4 117.3h1.2v1.2h-1.2zM151.1 79.4h1.2v1.2h-1.2zM134.7 105.3h1.2v1.2h-1.2zM128.6 106.8h1.2v1.2h-1.2zM134.5 122.2h1.2v1.2h-1.2zM150 83.4h1.2v1.2h-1.2zM133.1 129.1h1.2v1.2h-1.2zM137.1 110.3h1.2v1.2h-1.2zM151.8 48.4h1.2v1.2h-1.2zM130.1 112.5h1.2v1.2h-1.2zM133.2 67.4h1.2v1.2h-1.2zM145.7 120.1h1.2v1.2h-1.2zM146.7 75.7h1.2v1.2h-1.2zM133.6 105.9h1.2v1.2h-1.2zM144.8 92.2h1.2v1.2h-1.2zM128.2 128.4h1.2v1.2h-1.2zM114.6 95.2h1.2v1.2h-1.2zM132.7 97.9h1.2v1.2h-1.2zM129 109.7h1.2v1.2h-1.2zM137.6 77.1h1.2v1.2h-1.2zM134.9 115.3h1.2v1.2h-1.2zM124.3 120.9h1.2v1.2h-1.2zM123.4 93.9h1.2v1.2h-1.2zM122.2 117.7h1.2v1.2h-1.2zM121.3 67.1h1.2v1.2h-1.2zM151.3 102.4h1.2v1.2h-1.2zM163 43.7h1.2v1.2h-1.2zM119.1 98h1.2v1.2h-1.2zM139.5 109.1h1.2v1.2h-1.2zM128.2 95.6h1.2v1.2h-1.2zM128.3 128.8h1.2v1.2h-1.2zM125.4 125.5h1.2v1.2h-1.2zM144.2 69h1.2v1.2h-1.2zM125.5 88.6h1.2v1.2h-1.2zM125 99.5h1.2v1.2h-1.2zM128.7 106.8h1.2v1.2h-1.2zM126.5 113h1.2v1.2h-1.2zM126.5 97.7h1.2v1.2h-1.2zM134.5 105.9h1.2v1.2h-1.2zM124.4 122.3h1.2v1.2h-1.2zM154.3 73.4h1.2v1.2h-1.2zM138.3 79.5h1.2v1.2h-1.2zM136.2 121.4h1.2v1.2h-1.2zM136.6 90.9h1.2v1.2h-1.2zM144.8 71h1.2v1.2h-1.2zM130 118.7h1.2v1.2h-1.2zM121.9 114.7h1.2v1.2h-1.2zM126.2 128.9h1.2v1.2h-1.2zM130 107.2h1.2v1.2h-1.2zM131.8 126.4h1.2v1.2h-1.2zM136.7 74.8h1.2v1.2h-1.2zM128.8 118.3h1.2v1.2h-1.2zM124.6 119.2h1.2v1.2h-1.2zM126.7 120.1h1.2v1.2h-1.2zM128.2 107.3h1.2v1.2h-1.2zM144.7 105.1h1.2v1.2h-1.2zM125.7 103.3h1.2v1.2h-1.2zM139.1 123.3h1.2v1.2h-1.2zM139.9 83.4h1.2v1.2h-1.2zM132.3 115.8h1.2v1.2h-1.2zM116.9 105.2h1.2v1.2h-1.2zM124.1 117.9h1.2v1.2h-1.2zM128.4 108h1.2v1.2h-1.2zM124.7 123.4h1.2v1.2h-1.2zM111.1 120.2h1.2v1.2h-1.2zM129.1 115.8h1.2v1.2h-1.2zM131.4 124.3h1.2v1.2h-1.2zM127.5 123.1h1.2v1.2h-1.2zM130.5 123.9h1.2v1.2h-1.2zM141.8 109h1.2v1.2h-1.2zM127.4 112h1.2v1.2h-1.2zM120.7 125.6h1.2v1.2h-1.2zM130.8 104.1h1.2v1.2h-1.2zM134.5 117.5h1.2v1.2h-1.2zM145.8 100.5h1.2v1.2h-1.2zM128.5 104.7h1.2v1.2h-1.2zM136.2 73.9h1.2v1.2h-1.2zM121.6 120h1.2v1.2h-1.2zM131.2 91.9h1.2v1.2h-1.2zM127.9 118.1h1.2v1.2h-1.2zM128.5 98.1h1.2v1.2h-1.2zM130.8 115.3h1.2v1.2h-1.2zM139.6 91.3h1.2v1.2h-1.2zM125.9 118.7h1.2v1.2h-1.2zM144.4 122h1.2v1.2h-1.2zM120.9 117.3h1.2v1.2h-1.2zM128.7 119.1h1.2v1.2h-1.2zM136.6 52.8h1.2v1.2h-1.2zM131.5 105.5h1.2v1.2h-1.2zM123.4 120.3h1.2v1.2h-1.2zM114.4 127.2h1.2v1.2h-1.2zM114.4 117.2h1.2v1.2h-1.2zM147.4 71.5h1.2v1.2h-1.2zM118 120.8h1.2v1.2h-1.2zM122 112.9h1.2v1.2h-1.2zM118.8 104.2h1.2v1.2h-1.2zM130.1 112.1h1.2v1.2h-1.2zM143.1 121.1h1.2v1.2h-1.2zM121.3 75.5h1.2v1.2h-1.2zM125.5 106.3h1.2v1.2h-1.2zM134 124.1h1.2v1.2h-1.2zM129.3 121h1.2v1.2h-1.2zM127.2 120h1.2v1.2h-1.2zM115.9 84.5h1.2v1.2h-1.2zM125.9 121.1h1.2v1.2h-1.2zM127.4 113.2h1.2v1.2h-1.2zM133.8 96.5h1.2v1.2h-1.2zM137.8 121.7h1.2v1.2h-1.2zM125.9 122.2h1.2v1.2h-1.2zM122.3 121.8h1.2v1.2h-1.2zM138.6 109.8h1.2v1.2h-1.2zM127.7 83.2h1.2v1.2h-1.2zM134.6 117.4h1.2v1.2h-1.2zM132.2 90h1.2v1.2h-1.2zM129.1 120.1h1.2v1.2h-1.2zM128.9 126h1.2v1.2h-1.2zM152.2 68.9h1.2v1.2h-1.2zM147.1 83.5h1.2v1.2h-1.2zM148.2 98.3h1.2v1.2h-1.2zM127.2 120.9h1.2v1.2h-1.2zM141 112h1.2v1.2h-1.2zM131.6 68.4h1.2v1.2h-1.2zM133.2 89.6h1.2v1.2h-1.2zM120.7 122.7h1.2v1.2h-1.2zM131.8 86.3h1.2v1.2h-1.2zM142 109.8h1.2v1.2h-1.2zM132.8 112.2h1.2v1.2h-1.2zM127.4 104.4h1.2v1.2h-1.2zM132.5 119.4h1.2v1.2h-1.2zM134.3 76.3h1.2v1.2h-1.2zM120.8 118.1h1.2v1.2h-1.2zM131.7 119h1.2v1.2h-1.2zM131.6 109.8h1.2v1.2h-1.2zM126.3 109.9h1.2v1.2h-1.2zM130.9 124h1.2v1.2h-1.2zM136 126.5h1.2v1.2h-1.2zM143.4 72.1h1.2v1.2h-1.2zM129.4 75.9h1.2v1.2h-1.2zM137.7 81h1.2v1.2h-1.2zM122.4 123.2h1.2v1.2h-1.2zM133.5 128.5h1.2v1.2h-1.2zM118.8 122.5h1.2v1.2h-1.2zM129.6 119.7h1.2v1.2h-1.2zM125.3 69.7h1.2v1.2h-1.2zM139.3 104h1.2v1.2h-1.2zM133.8 84.2h1.2v1.2h-1.2zM120.6 109.3h1.2v1.2h-1.2zM128.6 118h1.2v1.2h-1.2zM125.7 124.9h1.2v1.2h-1.2zM144.9 93.3h1.2v1.2h-1.2zM127.2 102.3h1.2v1.2h-1.2zM115 107.1h1.2v1.2h-1.2zM118.7 108.4h1.2v1.2h-1.2zM134.4 124.4h1.2v1.2h-1.2zM130.1 114.7h1.2v1.2h-1.2zM145 89.7h1.2v1.2h-1.2zM154.9 57.6h1.2v1.2h-1.2zM119.9 116.9h1.2v1.2h-1.2zM140.5 119h1.2v1.2h-1.2zM137.5 112.2h1.2v1.2h-1.2zM120.8 94.6h1.2v1.2h-1.2zM143.3 88.4h1.2v1.2h-1.2zM133.6 128.2h1.2v1.2h-1.2zM129.1 121.8h1.2v1.2h-1.2zM136.4 97.8h1.2v1.2h-1.2zM135.1 95.8h1.2v1.2h-1.2zM114.8 77.7h1.2v1.2h-1.2zM141.1 118.2h1.2v1.2h-1.2zM126.1 125.8h1.2v1.2h-1.2zM133.7 107.2h1.2v1.2h-1.2zM129.7 113.6h1.2v1.2h-1.2zM143 106.7h1.2v1.2h-1.2zM119.4 90.9h1.2v1.2h-1.2zM130.6 122.5h1.2v1.2h-1.2zM134.2 106.7h1.2v1.2h-1.2zM122.2 125h1.2v1.2h-1.2zM128.4 119.6h1.2v1.2h-1.2zM137.2 121.8h1.2v1.2h-1.2zM119.3 125.6h1.2v1.2h-1.2zM138.1 83.5h1.2v1.2h-1.2zM119.6 124.8h1.2v1.2h-1.2zM142.3 88.5h1.2v1.2h-1.2zM119.3 122.8h1.2v1.2h-1.2zM126.3 123.3h1.2v1.2h-1.2zM144.7 110.5h1.2v1.2h-1.2zM128.1 92.5h1.2v1.2h-1.2zM119.3 125.3h1.2v1.2h-1.2zM114.8 129.4h1.2v1.2h-1.2zM128.4 113.4h1.2v1.2h-1.2zM128.6 55h1.2v1.2h-1.2zM135 87.1h1.2v1.2h-1.2zM135.5 104.9h1.2v1.2h-1.2zM136.8 114.4h1.2v1.2h-1.2zM127.3 91.2h1.2v1.2h-1.2zM146 77.6h1.2v1.2h-1.2zM124.9 90.5h1.2v1.2h-1.2zM126 124.9h1.2v1.2h-1.2zM136.5 98.3h1.2v1.2h-1.2zM142 102h1.2v1.2h-1.2zM121 98h1.2v1.2h-1.2zM158.9 92.7h1.2v1.2h-1.2zM128.6 103.2h1.2v1.2h-1.2zM116.9 124.7h1.2v1.2h-1.2zM143.6 97.6h1.2v1.2h-1.2zM118 85.5h1.2v1.2h-1.2zM126.8 125.5h1.2v1.2h-1.2zM131.7 100.3h1.2v1.2h-1.2zM116.1 111.5h1.2v1.2h-1.2zM127.1 123.1h1.2v1.2h-1.2zM117.4 127.3h1.2v1.2h-1.2zM133.8 116.6h1.2v1.2h-1.2zM134.5 119.1h1.2v1.2h-1.2zM130.2 48.1h1.2v1.2h-1.2zM130.2 112.6h1.2v1.2h-1.2zM130.8 113.8h1.2v1.2h-1.2zM141.5 83.2h1.2v1.2h-1.2zM130.9 107h1.2v1.2h-1.2zM121.5 124.1h1.2v1.2h-1.2zM128.9 123.9h1.2v1.2h-1.2zM130.3 126.9h1.2v1.2h-1.2zM127.8 108.4h1.2v1.2h-1.2zM126.4 123.3h1.2v1.2h-1.2zM129.2 93.1h1.2v1.2h-1.2zM129 110.7h1.2v1.2h-1.2zM136.5 106.3h1.2v1.2h-1.2zM129.5 111.4h1.2v1.2h-1.2zM125.8 81.6h1.2v1.2h-1.2zM146.2 94.2h1.2v1.2h-1.2zM131.7 127.9h1.2v1.2h-1.2zM128.1 116h1.2v1.2h-1.2zM152.9 73.3h1.2v1.2h-1.2zM126 43.5h1.2v1.2h-1.2zM149.7 46.9h1.2v1.2h-1.2zM117.6 127.4h1.2v1.2h-1.2zM138.4 86.9h1.2v1.2h-1.2zM123.2 105.7h1.2v1.2h-1.2zM120.4 118.9h1.2v1.2h-1.2zM111.5 121.5h1.2v1.2h-1.2zM136.6 95.6h1.2v1.2h-1.2zM132.9 111h1.2v1.2h-1.2zM143.7 120.4h1.2v1.2h-1.2zM122.6 116.9h1.2v1.2h-1.2zM127.9 66.7h1.2v1.2h-1.2zM141 111.6h1.2v1.2h-1.2zM127.4 117.9h1.2v1.2h-1.2zM140.5 99.2h1.2v1.2h-1.2zM128.4 111.1h1.2v1.2h-1.2zM124.5 119.4h1.2v1.2h-1.2zM129 106.4h1.2v1.2h-1.2zM136.9 82.4h1.2v1.2h-1.2zM127.2 55.8h1.2v1.2h-1.2zM138.5 107.1h1.2v1.2h-1.2zM146 128h1.2v1.2h-1.2zM136.3 115.8h1.2v1.2h-1.2zM124.6 125.4h1.2v1.2h-1.2zM115.8 119h1.2v1.2h-1.2zM118.5 127.2h1.2v1.2h-1.2zM131.4 109.3h1.2v1.2h-1.2zM128.6 114.7h1.2v1.2h-1.2zM117.8 118h1.2v1.2h-1.2zM136 82.5h1.2v1.2h-1.2zM141.9 77.5h1.2v1.2h-1.2zM128 126h1.2v1.2h-1.2zM148.9 52.7h1.2v1.2h-1.2zM119.3 125h1.2v1.2h-1.2zM126.9 123.2h1.2v1.2h-1.2zM132.2 117h1.2v1.2h-1.2zM141.1 123.6h1.2v1.2h-1.2zM128.9 116.9h1.2v1.2h-1.2zM142.5 119.4h1.2v1.2h-1.2zM114.7 123.6h1.2v1.2h-1.2zM139.4 84.3h1.2v1.2h-1.2zM132.6 122h1.2v1.2h-1.2zM131.8 90.5h1.2v1.2h-1.2zM136.2 121.8h1.2v1.2h-1.2zM138.8 85.4h1.2v1.2h-1.2zM133.5 121.6h1.2v1.2h-1.2zM126.3 99.1h1.2v1.2h-1.2zM133.3 85.6h1.2v1.2h-1.2zM132.1 97.9h1.2v1.2h-1.2zM141.5 111.2h1.2v1.2h-1.2zM120.1 113.6h1.2v1.2h-1.2zM118.5 100.7h1.2v1.2h-1.2zM139.7 82.7h1.2v1.2h-1.2zM150.9 60.7h1.2v1.2h-1.2zM115.3 51.1h1.2v1.2h-1.2zM120.2 102.1h1.2v1.2h-1.2zM134.6 123.2h1.2v1.2h-1.2zM137.9 112.7h1.2v1.2h-1.2zM144.6 119.2h1.2v1.2h-1.2zM115.9 101.3h1.2v1.2h-1.2zM133 110.6h1.2v1.2h-1.2zM113.6 116.3h1.2v1.2h-1.2zM124.1 118h1.2v1.2h-1.2zM116.4 126.8h1.2v1.2h-1.2zM129.1 119.3h1.2v1.2h-1.2zM114.5 117.5h1.2v1.2h-1.2zM124.2 125.2h1.2v1.2h-1.2zM135.6 117.8h1.2v1.2h-1.2zM134.1 107.1h1.2v1.2h-1.2zM118.9 100h1.2v1.2h-1.2zM128.9 114.2h1.2v1.2h-1.2zM129.3 126.1h1.2v1.2h-1.2zM141.5 107.8h1.2v1.2h-1.2zM131.6 131.6h1.2v1.2h-1.2zM145.3 70h1.2v1.2h-1.2zM127.2 105.6h1.2v1.2h-1.2zM127.7 101.8h1.2v1.2h-1.2zM154.7 61.8h1.2v1.2h-1.2zM122.9 119.7h1.2v1.2h-1.2zM142.1 87.6h1.2v1.2h-1.2zM139.6 87.5h1.2v1.2h-1.2zM123.9 104.5h1.2v1.2h-1.2zM123.5 102.1h1.2v1.2h-1.2zM128.1 97.5h1.2v1.2h-1.2zM132.9 104.5h1.2v1.2h-1.2zM136.5 119h1.2v1.2h-1.2zM153.6 101.1h1.2v1.2h-1.2zM122.4 108.5h1.2v1.2h-1.2zM133.7 125.8h1.2v1.2h-1.2zM126.8 127.4h1.2v1.2h-1.2zM131.7 112.1h1.2v1.2h-1.2zM125.7 116.1h1.2v1.2h-1.2zM141.5 109.4h1.2v1.2h-1.2zM131.6 93.3h1.2v1.2h-1.2zM138.9 102.9h1.2v1.2h-1.2zM111.3 109.9h1.2v1.2h-1.2zM125.1 116.7h1.2v1.2h-1.2zM133.3 101.7h1.2v1.2h-1.2zM133.2 110h1.2v1.2h-1.2zM141.9 115.4h1.2v1.2h-1.2zM134.8 101.8h1.2v1.2h-1.2zM151 53.5h1.2v1.2h-1.2zM147 101.6h1.2v1.2h-1.2zM132.6 124.3h1.2v1.2h-1.2zM142.4 111.2h1.2v1.2h-1.2zM139.5 68.3h1.2v1.2h-1.2zM131.7 124.4h1.2v1.2h-1.2zM140.2 110.8h1.2v1.2h-1.2zM126.9 112.4h1.2v1.2h-1.2zM119.9 104.2h1.2v1.2h-1.2zM141.9 125.4h1.2v1.2h-1.2zM130 95h1.2v1.2h-1.2zM134.4 103.8h1.2v1.2h-1.2zM136.1 84.2h1.2v1.2h-1.2zM134 93.6h1.2v1.2h-1.2zM142.5 114.1h1.2v1.2h-1.2zM155.9 116.3h1.2v1.2h-1.2zM132.8 111.4h1.2v1.2h-1.2zM132.8 94h1.2v1.2h-1.2zM143.8 73.3h1.2v1.2h-1.2zM132.5 85.6h1.2v1.2h-1.2zM114.9 95.8h1.2v1.2h-1.2zM131.9 106.9h1.2v1.2h-1.2zM131.4 107.3h1.2v1.2h-1.2zM128.8 118.1h1.2v1.2h-1.2zM118.2 116.1h1.2v1.2h-1.2zM133.4 96.4h1.2v1.2h-1.2zM124.4 78.9h1.2v1.2h-1.2zM122.1 105.7h1.2v1.2h-1.2zM132 107.7h1.2v1.2h-1.2zM148.6 89.9h1.2v1.2h-1.2zM123 114.3h1.2v1.2h-1.2zM131.6 66.9h1.2v1.2h-1.2zM136.7 113.8h1.2v1.2h-1.2zM134.5 104.2h1.2v1.2h-1.2zM150.8 57.9h1.2v1.2h-1.2zM131.5 106.9h1.2v1.2h-1.2zM123.9 92.9h1.2v1.2h-1.2zM116.4 126.4h1.2v1.2h-1.2zM144.9 93h1.2v1.2h-1.2zM138.5 106.9h1.2v1.2h-1.2zM129.2 113.2h1.2v1.2h-1.2zM157.6 63h1.2v1.2h-1.2zM124 113.1h1.2v1.2h-1.2zM148.1 90.1h1.2v1.2h-1.2zM120.8 115.6h1.2v1.2h-1.2zM132.5 100.7h1.2v1.2h-1.2zM122.3 129.3h1.2v1.2h-1.2zM116 100.8h1.2v1.2h-1.2zM129.3 116h1.2v1.2h-1.2zM126.1 92.8h1.2v1.2h-1.2zM135.7 112h1.2v1.2h-1.2zM127.8 113.6h1.2v1.2h-1.2zM130 82.7h1.2v1.2h-1.2zM113.6 118.4h1.2v1.2h-1.2zM129.9 113.6h1.2v1.2h-1.2zM120.2 121.3h1.2v1.2h-1.2zM126.4 111h1.2v1.2h-1.2zM134.7 126.7h1.2v1.2h-1.2zM126.8 121.1h1.2v1.2h-1.2zM121.8 119.5h1.2v1.2h-1.2zM124.9 90.5h1.2v1.2h-1.2zM120.2 128.2h1.2v1.2h-1.2zM121.7 103.2h1.2v1.2h-1.2zM141.1 66.2h1.2v1.2h-1.2zM143 98.8h1.2v1.2h-1.2zM137.9 65.4h1.2v1.2h-1.2zM138.5 99.3h1.2v1.2h-1.2zM151.4 80.9h1.2v1.2h-1.2zM131.5 117.7h1.2v1.2h-1.2zM136.9 124.7h1.2v1.2h-1.2zM150.7 50.8h1.2v1.2h-1.2zM124.1 114.2h1.2v1.2h-1.2zM135.3 97.6h1.2v1.2h-1.2zM127.2 103.9h1.2v1.2h-1.2zM125.5 126.4h1.2v1.2h-1.2zM133.8 55.8h1.2v1.2h-1.2zM131.3 114h1.2v1.2h-1.2zM117.7 118.4h1.2v1.2h-1.2zM124.6 88h1.2v1.2h-1.2zM122.9 107.2h1.2v1.2h-1.2zM124.2 114.6h1.2v1.2h-1.2zM111.4 111.9h1.2v1.2h-1.2zM132.9 114.9h1.2v1.2h-1.2zM139.1 119.9h1.2v1.2h-1.2zM129.4 121h1.2v1.2h-1.2zM127.5 104.2h1.2v1.2h-1.2zM141.9 110.4h1.2v1.2h-1.2zM139.8 96.9h1.2v1.2h-1.2zM143.7 116.5h1.2v1.2h-1.2zM127.1 71.1h1.2v1.2h-1.2zM139.3 111.6h1.2v1.2h-1.2zM130.9 124.6h1.2v1.2h-1.2zM148.6 75.9h1.2v1.2h-1.2zM119.8 125.9h1.2v1.2h-1.2zM119 82.9h1.2v1.2h-1.2zM139.3 119.6h1.2v1.2h-1.2zM123.4 128.8h1.2v1.2h-1.2zM133.5 108.8h1.2v1.2h-1.2zM127.3 105.7h1.2v1.2h-1.2zM120.6 124.4h1.2v1.2h-1.2zM150.5 81h1.2v1.2h-1.2zM150.2 70.2h1.2v1.2h-1.2zM136.9 100.9h1.2v1.2h-1.2zM127.1 94.7h1.2v1.2h-1.2zM128 106.6h1.2v1.2h-1.2zM120.5 128.2h1.2v1.2h-1.2zM121 124.4h1.2v1.2h-1.2zM120.7 90.6h1.2v1.2h-1.2zM143.5 61.3h1.2v1.2h-1.2zM124.5 122.4h1.2v1.2h-1.2zM130.9 127.8h1.2v1.2h-1.2zM134 104.9h1.2v1.2h-1.2zM126.6 126.5h1.2v1.2h-1.2zM129.4 126.2h1.2v1.2h-1.2zM137.8 114.7h1.2v1.2h-1.2zM113.4 122.8h1.2v1.2h-1.2zM138.2 120.7h1.2v1.2h-1.2zM118.2 124.1h1.2v1.2h-1.2zM127.8 110.4h1.2v1.2h-1.2zM122.6 95.4h1.2v1.2h-1.2zM142 74h1.2v1.2h-1.2zM142.6 74.9h1.2v1.2h-1.2zM131.4 127.4h1.2v1.2h-1.2zM151.4 54.2h1.2v1.2h-1.2zM135.2 94.9h1.2v1.2h-1.2zM148.4 114.5h1.2v1.2h-1.2zM129.1 114.1h1.2v1.2h-1.2zM126.1 127.1h1.2v1.2h-1.2zM130.6 84.1h1.2v1.2h-1.2zM149.6 74.4h1.2v1.2h-1.2zM124.7 108.7h1.2v1.2h-1.2zM117.9 114.1h1.2v1.2h-1.2zM134.8 100.8h1.2v1.2h-1.2zM138.8 88.5h1.2v1.2h-1.2zM126.9 125.4h1.2v1.2h-1.2zM154.9 71.7h1.2v1.2h-1.2zM136.8 90.5h1.2v1.2h-1.2zM120.2 110.3h1.2v1.2h-1.2zM140.8 66.3h1.2v1.2h-1.2zM120.7 96.9h1.2v1.2h-1.2zM122.3 83.8h1.2v1.2h-1.2zM154 82.9h1.2v1.2h-1.2zM136.1 98.4h1.2v1.2h-1.2zM152.6 98.4h1.2v1.2h-1.2zM129.9 117.2h1.2v1.2h-1.2zM166.7 49.1h1.2v1.2h-1.2zM124.2 89.2h1.2v1.2h-1.2zM124.1 68.5h1.2v1.2h-1.2zM137.8 127.2h1.2v1.2h-1.2zM122.9 123.7h1.2v1.2h-1.2zM116.2 115.7h1.2v1.2h-1.2zM138.4 88.2h1.2v1.2h-1.2zM137.4 55.5h1.2v1.2h-1.2zM140.7 64.5h1.2v1.2h-1.2zM147.3 99.1h1.2v1.2h-1.2zM150.9 97.6h1.2v1.2h-1.2zM131 101.1h1.2v1.2h-1.2zM113.3 111.9h1.2v1.2h-1.2zM138 96.3h1.2v1.2h-1.2zM137.8 93.7h1.2v1.2h-1.2zM137.8 112.2h1.2v1.2h-1.2zM123.1 125h1.2v1.2h-1.2zM152.2 53.7h1.2v1.2h-1.2zM144.7 100.1h1.2v1.2h-1.2zM127.8 105.2h1.2v1.2h-1.2zM120.9 111.1h1.2v1.2h-1.2zM142.3 118.7h1.2v1.2h-1.2zM128.9 124.7h1.2v1.2h-1.2zM130.4 113.2h1.2v1.2h-1.2zM139.2 75.7h1.2v1.2h-1.2zM131.6 112h1.2v1.2h-1.2zM129.4 79.2h1.2v1.2h-1.2zM132.6 118.6h1.2v1.2h-1.2zM121.1 107.7h1.2v1.2h-1.2zM136.8 77.9h1.2v1.2h-1.2zM135.6 128.3h1.2v1.2h-1.2zM126.8 124.5h1.2v1.2h-1.2zM127.6 128h1.2v1.2h-1.2zM129.1 105h1.2v1.2h-1.2zM138.9 115h1.2v1.2h-1.2zM129.2 85.5h1.2v1.2h-1.2zM128 111.7h1.2v1.2h-1.2zM112.6 112.5h1.2v1.2h-1.2zM120.3 126.7h1.2v1.2h-1.2zM128 107.5h1.2v1.2h-1.2zM145.6 101.7h1.2v1.2h-1.2zM136.5 92.6h1.2v1.2h-1.2zM122.6 87.4h1.2v1.2h-1.2zM132 91.2h1.2v1.2h-1.2zM126.5 96h1.2v1.2h-1.2zM166 62h1.2v1.2h-1.2zM128.8 106.9h1.2v1.2h-1.2zM143.2 84.7h1.2v1.2h-1.2zM123.4 104h1.2v1.2h-1.2zM152.7 65h1.2v1.2h-1.2zM133.6 124.3h1.2v1.2h-1.2zM123.5 124.8h1.2v1.2h-1.2zM120.4 114.6h1.2v1.2h-1.2zM137.5 97.3h1.2v1.2h-1.2zM139.2 129h1.2v1.2h-1.2zM124.2 122.8h1.2v1.2h-1.2zM120.5 99.1h1.2v1.2h-1.2zM129 116.5h1.2v1.2h-1.2zM137.3 118.1h1.2v1.2h-1.2zM150 78.9h1.2v1.2h-1.2zM127.8 96h1.2v1.2h-1.2zM136.9 112.7h1.2v1.2h-1.2zM114.2 111.1h1.2v1.2h-1.2zM130 129h1.2v1.2h-1.2zM121.6 122.7h1.2v1.2h-1.2zM129.4 122.5h1.2v1.2h-1.2zM132.5 102.9h1.2v1.2h-1.2zM120.5 120.5h1.2v1.2h-1.2zM133.5 118.5h1.2v1.2h-1.2zM142.3 93.6h1.2v1.2h-1.2zM139.9 108.7h1.2v1.2h-1.2zM134.3 89.4h1.2v1.2h-1.2zM127.2 115.1h1.2v1.2h-1.2zM127.2 113.1h1.2v1.2h-1.2zM126.6 122.8h1.2v1.2h-1.2zM147.7 64.1h1.2v1.2h-1.2zM137.9 104.4h1.2v1.2h-1.2zM141.9 68.3h1.2v1.2h-1.2zM121.7 123.3h1.2v1.2h-1.2zM140.1 88.2h1.2v1.2h-1.2zM124.8 92.6h1.2v1.2h-1.2zM137.8 121.9h1.2v1.2h-1.2zM143.7 59.7h1.2v1.2h-1.2zM123.1 123.9h1.2v1.2h-1.2zM139.2 95h1.2v1.2h-1.2zM117.2 118.9h1.2v1.2h-1.2zM142 60h1.2v1.2h-1.2zM152.2 82.2h1.2v1.2h-1.2zM131.6 109.1h1.2v1.2h-1.2zM120.4 120.9h1.2v1.2h-1.2zM125.1 69.6h1.2v1.2h-1.2zM132.6 126.4h1.2v1.2h-1.2zM124.8 127.1h1.2v1.2h-1.2zM140.3 103.8h1.2v1.2h-1.2zM135.5 110.4h1.2v1.2h-1.2zM130.3 97.1h1.2v1.2h-1.2zM133.9 125.1h1.2v1.2h-1.2zM130.8 112.2h1.2v1.2h-1.2zM123.5 123.2h1.2v1.2h-1.2zM135.5 118.8h1.2v1.2h-1.2zM125.6 68h1.2v1.2h-1.2zM138.1 124.3h1.2v1.2h-1.2zM137.7 110.6h1.2v1.2h-1.2zM119.1 125.5h1.2v1.2h-1.2zM135.2 122.1h1.2v1.2h-1.2zM127.7 118.2h1.2v1.2h-1.2zM136.5 104.7h1.2v1.2h-1.2zM98.9 54.5h1.2v1.2h-1.2zM131.1 115.3h1.2v1.2h-1.2zM149.9 70.7h1.2v1.2h-1.2zM126.9 121.5h1.2v1.2h-1.2zM161.6 57.7h1.2v1.2h-1.2zM140.9 103.8h1.2v1.2h-1.2zM119.3 53.1h1.2v1.2h-1.2zM128.5 104.3h1.2v1.2h-1.2zM124.6 77.3h1.2v1.2h-1.2zM119.9 118.1h1.2v1.2h-1.2zM128.7 119.9h1.2v1.2h-1.2zM121.1 97.8h1.2v1.2h-1.2zM125.1 117.7h1.2v1.2h-1.2zM137.4 95.6h1.2v1.2h-1.2zM119.2 128.9h1.2v1.2h-1.2zM135.4 100.4h1.2v1.2h-1.2zM130.7 126.5h1.2v1.2h-1.2zM141.8 100.8h1.2v1.2h-1.2zM141.9 64.4h1.2v1.2h-1.2zM120.8 128.5h1.2v1.2h-1.2zM131.1 112.6h1.2v1.2h-1.2zM126.2 128.4h1.2v1.2h-1.2zM131.1 115.3h1.2v1.2h-1.2zM120.3 119.7h1.2v1.2h-1.2zM131.2 125.1h1.2v1.2h-1.2zM131.1 118.6h1.2v1.2h-1.2zM152.5 82.1h1.2v1.2h-1.2zM133.7 81.6h1.2v1.2h-1.2zM121.9 104.8h1.2v1.2h-1.2zM139.6 99.9h1.2v1.2h-1.2zM139.3 105.8h1.2v1.2h-1.2zM142.1 111.2h1.2v1.2h-1.2zM135.2 78.1h1.2v1.2h-1.2zM125.9 113.7h1.2v1.2h-1.2zM121.5 107.8h1.2v1.2h-1.2zM130.8 119.2h1.2v1.2h-1.2zM123.1 121.5h1.2v1.2h-1.2zM150.6 95.6h1.2v1.2h-1.2zM129.9 90.5h1.2v1.2h-1.2zM144.1 91.1h1.2v1.2h-1.2zM145.9 91.8h1.2v1.2h-1.2zM133 109.7h1.2v1.2h-1.2zM124.3 124.5h1.2v1.2h-1.2zM143 68h1.2v1.2h-1.2zM141.4 103.4h1.2v1.2h-1.2zM116.6 121.4h1.2v1.2h-1.2zM135.5 96.2h1.2v1.2h-1.2zM138.7 105.9h1.2v1.2h-1.2zM124.9 108.6h1.2v1.2h-1.2zM123.2 99.4h1.2v1.2h-1.2zM133.7 120.7h1.2v1.2h-1.2zM124.8 96.5h1.2v1.2h-1.2zM126.7 112.5h1.2v1.2h-1.2zM124.5 126.3h1.2v1.2h-1.2zM137.7 66.9h1.2v1.2h-1.2zM128.7 121.6h1.2v1.2h-1.2zM124.1 114.7h1.2v1.2h-1.2zM142.4 120.8h1.2v1.2h-1.2zM122.9 120.4h1.2v1.2h-1.2zM131.3 112.3h1.2v1.2h-1.2zM127.5 83.2h1.2v1.2h-1.2zM129.6 124.8h1.2v1.2h-1.2zM127 87.1h1.2v1.2h-1.2zM142.6 96.1h1.2v1.2h-1.2zM135.2 124.2h1.2v1.2h-1.2zM138.3 118.2h1.2v1.2h-1.2zM134.4 64.9h1.2v1.2h-1.2zM145.1 112.7h1.2v1.2h-1.2zM136 110.1h1.2v1.2h-1.2zM136.1 114.3h1.2v1.2h-1.2zM126.6 115.8h1.2v1.2h-1.2zM123.6 115.6h1.2v1.2h-1.2zM130.5 76.5h1.2v1.2h-1.2zM123.6 104h1.2v1.2h-1.2zM133.2 122.7h1.2v1.2h-1.2zM119.1 127.8h1.2v1.2h-1.2zM127.8 109.7h1.2v1.2h-1.2zM126.1 124.2h1.2v1.2h-1.2zM136.2 67.9h1.2v1.2h-1.2zM142.8 72.6h1.2v1.2h-1.2zM121.4 112.5h1.2v1.2h-1.2zM133 95.3h1.2v1.2h-1.2zM121.3 108h1.2v1.2h-1.2zM141.7 100.9h1.2v1.2h-1.2zM130.2 104.1h1.2v1.2h-1.2zM128.9 105.9h1.2v1.2h-1.2zM150.7 86.7h1.2v1.2h-1.2zM121.7 116.7h1.2v1.2h-1.2zM120.4 128.1h1.2v1.2h-1.2zM137.9 119.6h1.2v1.2h-1.2zM137.6 90.9h1.2v1.2h-1.2zM123.1 119.7h1.2v1.2h-1.2zM125.3 88h1.2v1.2h-1.2zM141.5 104.6h1.2v1.2h-1.2zM146.1 99.4h1.2v1.2h-1.2zM126.6 125.7h1.2v1.2h-1.2zM132.9 56.9h1.2v1.2h-1.2zM127.9 90.4h1.2v1.2h-1.2zM119.3 95.5h1.2v1.2h-1.2zM125.2 124.4h1.2v1.2h-1.2zM118.9 116.5h1.2v1.2h-1.2zM135.1 116.7h1.2v1.2h-1.2zM135.7 110.1h1.2v1.2h-1.2zM135.6 93.6h1.2v1.2h-1.2zM124.1 113.2h1.2v1.2h-1.2zM132.2 110.1h1.2v1.2h-1.2zM144.3 71.9h1.2v1.2h-1.2zM152.5 51.3h1.2v1.2h-1.2zM136.1 121.2h1.2v1.2h-1.2zM115 81.2h1.2v1.2h-1.2zM130.1 121.5h1.2v1.2h-1.2zM130.3 97.5h1.2v1.2h-1.2zM146.5 93.9h1.2v1.2h-1.2zM140.9 114.7h1.2v1.2h-1.2zM116.6 123.2h1.2v1.2h-1.2zM132 111.1h1.2v1.2h-1.2zM121.6 123.4h1.2v1.2h-1.2zM136.7 104.3h1.2v1.2h-1.2zM120.6 123.2h1.2v1.2h-1.2zM125.3 124h1.2v1.2h-1.2zM136.8 121.9h1.2v1.2h-1.2zM139.4 89.8h1.2v1.2h-1.2zM124.9 95.2h1.2v1.2h-1.2zM133.9 113.1h1.2v1.2h-1.2zM161 70.7h1.2v1.2h-1.2zM133.7 79.1h1.2v1.2h-1.2zM124.2 113.4h1.2v1.2h-1.2zM130.1 122.1h1.2v1.2h-1.2zM138 106.2h1.2v1.2h-1.2zM146.5 101.5h1.2v1.2h-1.2zM140.6 70.4h1.2v1.2h-1.2zM135.7 104.4h1.2v1.2h-1.2zM130.9 92.7h1.2v1.2h-1.2zM112.3 119.6h1.2v1.2h-1.2zM126.8 115.1h1.2v1.2h-1.2zM127.2 109.6h1.2v1.2h-1.2zM131.5 101.9h1.2v1.2h-1.2zM130.2 123.8h1.2v1.2h-1.2zM124.8 104.4h1.2v1.2h-1.2zM126.1 66.1h1.2v1.2h-1.2zM116.2 127h1.2v1.2h-1.2zM122.2 104.1h1.2v1.2h-1.2zM138.2 113.1h1.2v1.2h-1.2zM114.4 94.3h1.2v1.2h-1.2zM128.4 109.2h1.2v1.2h-1.2zM131.5 125.8h1.2v1.2h-1.2zM137.2 87h1.2v1.2h-1.2zM151.3 93.6h1.2v1.2h-1.2zM139.6 106.1h1.2v1.2h-1.2zM159.4 87.7h1.2v1.2h-1.2zM135.5 127.6h1.2v1.2h-1.2zM120.6 94.1h1.2v1.2h-1.2zM131.3 123.6h1.2v1.2h-1.2zM134.5 114.8h1.2v1.2h-1.2zM88.7 147.7h1.2v1.2h-1.2zM78.4 159.2h1.2v1.2h-1.2zM66.3 157.2h1.2v1.2h-1.2zM67.2 152.7h1.2v1.2h-1.2zM61.1 154h1.2v1.2h-1.2zM70.2 147.4h1.2v1.2h-1.2zM55.9 154.4h1.2v1.2h-1.2zM77.8 149.5h1.2v1.2h-1.2zM81.5 152.8h1.2v1.2h-1.2zM86.8 150.1h1.2v1.2h-1.2zM88.2 153.1h1.2v1.2h-1.2zM72.9 154.8h1.2v1.2h-1.2zM87.2 145h1.2v1.2h-1.2zM53.6 164.7h1.2v1.2h-1.2zM89.3 156.7h1.2v1.2h-1.2zM91.2 151.8h1.2v1.2h-1.2zM83.7 154.9h1.2v1.2h-1.2zM90.8 146.4h1.2v1.2h-1.2zM89.3 148h1.2v1.2h-1.2zM89.7 159.1h1.2v1.2h-1.2zM62.4 150.4h1.2v1.2h-1.2zM78.7 157.1h1.2v1.2h-1.2zM89.7 143.7h1.2v1.2h-1.2zM59.5 157.6h1.2v1.2h-1.2zM65.8 156.9h1.2v1.2h-1.2zM89.1 146.4h1.2v1.2h-1.2zM86.3 146h1.2v1.2h-1.2zM39.1 159.8h1.2v1.2h-1.2zM55.9 160.8h1.2v1.2h-1.2zM91 136.3h1.2v1.2h-1.2zM66.1 158.6h1.2v1.2h-1.2zM70.4 151.9h1.2v1.2h-1.2zM89.4 153.1h1.2v1.2h-1.2zM66.4 149h1.2v1.2h-1.2zM55 158.1h1.2v1.2h-1.2zM61.1 158.3h1.2v1.2h-1.2zM78.6 150.5h1.2v1.2h-1.2zM88.5 153.3h1.2v1.2h-1.2zM70.4 154.3h1.2v1.2h-1.2zM77.9 152h1.2v1.2h-1.2zM46.5 158.3h1.2v1.2h-1.2zM74.7 152.3h1.2v1.2h-1.2zM80.3 148.1h1.2v1.2h-1.2zM87.4 149h1.2v1.2h-1.2zM91.2 154.3h1.2v1.2h-1.2zM91.2 136.7h1.2v1.2h-1.2zM70.4 149.3h1.2v1.2h-1.2zM85.8 148.8h1.2v1.2h-1.2zM59.5 156.6h1.2v1.2h-1.2zM77.6 157.3h1.2v1.2h-1.2zM91.7 148.7h1.2v1.2h-1.2zM71.3 153.8h1.2v1.2h-1.2zM88.5 155.3h1.2v1.2h-1.2zM79.6 155h1.2v1.2h-1.2zM87.4 146.4h1.2v1.2h-1.2zM90.7 156.2h1.2v1.2h-1.2zM91.2 144.2h1.2v1.2h-1.2zM81.3 149.4h1.2v1.2h-1.2zM84 147.3h1.2v1.2h-1.2zM71.1 147.5h1.2v1.2h-1.2zM83.5 148.5h1.2v1.2h-1.2zM54.4 159.1h1.2v1.2h-1.2zM77.9 153.9h1.2v1.2h-1.2zM67 157.3h1.2v1.2h-1.2zM70.5 143.4h1.2v1.2h-1.2zM76.9 158.7h1.2v1.2h-1.2zM77.8 147.1h1.2v1.2h-1.2zM86.6 154.1h1.2v1.2h-1.2zM76.8 147.8h1.2v1.2h-1.2zM60.7 155.5h1.2v1.2h-1.2zM62.4 158h1.2v1.2h-1.2zM48.1 159.8h1.2v1.2h-1.2zM72.5 151.2h1.2v1.2h-1.2zM84.8 149.3h1.2v1.2h-1.2zM74 149.4h1.2v1.2h-1.2zM86 146.2h1.2v1.2h-1.2zM82.3 155.8h1.2v1.2h-1.2zM65.3 158.2h1.2v1.2h-1.2zM84.5 147.9h1.2v1.2h-1.2zM47.1 160.2h1.2v1.2h-1.2zM91.6 152.2h1.2v1.2h-1.2zM90.1 152.3h1.2v1.2h-1.2zM49.4 155.7h1.2v1.2h-1.2zM82.4 154h1.2v1.2h-1.2zM85.6 155h1.2v1.2h-1.2zM53 157h1.2v1.2h-1.2zM62.5 158.4h1.2v1.2h-1.2zM80.3 151.6h1.2v1.2h-1.2zM89 153.2h1.2v1.2h-1.2zM88.9 152.2h1.2v1.2h-1.2zM79.1 150.2h1.2v1.2h-1.2zM50 158.8h1.2v1.2h-1.2zM62.6 154.4h1.2v1.2h-1.2zM76 151.3h1.2v1.2h-1.2zM86.7 154.6h1.2v1.2h-1.2zM72.4 153.3h1.2v1.2h-1.2zM80 150.9h1.2v1.2h-1.2zM73.2 146.2h1.2v1.2h-1.2zM69 150.7h1.2v1.2h-1.2zM90 144.8h1.2v1.2h-1.2zM77 146.1h1.2v1.2h-1.2zM75.2 149.1h1.2v1.2h-1.2zM75.6 149.2h1.2v1.2h-1.2zM92 142.1h1.2v1.2h-1.2zM67.4 143.1h1.2v1.2h-1.2zM86.6 150.6h1.2v1.2h-1.2zM77.9 151h1.2v1.2h-1.2zM72.5 155.8h1.2v1.2h-1.2zM72.9 149.9h1.2v1.2h-1.2zM75.1 154.1h1.2v1.2h-1.2zM78.7 157.6h1.2v1.2h-1.2zM83.3 155.4h1.2v1.2h-1.2zM61.3 155.7h1.2v1.2h-1.2zM74.8 154h1.2v1.2h-1.2zM82.2 145.2h1.2v1.2h-1.2zM79.8 155.1h1.2v1.2h-1.2zM48.6 161.6h1.2v1.2h-1.2zM89.9 151.6h1.2v1.2h-1.2zM83.2 147h1.2v1.2h-1.2zM57 157.5h1.2v1.2h-1.2zM81.2 151.7h1.2v1.2h-1.2zM53.1 154.4h1.2v1.2h-1.2zM66 152.8h1.2v1.2h-1.2zM71.8 146h1.2v1.2h-1.2zM88.8 148.7h1.2v1.2h-1.2zM61.9 156h1.2v1.2h-1.2zM88.9 148.9h1.2v1.2h-1.2zM66.4 152.9h1.2v1.2h-1.2zM71.6 152.4h1.2v1.2h-1.2zM89.8 149.5h1.2v1.2h-1.2zM77.1 152.1h1.2v1.2h-1.2zM78.6 153.1h1.2v1.2h-1.2zM90.1 147.1h1.2v1.2h-1.2zM88.4 138.8h1.2v1.2h-1.2zM81.9 155.3h1.2v1.2h-1.2zM79 153.3h1.2v1.2h-1.2zM72.5 153.5h1.2v1.2h-1.2zM88.2 151.8h1.2v1.2h-1.2zM81.9 149.4h1.2v1.2h-1.2zM88.4 155.7h1.2v1.2h-1.2zM57.9 154.7h1.2v1.2h-1.2zM89.3 146.5h1.2v1.2h-1.2zM86.2 155.2h1.2v1.2h-1.2zM76.2 150.9h1.2v1.2h-1.2zM68.2 148h1.2v1.2h-1.2zM91.2 160.6h1.2v1.2h-1.2zM91.8 154.6h1.2v1.2h-1.2zM81.7 147.9h1.2v1.2h-1.2zM89.4 137.9h1.2v1.2h-1.2zM86.1 155.3h1.2v1.2h-1.2zM66.3 150.6h1.2v1.2h-1.2zM59.3 160.3h1.2v1.2h-1.2zM64.8 155.5h1.2v1.2h-1.2zM89.4 152h1.2v1.2h-1.2zM91.9 151.9h1.2v1.2h-1.2zM84.5 144.8h1.2v1.2h-1.2zM82.6 145.1h1.2v1.2h-1.2zM56.7 158.2h1.2v1.2h-1.2zM64.1 153h1.2v1.2h-1.2zM81.7 155.2h1.2v1.2h-1.2zM64 155.7h1.2v1.2h-1.2zM85.6 161.3h1.2v1.2h-1.2zM90.1 150h1.2v1.2h-1.2zM75.4 149.5h1.2v1.2h-1.2zM87.2 151.3h1.2v1.2h-1.2zM75.2 149.4h1.2v1.2h-1.2zM79.2 155.4h1.2v1.2h-1.2zM84.4 150.9h1.2v1.2h-1.2zM81.9 144.8h1.2v1.2h-1.2zM77 154.2h1.2v1.2h-1.2zM69.3 159.9h1.2v1.2h-1.2zM85.3 154.9h1.2v1.2h-1.2zM73.3 154.1h1.2v1.2h-1.2zM82.7 141.3h1.2v1.2h-1.2zM86.4 151.6h1.2v1.2h-1.2zM90.4 148.9h1.2v1.2h-1.2zM74 154.2h1.2v1.2h-1.2zM54.3 152h1.2v1.2h-1.2zM79.1 158.5h1.2v1.2h-1.2zM69 157.6h1.2v1.2h-1.2zM70.7 152.4h1.2v1.2h-1.2zM81 160.5h1.2v1.2h-1.2zM67.1 154.2h1.2v1.2h-1.2zM86.3 146.7h1.2v1.2h-1.2zM79.8 152.3h1.2v1.2h-1.2zM91.6 141h1.2v1.2h-1.2zM82.9 144.1h1.2v1.2h-1.2zM78.4 153.4h1.2v1.2h-1.2zM66.4 152h1.2v1.2h-1.2zM86.7 159.3h1.2v1.2h-1.2zM91 146.4h1.2v1.2h-1.2zM71.6 148.6h1.2v1.2h-1.2zM83.2 143.4h1.2v1.2h-1.2zM84.6 140.3h1.2v1.2h-1.2zM71.1 153.3h1.2v1.2h-1.2zM85.6 151.9h1.2v1.2h-1.2zM73 151.9h1.2v1.2h-1.2zM75.7 153.4h1.2v1.2h-1.2zM89.1 147.9h1.2v1.2h-1.2zM84.9 159.2h1.2v1.2h-1.2zM81.7 148h1.2v1.2h-1.2zM82.2 148.8h1.2v1.2h-1.2zM79.1 157.6h1.2v1.2h-1.2zM69.7 152.7h1.2v1.2h-1.2zM89.4 145.8h1.2v1.2h-1.2zM81.3 148h1.2v1.2h-1.2zM58.5 159h1.2v1.2h-1.2zM74.4 161.7h1.2v1.2h-1.2zM86.3 151.5h1.2v1.2h-1.2zM63.8 159.4h1.2v1.2h-1.2zM86.3 145.7h1.2v1.2h-1.2zM71.1 151h1.2v1.2h-1.2zM62.3 156.9h1.2v1.2h-1.2zM67.7 160.4h1.2v1.2h-1.2zM54.8 154.4h1.2v1.2h-1.2zM91.7 153.2h1.2v1.2h-1.2zM71.1 143.9h1.2v1.2h-1.2zM83.7 158.8h1.2v1.2h-1.2zM74.3 150.2h1.2v1.2h-1.2zM58.5 157.8h1.2v1.2h-1.2zM74.8 151.3h1.2v1.2h-1.2zM75 150.9h1.2v1.2h-1.2zM59.9 153.3h1.2v1.2h-1.2zM81.9 148.3h1.2v1.2h-1.2zM85.7 145.9h1.2v1.2h-1.2zM52.4 159.3h1.2v1.2h-1.2zM62.3 150.5h1.2v1.2h-1.2zM57.5 152.2h1.2v1.2h-1.2zM91.3 153.8h1.2v1.2h-1.2zM77.4 149.8h1.2v1.2h-1.2zM82.1 148.7h1.2v1.2h-1.2zM83.7 155.1h1.2v1.2h-1.2zM75.3 147h1.2v1.2h-1.2zM55.8 158.5h1.2v1.2h-1.2zM74.7 151.9h1.2v1.2h-1.2zM76.8 155h1.2v1.2h-1.2zM83.1 144.8h1.2v1.2h-1.2zM82 150.1h1.2v1.2h-1.2zM72.7 156.2h1.2v1.2h-1.2zM42 159.7h1.2v1.2h-1.2zM78.5 150.3h1.2v1.2h-1.2zM71.7 149.3h1.2v1.2h-1.2zM69.2 154.2h1.2v1.2h-1.2zM88.1 159.6h1.2v1.2h-1.2zM66.1 150.5h1.2v1.2h-1.2zM56.9 155.1h1.2v1.2h-1.2zM84.1 134.8h1.2v1.2h-1.2zM89.5 146h1.2v1.2h-1.2zM89.3 149.3h1.2v1.2h-1.2zM86.5 152.7h1.2v1.2h-1.2zM55.1 156.2h1.2v1.2h-1.2zM83.2 147.8h1.2v1.2h-1.2zM49.8 163.2h1.2v1.2h-1.2zM76.5 157.3h1.2v1.2h-1.2zM73.9 160.8h1.2v1.2h-1.2zM63.1 154.1h1.2v1.2h-1.2zM83.2 146.4h1.2v1.2h-1.2zM67.8 157.3h1.2v1.2h-1.2zM63.2 154.2h1.2v1.2h-1.2zM60.9 158.5h1.2v1.2h-1.2zM88.4 144.5h1.2v1.2h-1.2zM86.5 154.9h1.2v1.2h-1.2zM82.3 158.1h1.2v1.2h-1.2zM90.1 161.1h1.2v1.2h-1.2zM87.4 144.9h1.2v1.2h-1.2zM81.1 159.7h1.2v1.2h-1.2zM46.7 155.9h1.2v1.2h-1.2zM77.6 157.3h1.2v1.2h-1.2zM90.5 152h1.2v1.2h-1.2zM91.5 138.3h1.2v1.2h-1.2zM69.2 154.2h1.2v1.2h-1.2zM86.2 150h1.2v1.2h-1.2zM53.3 154h1.2v1.2h-1.2zM51.7 157.8h1.2v1.2h-1.2zM80.9 152.2h1.2v1.2h-1.2zM64.2 152.3h1.2v1.2h-1.2zM85.3 149.4h1.2v1.2h-1.2zM67.5 154.2h1.2v1.2h-1.2zM90.4 148.5h1.2v1.2h-1.2zM73.9 156.6h1.2v1.2h-1.2zM88.8 151.6h1.2v1.2h-1.2zM81.9 146.4h1.2v1.2h-1.2zM46.1 161.3h1.2v1.2h-1.2zM80.8 153.3h1.2v1.2h-1.2zM57.6 163h1.2v1.2h-1.2zM60.7 157.7h1.2v1.2h-1.2zM49.9 159.2h1.2v1.2h-1.2zM66.4 155.4h1.2v1.2h-1.2zM78.8 149.6h1.2v1.2h-1.2zM76.5 149.1h1.2v1.2h-1.2zM68.7 152.2h1.2v1.2h-1.2zM80.5 150.3h1.2v1.2h-1.2zM37.9 162.1h1.2v1.2h-1.2zM78 150.4h1.2v1.2h-1.2zM60.9 153h1.2v1.2h-1.2zM81 152.7h1.2v1.2h-1.2zM85.6 158.5h1.2v1.2h-1.2zM74.1 142.5h1.2v1.2h-1.2zM77.8 149.6h1.2v1.2h-1.2zM76.2 155.5h1.2v1.2h-1.2zM188 48h1.2v1.2h-1.2zM179.1 76.9h1.2v1.2h-1.2zM173.3 70.7h1.2v1.2h-1.2zM178 95.6h1.2v1.2h-1.2zM162.1 90.4h1.2v1.2h-1.2zM150.2 52.6h1.2v1.2h-1.2zM185.4 50.9h1.2v1.2h-1.2zM165.5 114.3h1.2v1.2h-1.2zM151.4 142.6h1.2v1.2h-1.2zM158.1 145.9h1.2v1.2h-1.2zM166.9 105.3h1.2v1.2h-1.2zM173.5 51.6h1.2v1.2h-1.2zM169.7 122.9h1.2v1.2h-1.2zM180.8 121.3h1.2v1.2h-1.2zM176.5 55.8h1.2v1.2h-1.2zM166 97h1.2v1.2h-1.2zM151.6 124.7h1.2v1.2h-1.2zM154 102.9h1.2v1.2h-1.2zM160.4 59.6h1.2v1.2h-1.2zM187.2 109h1.2v1.2h-1.2zM178.6 107.5h1.2v1.2h-1.2zM172 136.2h1.2v1.2h-1.2zM152.5 82.9h1.2v1.2h-1.2zM158.5 106.4h1.2v1.2h-1.2zM165.4 141.4h1.2v1.2h-1.2zM159.1 71.1h1.2v1.2h-1.2zM185.8 119.9h1.2v1.2h-1.2zM166.7 82.3h1.2v1.2h-1.2zM178.6 58.1h1.2v1.2h-1.2zM178.2 66.5h1.2v1.2h-1.2zM181.4 50h1.2v1.2h-1.2zM185.7 135.1h1.2v1.2h-1.2zM151 59.3h1.2v1.2h-1.2zM185.7 130.5h1.2v1.2h-1.2zM161.4 128.5h1.2v1.2h-1.2zM172.6 68.7h1.2v1.2h-1.2zM176.8 86.8h1.2v1.2h-1.2zM155.5 133.9h1.2v1.2h-1.2zM178 68.3h1.2v1.2h-1.2zM166.7 115.7h1.2v1.2h-1.2zM164.5 69.8h1.2v1.2h-1.2zM170.5 144.7h1.2v1.2h-1.2zM153.7 69.2h1.2v1.2h-1.2zM168.8 148.4h1.2v1.2h-1.2zM188.7 42.9h1.2v1.2h-1.2zM175 56.9h1.2v1.2h-1.2zM158.1 56.6h1.2v1.2h-1.2zM169.5 149.3h1.2v1.2h-1.2zM187.7 81.7h1.2v1.2h-1.2zM185 116.4h1.2v1.2h-1.2zM152.9 139.3h1.2v1.2h-1.2zM160.7 147.7h1.2v1.2h-1.2zM155.2 139.2h1.2v1.2h-1.2zM170 97.6h1.2v1.2h-1.2zM157.1 94.7h1.2v1.2h-1.2zM179.6 102.1h1.2v1.2h-1.2zM188.2 99.7h1.2v1.2h-1.2zM185.3 56.4h1.2v1.2h-1.2zM178.7 106.8h1.2v1.2h-1.2zM184.4 78.3h1.2v1.2h-1.2zM168.1 129.8h1.2v1.2h-1.2zM160 82.1h1.2v1.2h-1.2zM183 112h1.2v1.2h-1.2zM169.1 43.7h1.2v1.2h-1.2zM179.8 86.8h1.2v1.2h-1.2zM159.3 83.7h1.2v1.2h-1.2zM155.4 132.8h1.2v1.2h-1.2zM181.1 146.3h1.2v1.2h-1.2zM176.3 59.4h1.2v1.2h-1.2zM166.5 149.5h1.2v1.2h-1.2zM150 79h1.2v1.2h-1.2zM155.8 60.4h1.2v1.2h-1.2zM160.7 108.9h1.2v1.2h-1.2zM152.6 135.7h1.2v1.2h-1.2zM166.8 60.7h1.2v1.2h-1.2zM153.9 98.7h1.2v1.2h-1.2zM163.6 96.1h1.2v1.2h-1.2zM154.2 80.4h1.2v1.2h-1.2zM169.7 51.1h1.2v1.2h-1.2zM169.6 132.8h1.2v1.2h-1.2zM173 56h1.2v1.2h-1.2zM174.6 50.9h1.2v1.2h-1.2zM155.5 43h1.2v1.2h-1.2zM170.7 61.2h1.2v1.2h-1.2zM160.9 55h1.2v1.2h-1.2zM183.9 152.6h1.2v1.2h-1.2zM173 164.5h1.2v1.2h-1.2zM162 160.5h1.2v1.2h-1.2zM156.3 164.7h1.2v1.2h-1.2zM173.6 151.4h1.2v1.2h-1.2zM174.5 152.5h1.2v1.2h-1.2zM163.6 153.3h1.2v1.2h-1.2zM163.7 161.8h1.2v1.2h-1.2zM144 67.7h1.2v1.2h-1.2zM103.3 78.3h1.2v1.2h-1.2zM154.9 86.9h1.2v1.2h-1.2zM137.2 105.1h1.2v1.2h-1.2zM138.3 120.7h1.2v1.2h-1.2zM157.3 102.8h1.2v1.2h-1.2zM148.4 52.1h1.2v1.2h-1.2zM115.9 100.4h1.2v1.2h-1.2zM134.8 113.3h1.2v1.2h-1.2zM146.4 68.2h1.2v1.2h-1.2zM110.3 95.9h1.2v1.2h-1.2zM106.7 82.1h1.2v1.2h-1.2zM116.5 74.1h1.2v1.2h-1.2zM139.2 93.9h1.2v1.2h-1.2zM137 45.1h1.2v1.2h-1.2zM153.6 99.9h1.2v1.2h-1.2zM154.4 92.1h1.2v1.2h-1.2zM138.8 115.5h1.2v1.2h-1.2zM144.8 93.9h1.2v1.2h-1.2zM102.4 42h1.2v1.2h-1.2zM143 112h1.2v1.2h-1.2zM123.2 57.9h1.2v1.2h-1.2zM126.5 111.5h1.2v1.2h-1.2zM145.3 51.1h1.2v1.2h-1.2zM112.1 57.7h1.2v1.2h-1.2zM144.7 61.3h1.2v1.2h-1.2zM153.3 75h1.2v1.2h-1.2zM111.6 75.3h1.2v1.2h-1.2zM108.4 114.7h1.2v1.2h-1.2zM101.4 75.4h1.2v1.2h-1.2zM122.7 43.3h1.2v1.2h-1.2zM113.3 124.1h1.2v1.2h-1.2zM151.5 75.8h1.2v1.2h-1.2zM152.4 117.2h1.2v1.2h-1.2zM151.5 101.7h1.2v1.2h-1.2zM134 83.5h1.2v1.2h-1.2zM143 91.1h1.2v1.2h-1.2zM158.4 55.3h1.2v1.2h-1.2zM153.9 104.2h1.2v1.2h-1.2zM126.6 112.1h1.2v1.2h-1.2zM117.2 73.3h1.2v1.2h-1.2zM134.6 122.4h1.2v1.2h-1.2zM114.6 112h1.2v1.2h-1.2zM139.4 118.2h1.2v1.2h-1.2zM118 96.4h1.2v1.2h-1.2zM101.6 144.2h1.2v1.2h-1.2zM87.4 142h1.2v1.2h-1.2zM82.6 127.6h1.2v1.2h-1.2zM49.4 125.9h1.2v1.2h-1.2zM108.3 147.3h1.2v1.2h-1.2zM38.2 115.2h1.2v1.2h-1.2zM53 142.1h1.2v1.2h-1.2zM48.6 138.3h1.2v1.2h-1.2zM49.7 117h1.2v1.2h-1.2zM107.9 106.3h1.2v1.2h-1.2zM78.6 113.7h1.2v1.2h-1.2zM91.7 103.4h1.2v1.2h-1.2zM85.8 112.9h1.2v1.2h-1.2zM106.8 116.4h1.2v1.2h-1.2zM85.2 101.4h1.2v1.2h-1.2zM105.5 131.7h1.2v1.2h-1.2zM103.6 137.2h1.2v1.2h-1.2zM39.5 137.2h1.2v1.2h-1.2zM63.6 110h1.2v1.2h-1.2zM101.8 133.2h1.2v1.2h-1.2zM61.2 103.6h1.2v1.2h-1.2zM83.7 103h1.2v1.2h-1.2zM52.9 102.4h1.2v1.2h-1.2zM47.9 137.4h1.2v1.2h-1.2zM55.1 149.3h1.2v1.2h-1.2zM55.9 140h1.2v1.2h-1.2zM90.2 132.2h1.2v1.2h-1.2zM80.4 107h1.2v1.2h-1.2zM97.2 146.1h1.2v1.2h-1.2zM74.8 109.4h1.2v1.2h-1.2zM41.5 112.8h1.2v1.2h-1.2zM107.9 115.9h1.2v1.2h-1.2zM56 126.3h1.2v1.2h-1.2zM37.6 139.5h1.2v1.2h-1.2zM93.5 115.4h1.2v1.2h-1.2z" fill="#000"/>
<polygon points="111.4,43.7 156,46.3 163.5,70.3 151,114 116.2,133.5 102.2,123.2 124.5,71.6" fill="none" stroke="#000" stroke-width="1.1"/>
<polygon points="88,141.7 158.1,120.6 165.6,143.1 91,163.6" fill="none" stroke="#000" stroke-width="1.1"/>
<text x="96.05" y="68.90" font-size="12.73" font-family="Liberation Serif" font-weight="bold" textLength="13.79" lengthAdjust="spacingAndGlyphs">R1</text>
<text x="160.55" y="161.90" font-size="11.93" font-family="Liberation Serif" font-weight="bold" textLength="13.67" lengthAdjust="spacingAndGlyphs">R2</text>
<text x="361.90" y="20.30" font-size="11.70" font-family="Liberation Serif" font-weight="bold" textLength="22.77" lengthAdjust="spacingAndGlyphs">c-kit</text>
<text x="329.68" y="34.10" font-size="11.70" font-family="Liberation Serif" font-weight="bold" textLength="103.03" lengthAdjust="spacingAndGlyphs">(CD117, 95C3 mAb)</text>
<polyline points="309.5,40.5 461.5,40.5 461.5,150.6" fill="none" stroke="#000" stroke-width="1.1"/>
<line x1="309.5" y1="40" x2="309.5" y2="151.4" stroke="#000" stroke-width="1.3"/>
<line x1="308.8" y1="150.6" x2="462.1" y2="150.6" stroke="#000" stroke-width="1.8"/>
<path d="M309.6 150.6L303.4 150.6M309.6 146.3L305.6 146.3M309.6 142L305.6 142M309.6 137.6L305.6 137.6M309.6 133.3L305.6 133.3M309.6 129L303.4 129M309.6 124.7L305.6 124.7M309.6 120.4L305.6 120.4M309.6 116L305.6 116M309.6 111.7L305.6 111.7M309.6 107.4L303.4 107.4M309.6 103.1L305.6 103.1M309.6 98.8L305.6 98.8M309.6 94.4L305.6 94.4M309.6 90.1L305.6 90.1M309.6 85.8L303.4 85.8M309.6 81.5L305.6 81.5M309.6 77.2L305.6 77.2M309.6 72.8L305.6 72.8M309.6 68.5L305.6 68.5M309.6 64.2L303.4 64.2M309.6 59.9L305.6 59.9M309.6 55.6L305.6 55.6M309.6 51.2L305.6 51.2M309.6 46.9L305.6 46.9M309.6 42.6L303.4 42.6M311 150.6L311 158.1M322.3 150.6L322.3 154.4M329 150.6L329 154.4M333.7 150.6L333.7 154.4M337.3 150.6L337.3 154.4M340.3 150.6L340.3 154.4M342.8 150.6L342.8 154.4M345 150.6L345 154.4M346.9 150.6L346.9 154.4M348.6 150.6L348.6 158.1M360 150.6L360 154.4M366.6 150.6L366.6 154.4M371.3 150.6L371.3 154.4M374.9 150.6L374.9 154.4M377.9 150.6L377.9 154.4M380.4 150.6L380.4 154.4M382.6 150.6L382.6 154.4M384.5 150.6L384.5 154.4M386.2 150.6L386.2 158.1M397.6 150.6L397.6 154.4M404.2 150.6L404.2 154.4M408.9 150.6L408.9 154.4M412.5 150.6L412.5 154.4M415.5 150.6L415.5 154.4M418 150.6L418 154.4M420.2 150.6L420.2 154.4M422.2 150.6L422.2 154.4M423.9 150.6L423.9 158.1M435.2 150.6L435.2 154.4M441.8 150.6L441.8 154.4M446.5 150.6L446.5 154.4M450.2 150.6L450.2 154.4M453.2 150.6L453.2 154.4M455.7 150.6L455.7 154.4M457.9 150.6L457.9 154.4M459.8 150.6L459.8 154.4M461.5 150.6L461.5 158.1" stroke="#000" stroke-width="1.2" fill="none"/>
<text transform="translate(297.60 153.69) rotate(-90)" x="0" y="0" font-size="10.45" font-family="Liberation Sans" stroke="#000" stroke-width="0.4" textLength="6.17" lengthAdjust="spacingAndGlyphs">0</text>
<text transform="translate(297.60 135.11) rotate(-90)" x="0" y="0" font-size="10.45" font-family="Liberation Sans" stroke="#000" stroke-width="0.4" textLength="11.81" lengthAdjust="spacingAndGlyphs">10</text>
<text transform="translate(297.60 113.22) rotate(-90)" x="0" y="0" font-size="10.45" font-family="Liberation Sans" stroke="#000" stroke-width="0.4" textLength="11.51" lengthAdjust="spacingAndGlyphs">20</text>
<text transform="translate(297.60 91.49) rotate(-90)" x="0" y="0" font-size="10.45" font-family="Liberation Sans" stroke="#000" stroke-width="0.4" textLength="11.38" lengthAdjust="spacingAndGlyphs">30</text>
<text transform="translate(297.60 69.72) rotate(-90)" x="0" y="0" font-size="10.45" font-family="Liberation Sans" stroke="#000" stroke-width="0.4" textLength="11.21" lengthAdjust="spacingAndGlyphs">40</text>
<text transform="translate(297.60 48.31) rotate(-90)" x="0" y="0" font-size="10.45" font-family="Liberation Sans" stroke="#000" stroke-width="0.4" textLength="11.40" lengthAdjust="spacingAndGlyphs">50</text>
<text transform="translate(283.09 117.64) rotate(-90)" x="0" y="0" font-size="11.16" font-family="Liberation Sans" stroke="#000" stroke-width="0.4" textLength="40.51" lengthAdjust="spacingAndGlyphs">Counts</text>
<text x="300.64" y="172.61" font-size="14.12" font-family="Liberation Sans" stroke="#000" stroke-width="0.4" textLength="12.54" lengthAdjust="spacingAndGlyphs">10</text>
<text x="314.50" y="165.61" font-size="13.77" font-family="Liberation Sans" stroke="#000" stroke-width="0.4" textLength="6.98" lengthAdjust="spacingAndGlyphs">0</text>
<text x="338.27" y="172.61" font-size="14.12" font-family="Liberation Sans" stroke="#000" stroke-width="0.4" textLength="12.54" lengthAdjust="spacingAndGlyphs">10</text>
<text x="351.57" y="165.75" font-size="14.17" font-family="Liberation Sans" stroke="#000" stroke-width="0.4" textLength="7.72" lengthAdjust="spacingAndGlyphs">1</text>
<text x="375.89" y="172.61" font-size="14.12" font-family="Liberation Sans" stroke="#000" stroke-width="0.4" textLength="12.54" lengthAdjust="spacingAndGlyphs">10</text>
<text x="389.59" y="165.75" font-size="13.97" font-family="Liberation Sans" stroke="#000" stroke-width="0.4" textLength="7.32" lengthAdjust="spacingAndGlyphs">2</text>
<text x="413.52" y="172.61" font-size="14.12" font-family="Liberation Sans" stroke="#000" stroke-width="0.4" textLength="12.54" lengthAdjust="spacingAndGlyphs">10</text>
<text x="427.39" y="165.61" font-size="13.77" font-family="Liberation Sans" stroke="#000" stroke-width="0.4" textLength="7.04" lengthAdjust="spacingAndGlyphs">3</text>
<text x="451.14" y="172.61" font-size="14.12" font-family="Liberation Sans" stroke="#000" stroke-width="0.4" textLength="12.54" lengthAdjust="spacingAndGlyphs">10</text>
<text x="465.24" y="165.75" font-size="14.17" font-family="Liberation Sans" stroke="#000" stroke-width="0.4" textLength="6.62" lengthAdjust="spacingAndGlyphs">4</text>
<text x="350.31" y="186.34" font-size="13.73" font-family="Liberation Sans" stroke="#000" stroke-width="0.4" textLength="65.81" lengthAdjust="spacingAndGlyphs">FL1-Height</text>
<polyline points="311,148.5 314.5,145.4 317.5,142.3 321.4,140.8 322.9,138.5 323.3,133.1 324.1,130 324.8,126.2 326,121.5 327.5,117.7 327.9,110 328.8,95 329.6,82 329.9,77.4 330.9,74.1 332.5,72.2 333.2,63.4 334.5,54.5 335.8,57.8 336.1,65 337.4,67 338.1,72.8 339.1,74.1 339.7,82 340.9,92 342.9,106.5 344.6,118 347,129.6 349.2,133 351.5,137 353.8,141 357.3,146.3 362,147 365.4,148 370,149.5" fill="none" stroke="#000" stroke-width="1.2" stroke-linejoin="miter" stroke-miterlimit="2"/>
<polyline points="310.8,150 310.8,124 311.6,124 311.6,147.6 326.8,147.6 328.3,146.2 331.4,142.3 332.9,139.2 334.1,133.1 334.8,128.5 335.6,123.8 336.4,120.8 337.2,118.5 338.3,114.6 338.7,110 339.2,104 340.3,98 341.2,92 341.3,75 341.5,61 341.8,56 347,56 348.3,58 349.3,61 349.9,72.2 350.8,72.8 351.4,82 352.7,88.5 353.6,110 354.4,121.5 356,129.6 357.9,135.4 360.2,141.3 366.5,143.6 373.5,145.8 382.7,146.3 384,149.6" fill="none" stroke="#000" stroke-width="2.3" stroke-linejoin="miter" stroke-miterlimit="2"/>
<polyline points="21.5,253.5 149.5,253.5 149.5,353" fill="none" stroke="#000" stroke-width="1.1"/>
<line x1="21.5" y1="253" x2="21.5" y2="353.5" stroke="#000" stroke-width="1.2"/>
<line x1="20.4" y1="353" x2="150.4" y2="353" stroke="#000" stroke-width="1.8"/>
<path d="M21 352.5L15.6 352.5M21 348.8L17.8 348.8M21 345.1L17.8 345.1M21 341.3L17.8 341.3M21 337.6L17.8 337.6M21 333.9L15.6 333.9M21 330.2L17.8 330.2M21 326.5L17.8 326.5M21 322.7L17.8 322.7M21 319L17.8 319M21 315.3L15.6 315.3M21 311.6L17.8 311.6M21 307.9L17.8 307.9M21 304.1L17.8 304.1M21 300.4L17.8 300.4M21 296.7L15.6 296.7M21 293L17.8 293M21 289.3L17.8 289.3M21 285.5L17.8 285.5M21 281.8L17.8 281.8M21 278.1L15.6 278.1M21 274.4L17.8 274.4M21 270.7L17.8 270.7M21 266.9L17.8 266.9M21 263.2L17.8 263.2M21 259.5L15.6 259.5M21 255.8L17.8 255.8M21 353L21 358.5M30.7 353L30.7 356.2M36.4 353L36.4 356.2M40.4 353L40.4 356.2M43.5 353L43.5 356.2M46.1 353L46.1 356.2M48.2 353L48.2 356.2M50.1 353L50.1 356.2M51.7 353L51.7 356.2M53.2 353L53.2 358.5M62.9 353L62.9 356.2M68.6 353L68.6 356.2M72.6 353L72.6 356.2M75.7 353L75.7 356.2M78.3 353L78.3 356.2M80.4 353L80.4 356.2M82.3 353L82.3 356.2M83.9 353L83.9 356.2M85.4 353L85.4 358.5M95.1 353L95.1 356.2M100.8 353L100.8 356.2M104.8 353L104.8 356.2M107.9 353L107.9 356.2M110.5 353L110.5 356.2M112.6 353L112.6 356.2M114.5 353L114.5 356.2M116.1 353L116.1 356.2M117.6 353L117.6 358.5M127.3 353L127.3 356.2M133 353L133 356.2M137 353L137 356.2M140.1 353L140.1 356.2M142.7 353L142.7 356.2M144.8 353L144.8 356.2M146.7 353L146.7 356.2M148.3 353L148.3 356.2M149.8 353L149.8 358.5" stroke="#000" stroke-width="1" fill="none"/>
<text transform="translate(9.89 266.84) rotate(-90)" x="0" y="0" font-size="10.59" font-family="Liberation Sans" stroke="#000" stroke-width="0.4" textLength="16.32" lengthAdjust="spacingAndGlyphs">150</text>
<text transform="translate(9.89 354.54) rotate(-90)" x="0" y="0" font-size="10.59" font-family="Liberation Sans" stroke="#000" stroke-width="0.4" textLength="6.05" lengthAdjust="spacingAndGlyphs">0</text>
<text x="12.82" y="372.77" font-size="13.42" font-family="Liberation Sans" stroke="#000" stroke-width="0.4" textLength="11.37" lengthAdjust="spacingAndGlyphs">10</text>
<text x="24.70" y="366.58" font-size="12.15" font-family="Liberation Sans" stroke="#000" stroke-width="0.4" textLength="5.58" lengthAdjust="spacingAndGlyphs">0</text>
<text x="45.02" y="372.77" font-size="13.42" font-family="Liberation Sans" stroke="#000" stroke-width="0.4" textLength="11.37" lengthAdjust="spacingAndGlyphs">10</text>
<text x="56.46" y="366.70" font-size="12.50" font-family="Liberation Sans" stroke="#000" stroke-width="0.4" textLength="6.18" lengthAdjust="spacingAndGlyphs">1</text>
<text x="77.22" y="372.77" font-size="13.42" font-family="Liberation Sans" stroke="#000" stroke-width="0.4" textLength="11.37" lengthAdjust="spacingAndGlyphs">10</text>
<text x="88.97" y="366.70" font-size="12.32" font-family="Liberation Sans" stroke="#000" stroke-width="0.4" textLength="5.85" lengthAdjust="spacingAndGlyphs">2</text>
<text x="109.42" y="372.77" font-size="13.42" font-family="Liberation Sans" stroke="#000" stroke-width="0.4" textLength="11.37" lengthAdjust="spacingAndGlyphs">10</text>
<text x="121.32" y="366.58" font-size="12.15" font-family="Liberation Sans" stroke="#000" stroke-width="0.4" textLength="5.63" lengthAdjust="spacingAndGlyphs">3</text>
<text x="141.62" y="372.77" font-size="13.42" font-family="Liberation Sans" stroke="#000" stroke-width="0.4" textLength="11.37" lengthAdjust="spacingAndGlyphs">10</text>
<text x="153.69" y="366.70" font-size="12.50" font-family="Liberation Sans" stroke="#000" stroke-width="0.4" textLength="5.30" lengthAdjust="spacingAndGlyphs">4</text>
<polyline points="23.6,333 24.5,345 26.3,345.7 29,325.8 30.8,307.8 31.7,286 33.5,268 35.4,259 37.2,271.7 39,286 40.8,304 42.6,325.8 44.4,345.7 46.2,350 48.9,349 50,350.6 100,350.6" fill="none" stroke="#000" stroke-width="1.1" stroke-linejoin="miter" stroke-miterlimit="2"/>
<polyline points="21.5,352 52.5,351.6 57.9,345.7 61.5,334.9 65.1,322.2 67.9,313.2 70.6,308.7 72.4,307.4 74.2,311.4 76.9,318.6 79.6,329.5 83.2,336.7 88.6,342.1 90,342.9 94.6,344 98.1,345.2 101.5,351.2 149.5,351.8" fill="none" stroke="#000" stroke-width="2.3" stroke-linejoin="miter" stroke-miterlimit="2"/>
<text x="67.12" y="221.80" font-size="11.70" font-family="Liberation Serif" font-weight="bold" textLength="29.49" lengthAdjust="spacingAndGlyphs">CD18</text>
<text x="17" y="236" font-size="11.7" font-family="Liberation Serif" font-weight="bold" textLength="133.8" lengthAdjust="spacingAndGlyphs">(β<tspan font-size="8" dy="2">2</tspan><tspan dy="-2"> Integrin, TS1/18 mAb)</tspan></text>
<polyline points="200.5,254.5 330.5,254.5 330.5,354.5" fill="none" stroke="#000" stroke-width="1.1"/>
<line x1="200.5" y1="254" x2="200.5" y2="355" stroke="#000" stroke-width="1.2"/>
<line x1="199.9" y1="354.5" x2="330.8" y2="354.5" stroke="#000" stroke-width="1.8"/>
<path d="M200.5 354L195.1 354M200.5 350.3L197.3 350.3M200.5 346.6L197.3 346.6M200.5 342.8L197.3 342.8M200.5 339.1L197.3 339.1M200.5 335.4L195.1 335.4M200.5 331.7L197.3 331.7M200.5 328L197.3 328M200.5 324.2L197.3 324.2M200.5 320.5L197.3 320.5M200.5 316.8L195.1 316.8M200.5 313.1L197.3 313.1M200.5 309.4L197.3 309.4M200.5 305.6L197.3 305.6M200.5 301.9L197.3 301.9M200.5 298.2L195.1 298.2M200.5 294.5L197.3 294.5M200.5 290.8L197.3 290.8M200.5 287L197.3 287M200.5 283.3L197.3 283.3M200.5 279.6L195.1 279.6M200.5 275.9L197.3 275.9M200.5 272.2L197.3 272.2M200.5 268.4L197.3 268.4M200.5 264.7L197.3 264.7M200.5 261L195.1 261M200.5 257.3L197.3 257.3M200.5 354.5L200.5 360M210.3 354.5L210.3 357.7M216 354.5L216 357.7M220 354.5L220 357.7M223.2 354.5L223.2 357.7M225.7 354.5L225.7 357.7M227.9 354.5L227.9 357.7M229.8 354.5L229.8 357.7M231.4 354.5L231.4 357.7M232.9 354.5L232.9 360M242.7 354.5L242.7 357.7M248.4 354.5L248.4 357.7M252.4 354.5L252.4 357.7M255.6 354.5L255.6 357.7M258.2 354.5L258.2 357.7M260.3 354.5L260.3 357.7M262.2 354.5L262.2 357.7M263.9 354.5L263.9 357.7M265.4 354.5L265.4 360M275.1 354.5L275.1 357.7M280.8 354.5L280.8 357.7M284.9 354.5L284.9 357.7M288 354.5L288 357.7M290.6 354.5L290.6 357.7M292.8 354.5L292.8 357.7M294.6 354.5L294.6 357.7M296.3 354.5L296.3 357.7M297.8 354.5L297.8 360M307.5 354.5L307.5 357.7M313.2 354.5L313.2 357.7M317.3 354.5L317.3 357.7M320.4 354.5L320.4 357.7M323 354.5L323 357.7M325.2 354.5L325.2 357.7M327.1 354.5L327.1 357.7M328.7 354.5L328.7 357.7M330.2 354.5L330.2 360" stroke="#000" stroke-width="1" fill="none"/>
<text transform="translate(188.89 268.34) rotate(-90)" x="0" y="0" font-size="10.59" font-family="Liberation Sans" stroke="#000" stroke-width="0.4" textLength="16.32" lengthAdjust="spacingAndGlyphs">150</text>
<text transform="translate(188.89 356.54) rotate(-90)" x="0" y="0" font-size="10.59" font-family="Liberation Sans" stroke="#000" stroke-width="0.4" textLength="6.05" lengthAdjust="spacingAndGlyphs">0</text>
<text x="192.32" y="374.27" font-size="13.42" font-family="Liberation Sans" stroke="#000" stroke-width="0.4" textLength="11.37" lengthAdjust="spacingAndGlyphs">10</text>
<text x="204.20" y="368.08" font-size="12.15" font-family="Liberation Sans" stroke="#000" stroke-width="0.4" textLength="5.58" lengthAdjust="spacingAndGlyphs">0</text>
<text x="224.75" y="374.27" font-size="13.42" font-family="Liberation Sans" stroke="#000" stroke-width="0.4" textLength="11.37" lengthAdjust="spacingAndGlyphs">10</text>
<text x="236.18" y="368.20" font-size="12.50" font-family="Liberation Sans" stroke="#000" stroke-width="0.4" textLength="6.18" lengthAdjust="spacingAndGlyphs">1</text>
<text x="257.17" y="374.27" font-size="13.42" font-family="Liberation Sans" stroke="#000" stroke-width="0.4" textLength="11.37" lengthAdjust="spacingAndGlyphs">10</text>
<text x="268.92" y="368.20" font-size="12.32" font-family="Liberation Sans" stroke="#000" stroke-width="0.4" textLength="5.85" lengthAdjust="spacingAndGlyphs">2</text>
<text x="289.60" y="374.27" font-size="13.42" font-family="Liberation Sans" stroke="#000" stroke-width="0.4" textLength="11.37" lengthAdjust="spacingAndGlyphs">10</text>
<text x="301.49" y="368.08" font-size="12.15" font-family="Liberation Sans" stroke="#000" stroke-width="0.4" textLength="5.63" lengthAdjust="spacingAndGlyphs">3</text>
<text x="322.02" y="374.27" font-size="13.42" font-family="Liberation Sans" stroke="#000" stroke-width="0.4" textLength="11.37" lengthAdjust="spacingAndGlyphs">10</text>
<text x="334.09" y="368.20" font-size="12.50" font-family="Liberation Sans" stroke="#000" stroke-width="0.4" textLength="5.30" lengthAdjust="spacingAndGlyphs">4</text>
<polyline points="202.5,335 204.3,347.7 207,333.3 208.8,311.6 210.3,288.1 212.1,270 214.6,261 216.1,271.9 217.9,288.1 219.7,306.2 221.5,327.8 223.3,345.9 225.1,352.2 229.6,350.4 231,352.4 263,352.4" fill="none" stroke="#000" stroke-width="1.1" stroke-linejoin="miter" stroke-miterlimit="2"/>
<polyline points="200.5,353.4 217.9,353 220.6,350.8 224,352 226.9,345.9 229.6,340.5 232.3,331.5 234.1,324.2 235.9,317 238.6,314.3 241,310.7 242.2,314.3 244,320.6 245.9,326 248.6,329.7 251.3,333.3 254,340.5 257.6,345 261.2,345.9 264.8,345.5 267.5,347.7 272,349.5 278,351.5 330,352.8" fill="none" stroke="#000" stroke-width="2.3" stroke-linejoin="miter" stroke-miterlimit="2"/>
<text x="227.93" y="223.80" font-size="11.70" font-family="Liberation Serif" font-weight="bold" textLength="66.87" lengthAdjust="spacingAndGlyphs">CD11a/CD18</text>
<text x="210.28" y="237.50" font-size="11.70" font-family="Liberation Serif" font-weight="bold" textLength="109.63" lengthAdjust="spacingAndGlyphs">(LFA-1, TS1/22 mAb)</text>
<polyline points="372.5,254.5 502.5,254.5 502.5,354.5" fill="none" stroke="#000" stroke-width="1.1"/>
<line x1="372.5" y1="254" x2="372.5" y2="355" stroke="#000" stroke-width="1.2"/>
<line x1="371.4" y1="354.5" x2="502.6" y2="354.5" stroke="#000" stroke-width="1.8"/>
<path d="M372 354L366.6 354M372 350.3L368.8 350.3M372 346.5L368.8 346.5M372 342.8L368.8 342.8M372 339L368.8 339M372 335.3L366.6 335.3M372 331.6L368.8 331.6M372 327.8L368.8 327.8M372 324.1L368.8 324.1M372 320.3L368.8 320.3M372 316.6L366.6 316.6M372 312.9L368.8 312.9M372 309.1L368.8 309.1M372 305.4L368.8 305.4M372 301.6L368.8 301.6M372 297.9L366.6 297.9M372 294.2L368.8 294.2M372 290.4L368.8 290.4M372 286.7L368.8 286.7M372 282.9L368.8 282.9M372 279.2L366.6 279.2M372 275.5L368.8 275.5M372 271.7L368.8 271.7M372 268L368.8 268M372 264.2L368.8 264.2M372 260.5L366.6 260.5M372 256.8L368.8 256.8M372 354.5L372 360M381.8 354.5L381.8 357.7M387.5 354.5L387.5 357.7M391.6 354.5L391.6 357.7M394.7 354.5L394.7 357.7M397.3 354.5L397.3 357.7M399.5 354.5L399.5 357.7M401.4 354.5L401.4 357.7M403 354.5L403 357.7M404.5 354.5L404.5 360M414.3 354.5L414.3 357.7M420 354.5L420 357.7M424.1 354.5L424.1 357.7M427.2 354.5L427.2 357.7M429.8 354.5L429.8 357.7M432 354.5L432 357.7M433.9 354.5L433.9 357.7M435.5 354.5L435.5 357.7M437 354.5L437 360M446.8 354.5L446.8 357.7M452.5 354.5L452.5 357.7M456.6 354.5L456.6 357.7M459.7 354.5L459.7 357.7M462.3 354.5L462.3 357.7M464.5 354.5L464.5 357.7M466.4 354.5L466.4 357.7M468 354.5L468 357.7M469.5 354.5L469.5 360M479.3 354.5L479.3 357.7M485 354.5L485 357.7M489.1 354.5L489.1 357.7M492.2 354.5L492.2 357.7M494.8 354.5L494.8 357.7M497 354.5L497 357.7M498.9 354.5L498.9 357.7M500.5 354.5L500.5 357.7M502 354.5L502 360" stroke="#000" stroke-width="1" fill="none"/>
<text transform="translate(361.19 267.84) rotate(-90)" x="0" y="0" font-size="10.59" font-family="Liberation Sans" stroke="#000" stroke-width="0.4" textLength="16.32" lengthAdjust="spacingAndGlyphs">150</text>
<text transform="translate(361.19 355.74) rotate(-90)" x="0" y="0" font-size="10.59" font-family="Liberation Sans" stroke="#000" stroke-width="0.4" textLength="6.05" lengthAdjust="spacingAndGlyphs">0</text>
<text x="363.82" y="374.27" font-size="13.42" font-family="Liberation Sans" stroke="#000" stroke-width="0.4" textLength="11.37" lengthAdjust="spacingAndGlyphs">10</text>
<text x="375.70" y="368.08" font-size="12.15" font-family="Liberation Sans" stroke="#000" stroke-width="0.4" textLength="5.58" lengthAdjust="spacingAndGlyphs">0</text>
<text x="396.32" y="374.27" font-size="13.42" font-family="Liberation Sans" stroke="#000" stroke-width="0.4" textLength="11.37" lengthAdjust="spacingAndGlyphs">10</text>
<text x="407.76" y="368.20" font-size="12.50" font-family="Liberation Sans" stroke="#000" stroke-width="0.4" textLength="6.18" lengthAdjust="spacingAndGlyphs">1</text>
<text x="428.82" y="374.27" font-size="13.42" font-family="Liberation Sans" stroke="#000" stroke-width="0.4" textLength="11.37" lengthAdjust="spacingAndGlyphs">10</text>
<text x="440.57" y="368.20" font-size="12.32" font-family="Liberation Sans" stroke="#000" stroke-width="0.4" textLength="5.85" lengthAdjust="spacingAndGlyphs">2</text>
<text x="461.32" y="374.27" font-size="13.42" font-family="Liberation Sans" stroke="#000" stroke-width="0.4" textLength="11.37" lengthAdjust="spacingAndGlyphs">10</text>
<text x="473.22" y="368.08" font-size="12.15" font-family="Liberation Sans" stroke="#000" stroke-width="0.4" textLength="5.63" lengthAdjust="spacingAndGlyphs">3</text>
<text x="493.82" y="374.27" font-size="13.42" font-family="Liberation Sans" stroke="#000" stroke-width="0.4" textLength="11.37" lengthAdjust="spacingAndGlyphs">10</text>
<text x="505.89" y="368.20" font-size="12.50" font-family="Liberation Sans" stroke="#000" stroke-width="0.4" textLength="5.30" lengthAdjust="spacingAndGlyphs">4</text>
<polyline points="372.7,340.5 374.5,345.9 377.2,331.5 379,315.2 380.5,297.1 381.7,279.1 383,268.3 384.4,263.2 385.9,270 387.2,282.7 388.6,297.1 390.2,315.2 391.7,333.3 393.1,346.8 394.4,350.4 490,351.6" fill="none" stroke="#000" stroke-width="1.1" stroke-linejoin="miter" stroke-miterlimit="2"/>
<polyline points="372.5,352.5 373.6,351.3 388,349.5 393.5,347.7 398.9,345.9 402.5,342.3 405.2,336.9 407,333.3 408.8,329.7 411.5,322.4 414.2,316.1 417,313.4 418.4,311.6 420.6,314.3 423.3,320.6 426,326 427.8,331.5 429.6,338.7 432.3,345.9 435,349.5 438.6,350.4 450,351.3 470,352.5 502,353" fill="none" stroke="#000" stroke-width="2.3" stroke-linejoin="miter" stroke-miterlimit="2"/>
<text x="398.37" y="217.60" font-size="11.70" font-family="Liberation Serif" font-weight="bold" textLength="56.99" lengthAdjust="spacingAndGlyphs">α4-integrin</text>
<text x="377.58" y="235.60" font-size="11.70" font-family="Liberation Serif" font-weight="bold" textLength="108.83" lengthAdjust="spacingAndGlyphs">(CD49d, HP2.1 mAb)</text>
<polyline points="23.5,432.5 152.5,432.5 152.5,533.6" fill="none" stroke="#000" stroke-width="1.1"/>
<line x1="23.5" y1="432" x2="23.5" y2="534.1" stroke="#000" stroke-width="1.2"/>
<path d="M23.6 533.1L18.2 533.1M23.6 529.3L20.4 529.3M23.6 525.6L20.4 525.6M23.6 521.8L20.4 521.8M23.6 518L20.4 518M23.6 514.3L18.2 514.3M23.6 510.5L20.4 510.5M23.6 506.8L20.4 506.8M23.6 503L20.4 503M23.6 499.2L20.4 499.2M23.6 495.5L18.2 495.5M23.6 491.7L20.4 491.7M23.6 487.9L20.4 487.9M23.6 484.2L20.4 484.2M23.6 480.4L20.4 480.4M23.6 476.6L18.2 476.6M23.6 472.9L20.4 472.9M23.6 469.1L20.4 469.1M23.6 465.3L20.4 465.3M23.6 461.6L20.4 461.6M23.6 457.8L18.2 457.8M23.6 454.1L20.4 454.1M23.6 450.3L20.4 450.3M23.6 446.5L20.4 446.5M23.6 442.8L20.4 442.8M23.6 439L18.2 439M23.6 435.2L20.4 435.2M23.6 536.1L23.6 541.6M33.3 536.1L33.3 539.3M38.9 536.1L38.9 539.3M42.9 536.1L42.9 539.3M46 536.1L46 539.3M48.6 536.1L48.6 539.3M50.7 536.1L50.7 539.3M52.6 536.1L52.6 539.3M54.2 536.1L54.2 539.3M55.7 536.1L55.7 541.6M65.4 536.1L65.4 539.3M71 536.1L71 539.3M75 536.1L75 539.3M78.1 536.1L78.1 539.3M80.7 536.1L80.7 539.3M82.8 536.1L82.8 539.3M84.7 536.1L84.7 539.3M86.3 536.1L86.3 539.3M87.8 536.1L87.8 541.6M97.5 536.1L97.5 539.3M103.1 536.1L103.1 539.3M107.1 536.1L107.1 539.3M110.2 536.1L110.2 539.3M112.8 536.1L112.8 539.3M114.9 536.1L114.9 539.3M116.8 536.1L116.8 539.3M118.4 536.1L118.4 539.3M119.9 536.1L119.9 541.6M129.6 536.1L129.6 539.3M135.2 536.1L135.2 539.3M139.2 536.1L139.2 539.3M142.3 536.1L142.3 539.3M144.9 536.1L144.9 539.3M147 536.1L147 539.3M148.9 536.1L148.9 539.3M150.5 536.1L150.5 539.3M152 536.1L152 541.6" stroke="#000" stroke-width="1" fill="none"/>
<text transform="translate(12.39 446.34) rotate(-90)" x="0" y="0" font-size="10.59" font-family="Liberation Sans" stroke="#000" stroke-width="0.4" textLength="16.32" lengthAdjust="spacingAndGlyphs">150</text>
<text transform="translate(12.39 536.04) rotate(-90)" x="0" y="0" font-size="10.59" font-family="Liberation Sans" stroke="#000" stroke-width="0.4" textLength="6.05" lengthAdjust="spacingAndGlyphs">0</text>
<text x="15.42" y="554.17" font-size="13.42" font-family="Liberation Sans" stroke="#000" stroke-width="0.4" textLength="11.37" lengthAdjust="spacingAndGlyphs">10</text>
<text x="27.30" y="547.98" font-size="12.15" font-family="Liberation Sans" stroke="#000" stroke-width="0.4" textLength="5.58" lengthAdjust="spacingAndGlyphs">0</text>
<text x="47.52" y="554.17" font-size="13.42" font-family="Liberation Sans" stroke="#000" stroke-width="0.4" textLength="11.37" lengthAdjust="spacingAndGlyphs">10</text>
<text x="58.96" y="548.10" font-size="12.50" font-family="Liberation Sans" stroke="#000" stroke-width="0.4" textLength="6.18" lengthAdjust="spacingAndGlyphs">1</text>
<text x="79.62" y="554.17" font-size="13.42" font-family="Liberation Sans" stroke="#000" stroke-width="0.4" textLength="11.37" lengthAdjust="spacingAndGlyphs">10</text>
<text x="91.37" y="548.10" font-size="12.32" font-family="Liberation Sans" stroke="#000" stroke-width="0.4" textLength="5.85" lengthAdjust="spacingAndGlyphs">2</text>
<text x="111.72" y="554.17" font-size="13.42" font-family="Liberation Sans" stroke="#000" stroke-width="0.4" textLength="11.37" lengthAdjust="spacingAndGlyphs">10</text>
<text x="123.62" y="547.98" font-size="12.15" font-family="Liberation Sans" stroke="#000" stroke-width="0.4" textLength="5.63" lengthAdjust="spacingAndGlyphs">3</text>
<text x="143.82" y="554.17" font-size="13.42" font-family="Liberation Sans" stroke="#000" stroke-width="0.4" textLength="11.37" lengthAdjust="spacingAndGlyphs">10</text>
<text x="155.89" y="548.10" font-size="12.50" font-family="Liberation Sans" stroke="#000" stroke-width="0.4" textLength="5.30" lengthAdjust="spacingAndGlyphs">4</text>
<polyline points="23.7,527.4 25.6,525.5 27.5,514.3 29.4,495.6 31.2,476.8 31.8,465.7 32.6,464 33.1,447 33.9,445.3 36,435.5 36.9,440.2 37.3,464 38.7,470 40.2,478 41.5,490 42.7,513.6 44.7,525.8 46,531.1 48.1,531.8 51.4,529.8 53.5,532.5 64.2,533.2 100,533.4" fill="none" stroke="#000" stroke-width="1.1" stroke-linejoin="miter" stroke-miterlimit="2"/>
<polyline points="23.5,533.2 27.5,531.2 30.3,523.7 32.2,508.7 34,486.2 35.9,463.7 37.3,452 37.7,442.2 40.3,442.8 41.6,445.3 42,457.2 42.9,458.1 43.3,470.9 44.1,472.6 44.7,500.2 46.7,511 48.1,519 50.8,524.4 54.8,527.1 57.5,528.5 60.9,526.4 63.6,527.1 66.9,529.8 70.3,531.5 75,532.5 80.4,533.2 152,533.6" fill="none" stroke="#000" stroke-width="2.3" stroke-linejoin="miter" stroke-miterlimit="2"/>
<text x="59.90" y="398.50" font-size="11.70" font-family="Liberation Serif" font-weight="bold" textLength="47.36" lengthAdjust="spacingAndGlyphs">L-selectin</text>
<text x="20.38" y="412.30" font-size="11.70" font-family="Liberation Serif" font-weight="bold" textLength="125.93" lengthAdjust="spacingAndGlyphs">(CD62L, LAM1.14 mAb)</text>
<polyline points="204.5,432.5 333.5,432.5 333.5,534" fill="none" stroke="#000" stroke-width="1.1"/>
<line x1="204.5" y1="432" x2="204.5" y2="534.5" stroke="#000" stroke-width="1.2"/>
<line x1="203.4" y1="534" x2="334.1" y2="534" stroke="#000" stroke-width="1.8"/>
<path d="M204 533.5L198.6 533.5M204 529.7L200.8 529.7M204 525.9L200.8 525.9M204 522.2L200.8 522.2M204 518.4L200.8 518.4M204 514.6L198.6 514.6M204 510.8L200.8 510.8M204 507L200.8 507M204 503.3L200.8 503.3M204 499.5L200.8 499.5M204 495.7L198.6 495.7M204 491.9L200.8 491.9M204 488.1L200.8 488.1M204 484.4L200.8 484.4M204 480.6L200.8 480.6M204 476.8L198.6 476.8M204 473L200.8 473M204 469.2L200.8 469.2M204 465.5L200.8 465.5M204 461.7L200.8 461.7M204 457.9L198.6 457.9M204 454.1L200.8 454.1M204 450.3L200.8 450.3M204 446.6L200.8 446.6M204 442.8L200.8 442.8M204 439L198.6 439M204 435.2L200.8 435.2M204 534L204 539.5M213.7 534L213.7 537.2M219.4 534L219.4 537.2M223.5 534L223.5 537.2M226.6 534L226.6 537.2M229.2 534L229.2 537.2M231.4 534L231.4 537.2M233.2 534L233.2 537.2M234.9 534L234.9 537.2M236.4 534L236.4 539.5M246.1 534L246.1 537.2M251.8 534L251.8 537.2M255.9 534L255.9 537.2M259 534L259 537.2M261.6 534L261.6 537.2M263.7 534L263.7 537.2M265.6 534L265.6 537.2M267.3 534L267.3 537.2M268.8 534L268.8 539.5M278.5 534L278.5 537.2M284.2 534L284.2 537.2M288.2 534L288.2 537.2M291.4 534L291.4 537.2M293.9 534L293.9 537.2M296.1 534L296.1 537.2M298 534L298 537.2M299.6 534L299.6 537.2M301.1 534L301.1 539.5M310.9 534L310.9 537.2M316.6 534L316.6 537.2M320.6 534L320.6 537.2M323.8 534L323.8 537.2M326.3 534L326.3 537.2M328.5 534L328.5 537.2M330.4 534L330.4 537.2M332 534L332 537.2M333.5 534L333.5 539.5" stroke="#000" stroke-width="1" fill="none"/>
<text transform="translate(193.39 446.34) rotate(-90)" x="0" y="0" font-size="10.59" font-family="Liberation Sans" stroke="#000" stroke-width="0.4" textLength="16.32" lengthAdjust="spacingAndGlyphs">150</text>
<text transform="translate(193.39 536.04) rotate(-90)" x="0" y="0" font-size="10.59" font-family="Liberation Sans" stroke="#000" stroke-width="0.4" textLength="6.05" lengthAdjust="spacingAndGlyphs">0</text>
<text x="195.82" y="554.27" font-size="13.42" font-family="Liberation Sans" stroke="#000" stroke-width="0.4" textLength="11.37" lengthAdjust="spacingAndGlyphs">10</text>
<text x="207.70" y="548.08" font-size="12.15" font-family="Liberation Sans" stroke="#000" stroke-width="0.4" textLength="5.58" lengthAdjust="spacingAndGlyphs">0</text>
<text x="228.20" y="554.27" font-size="13.42" font-family="Liberation Sans" stroke="#000" stroke-width="0.4" textLength="11.37" lengthAdjust="spacingAndGlyphs">10</text>
<text x="239.63" y="548.20" font-size="12.50" font-family="Liberation Sans" stroke="#000" stroke-width="0.4" textLength="6.18" lengthAdjust="spacingAndGlyphs">1</text>
<text x="260.57" y="554.27" font-size="13.42" font-family="Liberation Sans" stroke="#000" stroke-width="0.4" textLength="11.37" lengthAdjust="spacingAndGlyphs">10</text>
<text x="272.32" y="548.20" font-size="12.32" font-family="Liberation Sans" stroke="#000" stroke-width="0.4" textLength="5.85" lengthAdjust="spacingAndGlyphs">2</text>
<text x="292.95" y="554.27" font-size="13.42" font-family="Liberation Sans" stroke="#000" stroke-width="0.4" textLength="11.37" lengthAdjust="spacingAndGlyphs">10</text>
<text x="304.84" y="548.08" font-size="12.15" font-family="Liberation Sans" stroke="#000" stroke-width="0.4" textLength="5.63" lengthAdjust="spacingAndGlyphs">3</text>
<text x="325.32" y="554.27" font-size="13.42" font-family="Liberation Sans" stroke="#000" stroke-width="0.4" textLength="11.37" lengthAdjust="spacingAndGlyphs">10</text>
<text x="337.39" y="548.20" font-size="12.50" font-family="Liberation Sans" stroke="#000" stroke-width="0.4" textLength="5.30" lengthAdjust="spacingAndGlyphs">4</text>
<polyline points="206.1,512.4 207.2,527.4 209.1,523.7 211,508.7 212.3,491.8 213.6,473.1 215.1,454.4 217,443.1 218.9,437.5 220.4,445 221.7,458.1 223,475 224.5,491.8 225.8,510.6 227.3,525.5 228.6,532.1 260,532.4" fill="none" stroke="#000" stroke-width="1.1" stroke-linejoin="miter" stroke-miterlimit="2"/>
<polyline points="204,533.2 235.7,532.1 239.5,529.3 243.2,525.5 247,521.8 249.8,512.4 251.6,504.9 253.5,493.7 256.3,482.5 258.2,473.1 259.7,465.6 261,469.3 262.3,475 263.8,486.2 265.7,499.3 267.6,510.6 269.4,523.7 272.3,531.2 276.9,532.7 333.5,533" fill="none" stroke="#000" stroke-width="2.3" stroke-linejoin="miter" stroke-miterlimit="2"/>
<text x="238.30" y="398.90" font-size="11.70" font-family="Liberation Serif" font-weight="bold" textLength="38.80" lengthAdjust="spacingAndGlyphs">PSGL-1</text>
<text x="207.98" y="412.80" font-size="11.70" font-family="Liberation Serif" font-weight="bold" textLength="113.82" lengthAdjust="spacingAndGlyphs">(CD162 , KPL-1 mAb)</text>
<polyline points="375.5,430.5 511.5,430.5 511.5,535" fill="none" stroke="#000" stroke-width="1.1"/>
<line x1="375.5" y1="430" x2="375.5" y2="535.5" stroke="#000" stroke-width="1.2"/>
<line x1="375.2" y1="535" x2="511.6" y2="535" stroke="#000" stroke-width="1.8"/>
<path d="M375.8 534.5L370.4 534.5M375.8 530.6L372.6 530.6M375.8 526.7L372.6 526.7M375.8 522.7L372.6 522.7M375.8 518.8L372.6 518.8M375.8 514.9L370.4 514.9M375.8 511L372.6 511M375.8 507.1L372.6 507.1M375.8 503.1L372.6 503.1M375.8 499.2L372.6 499.2M375.8 495.3L370.4 495.3M375.8 491.4L372.6 491.4M375.8 487.5L372.6 487.5M375.8 483.5L372.6 483.5M375.8 479.6L372.6 479.6M375.8 475.7L370.4 475.7M375.8 471.8L372.6 471.8M375.8 467.9L372.6 467.9M375.8 463.9L372.6 463.9M375.8 460L372.6 460M375.8 456.1L370.4 456.1M375.8 452.2L372.6 452.2M375.8 448.3L372.6 448.3M375.8 444.3L372.6 444.3M375.8 440.4L372.6 440.4M375.8 436.5L370.4 436.5M375.8 432.6L372.6 432.6M375.8 535L375.8 540.5M386 535L386 538.2M391.9 535L391.9 538.2M396.1 535L396.1 538.2M399.4 535L399.4 538.2M402.1 535L402.1 538.2M404.4 535L404.4 538.2M406.3 535L406.3 538.2M408.1 535L408.1 538.2M409.6 535L409.6 540.5M419.8 535L419.8 538.2M425.7 535L425.7 538.2M429.9 535L429.9 538.2M433.2 535L433.2 538.2M435.9 535L435.9 538.2M438.2 535L438.2 538.2M440.1 535L440.1 538.2M441.9 535L441.9 538.2M443.4 535L443.4 540.5M453.6 535L453.6 538.2M459.5 535L459.5 538.2M463.7 535L463.7 538.2M467 535L467 538.2M469.7 535L469.7 538.2M472 535L472 538.2M473.9 535L473.9 538.2M475.7 535L475.7 538.2M477.2 535L477.2 540.5M487.4 535L487.4 538.2M493.3 535L493.3 538.2M497.5 535L497.5 538.2M500.8 535L500.8 538.2M503.5 535L503.5 538.2M505.8 535L505.8 538.2M507.7 535L507.7 538.2M509.5 535L509.5 538.2M511 535L511 540.5" stroke="#000" stroke-width="1" fill="none"/>
<text transform="translate(365.39 443.84) rotate(-90)" x="0" y="0" font-size="10.59" font-family="Liberation Sans" stroke="#000" stroke-width="0.4" textLength="16.32" lengthAdjust="spacingAndGlyphs">150</text>
<text transform="translate(365.39 537.04) rotate(-90)" x="0" y="0" font-size="10.59" font-family="Liberation Sans" stroke="#000" stroke-width="0.4" textLength="6.05" lengthAdjust="spacingAndGlyphs">0</text>
<text x="367.62" y="556.57" font-size="13.42" font-family="Liberation Sans" stroke="#000" stroke-width="0.4" textLength="11.37" lengthAdjust="spacingAndGlyphs">10</text>
<text x="379.50" y="550.38" font-size="12.15" font-family="Liberation Sans" stroke="#000" stroke-width="0.4" textLength="5.58" lengthAdjust="spacingAndGlyphs">0</text>
<text x="401.42" y="556.57" font-size="13.42" font-family="Liberation Sans" stroke="#000" stroke-width="0.4" textLength="11.37" lengthAdjust="spacingAndGlyphs">10</text>
<text x="412.86" y="550.50" font-size="12.50" font-family="Liberation Sans" stroke="#000" stroke-width="0.4" textLength="6.18" lengthAdjust="spacingAndGlyphs">1</text>
<text x="435.22" y="556.57" font-size="13.42" font-family="Liberation Sans" stroke="#000" stroke-width="0.4" textLength="11.37" lengthAdjust="spacingAndGlyphs">10</text>
<text x="446.97" y="550.50" font-size="12.32" font-family="Liberation Sans" stroke="#000" stroke-width="0.4" textLength="5.85" lengthAdjust="spacingAndGlyphs">2</text>
<text x="469.02" y="556.57" font-size="13.42" font-family="Liberation Sans" stroke="#000" stroke-width="0.4" textLength="11.37" lengthAdjust="spacingAndGlyphs">10</text>
<text x="480.92" y="550.38" font-size="12.15" font-family="Liberation Sans" stroke="#000" stroke-width="0.4" textLength="5.63" lengthAdjust="spacingAndGlyphs">3</text>
<text x="502.82" y="556.57" font-size="13.42" font-family="Liberation Sans" stroke="#000" stroke-width="0.4" textLength="11.37" lengthAdjust="spacingAndGlyphs">10</text>
<text x="514.89" y="550.50" font-size="12.50" font-family="Liberation Sans" stroke="#000" stroke-width="0.4" textLength="5.30" lengthAdjust="spacingAndGlyphs">4</text>
<polyline points="377.8,533.8 385.5,532.8 388.4,529.9 391.3,520.3 393.2,508.8 395.2,493.4 397.1,478 398.6,466.5 400,458.8 401.5,454.9 402.8,458.8 404.4,468.4 405.7,478 407.1,489.5 408.2,501.1 409.6,514.5 410.9,526.1 412.5,531.8 418.2,531.8 424,533.4 431.7,533.8" fill="none" stroke="#000" stroke-width="1.1" stroke-linejoin="miter" stroke-miterlimit="2"/>
<polyline points="377.8,534 410.5,533.8 412.5,530.9 415.3,524.2 418.2,518.4 421.1,515.5 424,512.6 425.9,510.7 428.8,506.8 430.7,503 432.7,495.3 434.6,491.5 436.5,489.5 438.4,483.8 440.3,477 442.3,485.7 444.2,495.3 446.1,501.1 448,510.7 450,518.4 451.9,524.2 453.8,529.9 456.7,532.8 462.5,533.8 511,534" fill="none" stroke="#000" stroke-width="2.3" stroke-linejoin="miter" stroke-miterlimit="2"/>
<text x="410.34" y="396.70" font-size="11.70" font-family="Liberation Serif" font-weight="bold" textLength="55.22" lengthAdjust="spacingAndGlyphs">β1 integrin</text>
<text x="404.68" y="410.00" font-size="11.70" font-family="Liberation Serif" font-weight="bold" textLength="98.12" lengthAdjust="spacingAndGlyphs">(CD29, P5D2 mAb)</text>
<text x="46.00" y="581.50" font-size="16.30" font-family="Liberation Serif" font-weight="bold" textLength="188.17" lengthAdjust="spacingAndGlyphs">Log Fluorescence Intensity</text>
<line x1="245.2" y1="575.8" x2="474" y2="575.8" stroke="#000" stroke-width="2.3"/>
<polygon points="473.1,569.8 485.6,575.7 473.1,582.2" fill="#000"/>
</svg>
</body></html>
